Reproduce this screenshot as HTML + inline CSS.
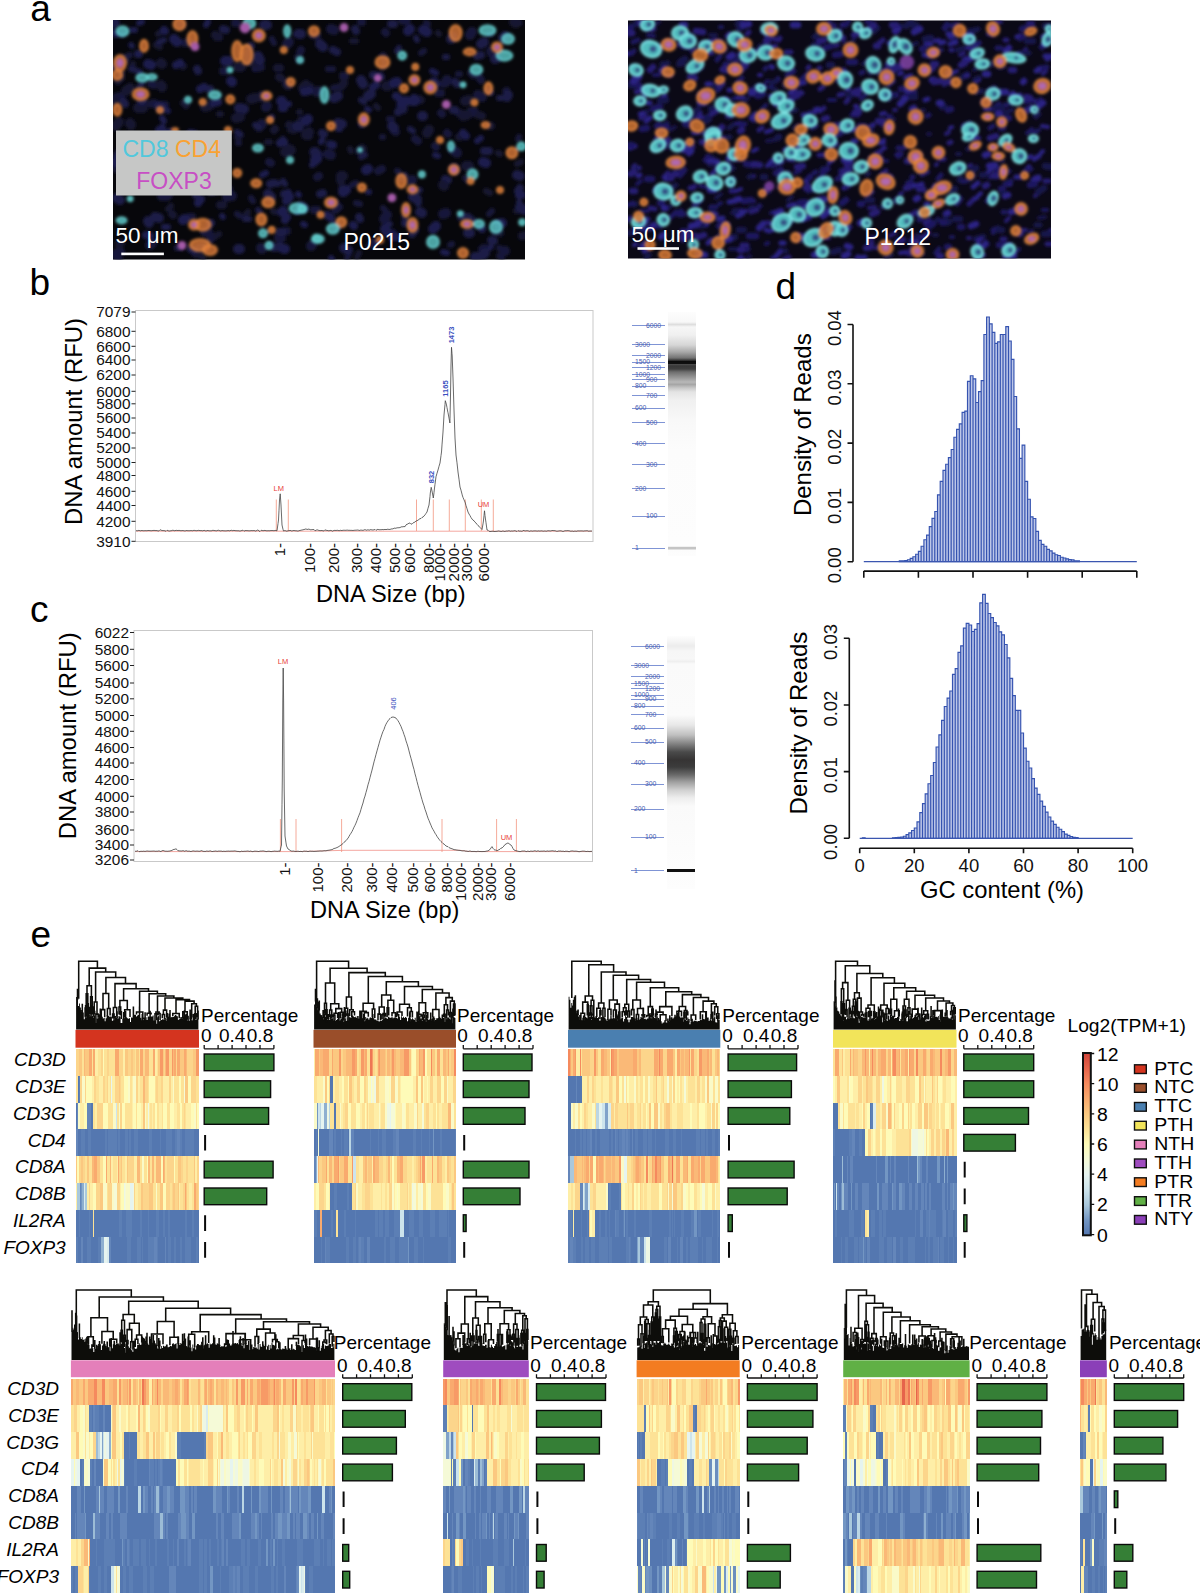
<!DOCTYPE html>
<html><head><meta charset="utf-8"><title>Figure</title>
<style>
html,body{margin:0;padding:0;background:#fff}
body{width:1200px;height:1593px;overflow:hidden;position:relative}
svg{position:absolute;left:0;top:0;display:block}
text{font-family:"Liberation Sans",sans-serif}
</style></head><body>
<svg width="1200" height="1593" viewBox="0 0 1200 1593" font-family="Liberation Sans, sans-serif">
<defs><filter id="bl1" x="-5%" y="-5%" width="110%" height="110%"><feGaussianBlur stdDeviation="1.8"/></filter><filter id="bl2" x="-5%" y="-5%" width="110%" height="110%"><feGaussianBlur stdDeviation="1.1"/></filter><filter id="bl3" x="-5%" y="-5%" width="110%" height="110%"><feGaussianBlur stdDeviation="1.4"/></filter></defs>
<text x="30.2" y="20.5" font-size="37">a</text>
<text x="29.5" y="295.2" font-size="37">b</text>
<text x="30" y="622" font-size="37">c</text>
<text x="775.5" y="298.8" font-size="37">d</text>
<text x="30.5" y="946.7" font-size="37">e</text>
<style>.c{fill:#2a6680;fill-opacity:.85;stroke:#7ce4e4;stroke-width:2.4}.o{fill:#b0602e;fill-opacity:.85;stroke:#f09444;stroke-width:2.2}.m{fill:#c070c4;stroke:#c070c4;stroke-width:1}.mc{fill:#b068c8;fill-opacity:.85}.lc{fill:#5cc8c8;fill-opacity:.8;stroke:#6ad8d8;stroke-width:1.6}.lo{fill:#d87838;fill-opacity:.8;stroke:#ec8c40;stroke-width:1.6}.lm{fill:#a45aa8;stroke:#a45aa8;stroke-width:1}.rc{fill:#58cccc;fill-opacity:.92;stroke:#84e8e8;stroke-width:1.8}.ro{fill:#d07434;fill-opacity:.85;stroke:#ec8c40;stroke-width:1.8}.rm{fill:#8a48b0;stroke:#8a48b0;stroke-width:1;opacity:.8}.cn{fill:#2c3a78;fill-opacity:.8}[class^=n]{fill:none;stroke-linecap:round}.n0{stroke:#15163a}.n1{stroke:#1a1b46}.n2{stroke:#121332}.n3{stroke:#1c1c4e}.q0{stroke:#1e1860}.q1{stroke:#261d72}.q2{stroke:#18134c}.q3{stroke:#2c2284}[class^=q]{fill:none;stroke-linecap:round}</style>
<clipPath id="ca1"><rect x="113" y="20" width="412" height="239.5"/></clipPath>
<rect x="113" y="20" width="412" height="239.5" fill="#07070b"/>
<g clip-path="url(#ca1)">
<g filter="url(#bl1)"><path class="n0" stroke-width="10" d="M443 214l3 -1M403 20l3 -0M328 154l3 1M150 245l2 -2M266 107l1 -1M138 151l2 -2M491 51l1 2M227 195l5 1M384 219l3 -4M211 174l2 3M227 197l2 -1M331 29l3 1M311 246l1 -1M453 150l4 3M446 82l1 -2M162 196l1 -0M205 232l3 -0M182 154l4 -2M504 251l1 -0M121 61l4 -2M470 35l2 -3M401 106l2 3M336 226l1 -1M261 248l1 1M118 99l2 -2M478 95l4 2M374 243l1 0M259 127l3 -3M287 44l2 -2M249 61l2 0M471 112l3 0M469 224l3 -3M317 92l1 -1M181 142l3 -4M261 97l1 -1M287 84l1 1M116 254l4 -2M314 152l4 3M166 196l2 -1M411 181l1 -1"/><path class="n3" stroke-width="6" d="M271 118l1 -1M381 75l1 2M297 212l2 -1M321 142l1 -2M371 245l4 -2M132 30l3 -0M338 129l2 -0M137 71l3 1M477 141l4 -3M331 258l1 1M113 67l5 2M312 165l3 -2M443 252l4 1M285 104l4 0M368 192l1 0M516 19l3 4M190 132l5 1M298 194l1 1M487 249l4 -2M435 155l3 1M432 71l4 2M303 224l2 1M262 175l4 -2M222 216l1 1M255 69l1 -1M162 118l2 3M488 90l3 3M164 227l4 0M165 108l3 3M139 23l3 -1M206 25l2 -3M367 109l2 1"/><path class="n0" stroke-width="8" d="M459 113l3 1M394 131l2 1M190 217l2 -0M415 139l3 2M479 77l2 3M217 37l2 0M210 240l3 -3M163 105l2 -0M235 23l2 -0M393 233l1 1M151 104l3 -1M313 35l4 1M300 52l1 -2M343 76l2 0M441 113l1 1M335 210l4 -3M361 22l1 -0M278 238l4 0M447 133l1 1M378 171l4 -2M435 146l1 1M223 71l2 0M285 231l2 -0M258 68l3 -1M383 56l1 2M438 93l3 0M329 144l1 0M314 210l3 -0M482 249l2 -1M269 162l2 1M385 32l1 1M151 84l3 1M185 43l4 -1M317 177l2 -1M307 87l3 -0M123 155l2 1"/><path class="n2" stroke-width="8" d="M341 87l3 -4M120 153l3 1M340 180l1 2M118 81l3 -3M215 35l2 1M119 244l2 -1M522 236l4 -1M490 126l1 -0M238 137l2 -2M274 130l1 -1M279 77l2 1M459 137l3 -1M184 103l2 2M172 214l1 1M220 205l3 0M277 68l3 -0M192 149l1 -1M298 57l1 2M181 64l2 2M115 168l1 1M479 115l3 1M289 125l2 1M201 181l2 3M419 99l2 1M217 161l1 1M496 233l4 -0M246 54l5 1M301 120l1 1M254 64l2 -1"/><path class="n0" stroke-width="6" d="M470 73l3 3M397 171l2 1M499 256l3 2M128 56l2 -1M505 91l2 -1M116 258l4 2M383 67l1 -2M238 143l1 0M404 217l1 1M458 74l2 0M382 137l1 0M450 245l2 -1M426 23l2 1M499 248l2 1M489 34l2 0M421 53l3 -2M460 218l3 -3M356 203l4 1M251 198l2 3M518 139l1 -2M347 258l2 -4M352 185l4 -2M237 214l3 2M465 178l2 2M441 84l3 1M122 35l1 -2M272 39l2 4M389 119l3 0M116 96l4 1M489 214l3 -3M264 249l1 -1M383 208l2 2M129 153l2 -2M333 88l4 -1M229 190l1 -1M120 74l2 -1M328 69l5 0"/><path class="n2" stroke-width="6" d="M246 214l2 -2M498 153l2 1M273 211l2 1M494 233l3 -0M216 236l3 -2M352 41l4 0M201 256l2 2M156 45l4 2M168 209l3 -3M290 130l4 1M516 211l2 -0M486 191l4 2M438 33l1 1M132 66l1 -2M219 114l2 -0M350 149l1 2M158 34l4 -2M376 106l2 2M517 164l4 -2M369 246l2 -3M267 142l3 -0M299 112l1 0M357 257l2 -4"/><path class="n1" stroke-width="10" d="M148 221l1 2M507 97l1 -2M466 218l2 0M315 152l1 1M320 44l3 3M503 38l2 -2M268 194l3 3M451 39l2 -2M211 191l4 -1M297 126l2 1M112 23l3 -0M361 80l2 4M118 156l3 -4M368 96l3 -2M307 134l1 1M238 249l2 -0M392 126l2 2M299 34l2 -0M239 108l5 1M483 255l2 -2M422 116l1 0M264 25l3 -0M334 98l4 -2M520 207l4 3M117 198l3 2M155 217l4 1M301 206l3 2M475 257l2 -0M413 197l4 2M182 153l2 4M279 247l1 0M495 59l2 -1M420 212l2 1M517 175l3 1M481 44l3 -2M338 123l4 1M258 56l2 4M468 233l2 -0M344 248l4 2"/><path class="n1" stroke-width="8" d="M405 223l3 0M297 34l1 -1M200 165l4 -1M320 194l3 -1M272 246l2 2M270 184l4 -1M445 179l3 1M477 56l4 -1M391 24l3 -0M250 47l1 -1M123 101l2 3M154 180l1 0M398 112l4 -3M333 50l4 2M412 234l3 -4M484 151l5 -0M455 82l2 2M453 110l2 -0M491 240l3 1M284 194l5 2M197 69l1 2M373 75l5 1M322 133l2 1M223 29l3 1M359 217l1 2M279 232l4 0M355 29l1 2M518 191l2 -3M392 237l2 -0M209 89l1 0"/><path class="n2" stroke-width="10" d="M465 101l4 -1M463 116l4 -1M138 108l5 0M306 135l3 -3M196 253l2 0M285 152l4 0M360 151l2 -2M238 67l3 0M113 100l2 2M443 185l1 1M427 133l2 -3M386 86l2 0M199 180l3 -2M303 88l3 -3M116 126l3 -4M188 186l3 1M180 24l1 -0M289 149l2 1M466 166l3 0M236 118l4 -1M205 107l4 -1M161 85l1 2M341 176l2 -0M130 123l1 2M161 63l1 1M126 91l4 -3M514 22l2 1M200 249l3 -1M251 99l4 -1"/><path class="n1" stroke-width="6" d="M283 181l2 3M195 196l2 -1M418 191l2 -1M361 157l4 -2M416 38l1 2M258 210l2 2M277 183l1 1M282 140l1 -1M410 129l3 2M418 204l1 -1M361 100l3 2M131 45l1 1M154 167l3 -4M397 51l2 -3M341 189l5 1M519 202l1 1M177 248l3 -0M499 98l3 -0M139 87l3 -3M255 125l4 2M159 42l5 -2M401 178l4 -3M237 132l3 2M445 57l2 -0M388 225l2 -1M245 219l4 -0M131 69l4 1"/><path class="n3" stroke-width="10" d="M402 103l4 -2M282 212l1 -1M394 83l3 -1M231 81l1 1M498 224l4 -1M183 220l2 -1M159 106l3 2M116 162l3 -2M433 229l3 -3M483 162l3 1M454 168l1 2M434 82l1 2M225 61l4 -0M315 160l2 -1M408 31l2 -2M281 101l1 0M174 39l3 3M343 192l3 -2M284 249l1 0M148 64l3 1M306 121l2 -2M366 170l2 -1M423 30l4 2M385 229l2 3M412 101l3 -0"/><path class="n3" stroke-width="8" d="M214 103l4 -1M176 65l4 -2M115 33l1 1M191 249l3 1M519 195l3 -0M334 203l1 -0M210 224l1 -1M141 101l2 0M146 235l4 1M164 30l1 1M288 193l2 4M166 134l4 -2M159 130l3 -2M138 54l1 -0M481 228l1 1M463 133l3 3M373 87l3 -2M286 201l2 -1M127 145l4 0M285 220l2 -3M362 124l1 -1M280 143l4 -1M198 203l3 -4M414 98l1 1M327 215l4 3M304 92l5 -1M332 145l1 0M396 96l3 2M392 236l4 1M282 108l2 -0M200 89l4 -2M187 165l2 1M353 225l1 1"/></g>
<g filter="url(#bl3)"><ellipse class="lc" cx="122.5" cy="31.2" rx="6" ry="5"/><ellipse class="lo" cx="179.4" cy="24.3" rx="6" ry="6"/><ellipse class="lo" cx="192.4" cy="39" rx="5" ry="8"/><ellipse class="lm" cx="195" cy="46.7" rx="4" ry="4"/><ellipse class="lo" cx="144" cy="45.9" rx="4" ry="6"/><ellipse class="lo" cx="120" cy="63" rx="6" ry="8"/><ellipse class="mc" cx="120" cy="63" rx="3" ry="4"/><ellipse class="lo" cx="117.3" cy="75" rx="5" ry="5"/><ellipse class="lc" cx="142.3" cy="77.8" rx="6" ry="4"/><ellipse class="lc" cx="151.8" cy="77" rx="5" ry="3"/><ellipse class="lo" cx="140.6" cy="94.2" rx="8" ry="6"/><ellipse class="mc" cx="140.6" cy="94.2" rx="4" ry="3"/><ellipse class="lo" cx="117.3" cy="109.7" rx="4" ry="6"/><ellipse class="lc" cx="214.8" cy="95" rx="6" ry="4"/><ellipse class="lc" cx="188" cy="99.7" rx="3" ry="3"/><ellipse class="lo" cx="230.3" cy="99.4" rx="4" ry="4"/><ellipse class="lo" cx="202.7" cy="102" rx="3" ry="3"/><ellipse class="lo" cx="237.2" cy="51" rx="5" ry="10"/><ellipse class="lo" cx="246.7" cy="54.5" rx="6" ry="10"/><ellipse class="lc" cx="249.3" cy="23.4" rx="6" ry="5"/><ellipse class="lm" cx="245" cy="27.8" rx="5" ry="5"/><ellipse class="lo" cx="258.8" cy="35.5" rx="6" ry="6"/><ellipse class="mc" cx="258.8" cy="35.5" rx="3" ry="3"/><ellipse class="lc" cx="287.2" cy="31.2" rx="3" ry="6"/><ellipse class="lo" cx="314" cy="31.2" rx="5" ry="5"/><ellipse class="lo" cx="283.8" cy="50" rx="3" ry="3"/><ellipse class="lo" cx="290.7" cy="82" rx="4" ry="4"/><ellipse class="lo" cx="266.5" cy="95.9" rx="5" ry="4"/><ellipse class="mc" cx="266.5" cy="95.9" rx="2.5" ry="2"/><ellipse class="lm" cx="344" cy="27.5" rx="4" ry="4"/><ellipse class="lo" cx="382.5" cy="62.2" rx="7" ry="6"/><ellipse class="lc" cx="402.2" cy="55.6" rx="4" ry="4"/><ellipse class="lm" cx="377.8" cy="78" rx="3.5" ry="3.5"/><ellipse class="lo" cx="414.4" cy="80" rx="5" ry="5"/><ellipse class="mc" cx="414.4" cy="80" rx="2.5" ry="2.5"/><ellipse class="lo" cx="404" cy="88.4" rx="4" ry="4"/><ellipse class="lo" cx="430.3" cy="87.5" rx="6" ry="6"/><ellipse class="mc" cx="430.3" cy="87.5" rx="3" ry="3"/><ellipse class="lo" cx="415.3" cy="66.9" rx="3" ry="3"/><ellipse class="lc" cx="324.4" cy="95" rx="4" ry="8"/><ellipse class="lo" cx="363.8" cy="119.4" rx="5" ry="6"/><ellipse class="mc" cx="363.8" cy="119.4" rx="2.5" ry="3"/><ellipse class="lo" cx="331" cy="126" rx="4" ry="4"/><ellipse class="lm" cx="446.3" cy="104.4" rx="4" ry="4"/><ellipse class="lo" cx="455.6" cy="33" rx="6" ry="8"/><ellipse class="lo" cx="469.7" cy="51.9" rx="6" ry="3.5"/><ellipse class="lc" cx="487.5" cy="30.3" rx="8" ry="5"/><ellipse class="lc" cx="508" cy="38.8" rx="6" ry="5"/><ellipse class="lc" cx="504.4" cy="55.6" rx="8" ry="5"/><ellipse class="lo" cx="497" cy="47.2" rx="5" ry="5"/><ellipse class="mc" cx="497" cy="47.2" rx="2.5" ry="2.5"/><ellipse class="lc" cx="476.3" cy="69.7" rx="6" ry="5"/><ellipse class="lo" cx="488.4" cy="88.4" rx="4" ry="6"/><ellipse class="lo" cx="474.4" cy="102.5" rx="3" ry="3"/><ellipse class="lo" cx="485.6" cy="125" rx="4" ry="3"/><ellipse class="lc" cx="463" cy="84.7" rx="2.5" ry="2.5"/><ellipse class="lc" cx="257.9" cy="148" rx="5" ry="3.5"/><ellipse class="lo" cx="237.2" cy="173" rx="4" ry="4"/><ellipse class="lo" cx="256.2" cy="183.3" rx="5" ry="4"/><ellipse class="lo" cx="268.3" cy="202.3" rx="6" ry="5"/><ellipse class="lc" cx="297.6" cy="208.3" rx="8" ry="5"/><ellipse class="lo" cx="261.4" cy="219.5" rx="5" ry="6"/><ellipse class="lo" cx="202.7" cy="224.7" rx="8" ry="6"/><ellipse class="lo" cx="194" cy="224.7" rx="5" ry="5"/><ellipse class="mc" cx="194" cy="224.7" rx="2.5" ry="2.5"/><ellipse class="lo" cx="200" cy="245" rx="10" ry="6"/><ellipse class="lo" cx="210" cy="250" rx="7" ry="5"/><ellipse class="lm" cx="182" cy="245.4" rx="4" ry="4"/><ellipse class="lc" cx="121.6" cy="220.4" rx="5" ry="3"/><ellipse class="lc" cx="263" cy="233.3" rx="4" ry="4"/><ellipse class="lc" cx="269" cy="245.4" rx="3.5" ry="3.5"/><ellipse class="lc" cx="316.5" cy="238.5" rx="4" ry="4"/><ellipse class="lo" cx="271.7" cy="229.9" rx="3" ry="3"/><ellipse class="lc" cx="130.2" cy="198.8" rx="2.5" ry="2.5"/><ellipse class="lc" cx="451" cy="146.3" rx="3" ry="5"/><ellipse class="lo" cx="511.9" cy="152.8" rx="5.5" ry="5.5"/><ellipse class="lc" cx="521.3" cy="146.3" rx="4" ry="4"/><ellipse class="lo" cx="453.8" cy="169.7" rx="5" ry="5"/><ellipse class="mc" cx="453.8" cy="169.7" rx="2.5" ry="2.5"/><ellipse class="lc" cx="472.5" cy="174.4" rx="5" ry="5"/><ellipse class="lo" cx="470.6" cy="181" rx="3" ry="3"/><ellipse class="lo" cx="401.3" cy="181" rx="5" ry="7"/><ellipse class="lc" cx="421.9" cy="174.4" rx="3" ry="3"/><ellipse class="lo" cx="412.5" cy="189.4" rx="5" ry="4"/><ellipse class="mc" cx="412.5" cy="189.4" rx="2.5" ry="2"/><ellipse class="lo" cx="361.9" cy="187.5" rx="4" ry="4"/><ellipse class="lo" cx="331" cy="202.5" rx="6" ry="5"/><ellipse class="mc" cx="331" cy="202.5" rx="3" ry="2.5"/><ellipse class="lc" cx="302.8" cy="209" rx="4" ry="4"/><ellipse class="lo" cx="406" cy="210" rx="4" ry="7"/><ellipse class="mc" cx="406" cy="210" rx="2" ry="3.5"/><ellipse class="lo" cx="412.5" cy="225" rx="5" ry="7"/><ellipse class="mc" cx="412.5" cy="225" rx="2.5" ry="3.5"/><ellipse class="lm" cx="391.9" cy="197.8" rx="4" ry="4"/><ellipse class="lo" cx="341.3" cy="222.2" rx="5" ry="5"/><ellipse class="lc" cx="332.8" cy="228.8" rx="6" ry="5"/><ellipse class="lc" cx="317.8" cy="239" rx="6" ry="4"/><ellipse class="lc" cx="433" cy="241.9" rx="6" ry="6"/><ellipse class="lo" cx="466.9" cy="224" rx="6" ry="4"/><ellipse class="mc" cx="466.9" cy="224" rx="3" ry="2"/><ellipse class="lc" cx="479" cy="224" rx="5" ry="4"/><ellipse class="lc" cx="496" cy="226.9" rx="6" ry="6"/><ellipse class="lc" cx="522.2" cy="222.2" rx="3" ry="3"/><ellipse class="lo" cx="463" cy="253" rx="5" ry="5"/><ellipse class="lo" cx="320.6" cy="214.7" rx="3" ry="3"/><ellipse class="lc" cx="460.3" cy="213.8" rx="2.5" ry="2.5"/><ellipse class="lo" cx="160" cy="110" rx="3" ry="3"/><ellipse class="lo" cx="175" cy="130" rx="3" ry="2"/><ellipse class="lo" cx="228" cy="130" rx="3" ry="3"/><ellipse class="lc" cx="300" cy="60" rx="3" ry="3"/><ellipse class="lo" cx="350" cy="70" rx="3" ry="3"/><ellipse class="lc" cx="360" cy="150" rx="2" ry="2"/><ellipse class="lo" cx="440" cy="140" rx="3" ry="3"/><ellipse class="lc" cx="290" cy="160" rx="3" ry="3"/><ellipse class="lo" cx="150" cy="160" rx="2" ry="2"/><ellipse class="lo" cx="380" cy="240" rx="3" ry="3"/><ellipse class="lo" cx="500" cy="190" rx="3" ry="3"/><ellipse class="lc" cx="230" cy="70" rx="2.5" ry="2.5"/><ellipse class="lo" cx="270" cy="120" rx="3" ry="3"/></g>
</g>
<clipPath id="ca2"><rect x="628" y="20.5" width="423" height="238"/></clipPath>
<rect x="628" y="20.5" width="423" height="238" fill="#0b0916"/>
<g clip-path="url(#ca2)">
<g filter="url(#bl3)"><path class="q1" stroke-width="4" d="M890 236l5 -3M995 22l6 -0M784 150l2 -1M1046 234l5 -4M922 175l6 -3M827 25l3 -3M704 93l4 0M749 201l5 -0M971 53l4 -0M778 161l2 -2M946 134l3 -2M988 34l5 1M822 232l3 -3M888 127l3 -0M960 55l4 -2M963 77l5 -1M1043 74l3 -3M770 66l2 -0M760 115l3 -2M900 194l2 -1M1035 196l4 -3M766 36l3 -1M836 136l5 -2M833 130l3 -2M763 223l6 -1M779 187l3 -2M847 184l2 0M910 97l5 -4M870 158l4 -0M894 110l2 -0M772 258l5 -2M870 88l2 -2M1028 23l5 -0M769 224l4 0M1042 37l5 -3M840 175l5 -0M751 177l3 -1M796 239l6 -0M889 85l5 -4M719 226l5 -1M835 46l3 -1M735 124l6 -1M825 238l4 0M876 248l2 -1M736 56l4 -2M1006 221l3 -3M950 44l6 -1M807 114l4 -2M936 165l1 -1M827 132l6 1M969 166l2 -1M697 221l2 -0M977 257l7 -2M1019 230l7 -0M968 238l2 -0M944 85l3 -3M1024 51l2 -2M869 208l6 -1M856 258l2 -2M633 167l2 -2M919 237l7 -0M925 235l4 -2M870 239l3 -2"/><path class="q2" stroke-width="5" d="M755 87l3 -1M843 132l6 -1M690 215l3 1M1032 132l4 -0M822 169l6 -1M640 114l6 -2M814 37l4 -3M735 37l4 -0M970 59l7 0M710 161l3 -3M684 36l5 -2M671 188l5 -3M646 258l3 -3M870 73l4 -5M695 72l2 -1M760 46l6 -0M802 206l2 -0M976 92l6 -1M634 205l2 -1M886 257l5 -2M941 188l5 -3M781 121l6 -1M1022 53l7 0M953 39l3 -1M968 149l3 -2M903 148l4 -3M938 192l2 0M936 221l2 -2M723 138l7 -1M1006 112l6 -2M662 64l6 -1M851 94l4 -3M720 85l2 -2M957 50l6 -2M729 128l4 -3M882 207l4 -1M1011 103l3 -3M660 73l4 -3M731 185l1 0M662 127l5 -4M969 31l6 -1M802 217l1 -1M789 111l7 -1M721 240l3 -3M974 31l4 -2M1036 225l4 -0M749 177l2 -1M780 250l6 1M962 77l5 -3M991 65l5 -3M680 149l3 -3M744 101l3 -2M898 29l3 -3"/><path class="q3" stroke-width="5" d="M859 258l6 -1M940 43l4 -1M708 243l3 -3M1035 178l4 -1M1017 37l4 -1M638 176l2 -1M926 44l5 -0M707 84l4 -0M815 112l3 -3M1045 56l5 -0M869 128l4 -3M1036 71l4 -1M1034 159l5 -3M818 200l5 -2M926 204l2 -0M1016 177l5 -0M776 256l4 -4M1047 59l5 -3M714 190l1 -1M889 43l5 1M1015 97l5 -2M950 44l6 -2M837 80l4 -1M662 190l3 0M948 34l5 0M1033 180l6 -1M852 129l5 1M626 54l6 -1M696 112l4 1M844 188l3 -1M646 121l4 -3M1007 184l3 0M729 90l2 0M973 187l5 -4M729 202l6 -1M823 200l3 -1M815 211l3 -1M842 71l2 -1M728 159l4 -4M666 42l5 -0M781 243l3 0M853 141l3 0M950 37l3 -2M660 133l2 -2M816 53l3 0M718 219l5 -1M1025 172l4 -5M925 100l3 -1M636 169l3 -1M860 127l5 -1M911 241l7 1M648 103l2 -0M630 148l5 -2M711 214l5 0M806 181l2 -2M766 230l3 1M721 237l6 0M976 45l3 -2M924 55l7 1M917 186l5 -2M662 98l3 -2M977 247l2 -2M790 93l6 0M985 156l3 -1M735 159l3 -1M803 115l6 -1M804 207l5 -4M661 70l4 -2M883 71l3 -1M900 68l2 -2M968 42l3 -3"/><path class="q0" stroke-width="5" d="M717 60l3 -4M712 108l1 -0M909 93l6 -1M787 81l4 -1M852 115l6 0M643 97l3 -3M919 220l3 -1M878 73l2 0M814 173l2 -1M747 250l1 -1M987 201l2 -2M1005 184l6 -3M682 215l2 -1M990 128l3 -2M671 217l5 -5M759 206l1 0M819 179l3 -3M1007 172l2 -1M918 215l5 -2M1003 212l2 0M993 230l5 -2M1046 27l3 0M1026 28l7 -2M867 22l3 0M753 52l6 -2M938 179l3 -4M772 166l4 -1M1005 105l2 -0M706 118l4 -3M755 95l6 -3M656 139l2 -2M655 108l6 -1M693 188l2 -2M741 125l4 -1M737 108l5 -2M710 188l2 0M738 82l4 -4M765 69l1 -1M808 191l6 -2M996 106l3 -2M711 207l5 -0M725 64l3 0M837 179l5 -1M733 65l4 -5M825 232l1 -1M812 128l4 -2M1020 39l4 -3M927 116l2 -1M872 165l4 -2M903 97l3 0M633 42l5 -2M990 177l4 -3M631 53l3 -2M912 177l1 0M1025 171l6 -2M628 205l5 -2M861 73l2 -1M936 253l3 -4M898 148l6 -0M776 121l4 -0M692 51l3 -2M997 48l4 -0M881 124l5 1M728 181l5 -2M1041 68l6 -1"/><path class="q2" stroke-width="6.5" d="M838 80l1 -1M739 230l4 0M771 162l5 -3M716 240l4 -4M913 25l3 0M969 179l4 -3M739 146l3 -1M698 200l2 0M786 223l5 -2M785 85l6 -2M976 239l7 -2M715 86l6 -4M867 200l5 -0M866 130l5 -0M735 159l7 -0M689 118l6 -1M855 112l4 -2M989 91l5 -3M689 143l3 -1M629 233l5 -1M763 177l2 -0M942 107l2 -1M838 74l2 -3M1045 166l6 1M982 175l2 -0M1027 41l6 0M943 223l6 -1M706 121l3 -2M849 96l2 -1M1038 192l6 -4M663 146l6 0M999 230l3 -0M680 62l5 -3M735 211l7 0M696 111l2 -1M972 171l4 -3M960 180l1 -1M814 45l4 0M1044 234l5 -0M833 252l6 -2M660 101l6 -1M1045 26l5 -0M929 38l2 -0M738 24l3 -3M896 32l2 -2M955 219l5 0M739 29l5 -3M777 138l2 -1M895 201l1 -1M911 97l4 0M1036 116l2 -2M925 39l2 -0M927 221l2 -1M951 190l4 -1M751 209l2 -1M711 109l3 0M630 85l5 1M996 109l6 -1M702 44l5 0M731 238l4 -1M674 174l4 -4M849 168l3 -1M829 65l3 0M727 167l3 -2M874 31l3 -3M636 24l3 -3M906 26l5 -4M633 232l2 -2M732 58l3 -2M1005 248l2 -1"/><path class="q1" stroke-width="5" d="M780 163l2 -1M882 174l4 -3M642 230l4 -1M722 69l3 -2M940 159l4 0M786 52l5 -0M1047 244l6 -0M925 223l5 -1M750 90l4 1M820 111l4 -3M709 53l3 -0M842 25l5 -1M699 225l4 -5M747 34l2 -2M1002 239l3 -0M966 76l2 -1M641 118l4 -3M846 165l5 -3M856 112l2 -2M731 191l3 0M837 34l3 -3M1005 40l2 -0M788 159l5 1M1017 232l2 -0M760 86l5 1M755 115l2 -0M846 102l2 -2M808 68l1 -1M751 212l6 -2M727 36l2 -2M628 220l2 -2M949 143l2 -1M819 68l1 0M878 44l5 -4M876 154l5 -3M1034 101l5 1M725 99l2 -0M867 88l3 -0M778 39l2 -1M951 50l1 0M641 221l7 -2M930 196l3 0M842 74l4 -1M776 81l2 -2M742 245l5 0M656 189l3 -0M819 155l7 -0M969 204l5 -5M836 74l1 -1M799 84l1 0M682 231l7 -0M657 48l2 -1M650 208l5 1M725 71l5 -1M897 155l4 -1M784 259l5 -2M867 194l5 -2M1045 181l4 0M832 126l6 -2M712 114l5 -3M722 70l2 -2M907 253l6 -1M796 93l6 -0M832 195l2 -2M664 177l4 -4M911 215l5 -3M820 89l3 -2M759 130l3 -2M630 34l2 0M781 187l3 -0M652 30l2 -1M823 230l5 -2M690 188l4 -1M839 95l4 -1M743 60l2 -1M709 42l6 -2M712 174l5 -5M774 39l5 1M868 247l4 -4M691 148l2 -1"/><path class="q0" stroke-width="6.5" d="M728 116l2 0M945 28l2 -3M823 172l4 -3M799 203l6 -1M647 28l1 -1M660 203l2 -1M758 96l5 -2M723 50l1 -1M860 204l2 -0M642 129l5 -1M647 179l5 -0M629 145l3 -0M707 135l5 -5M831 146l5 -2M685 124l5 1M1022 29l6 -2M948 110l3 -1M746 164l7 1M628 30l3 -3M809 178l1 -1M1018 55l1 -1M706 160l3 -2M840 231l4 -4M960 227l2 -0M842 203l4 -3M928 227l5 -3M860 126l5 1M964 126l3 -1M744 201l7 -1M776 173l5 -3M719 226l5 -3M680 175l4 -5M957 203l3 -4M636 84l3 1M802 80l5 -5M999 245l6 -0M835 55l6 -1M788 75l5 -4M922 49l3 -1M901 89l5 0M828 26l6 -0M836 134l4 -3M695 205l2 -2M953 26l4 -1M749 236l7 0M1042 47l3 -3M849 62l6 0M997 170l4 -1M909 187l4 -2M1001 128l2 0M806 117l2 -2M1005 118l4 0M676 163l6 -1M907 91l6 -2M863 33l3 -1M653 109l5 -2M879 159l2 -0M663 127l4 -0M894 95l2 0M947 247l2 -0M679 214l2 -2M889 117l1 0M942 222l2 0M1030 185l5 -1M1026 101l5 -1M657 126l2 -1M1001 189l2 0M825 48l6 -2M688 38l4 1"/><path class="q0" stroke-width="4" d="M982 246l6 -2M898 157l3 -2M951 237l2 0M1038 101l3 -2M707 156l2 -0M641 211l7 0M763 192l6 0M678 45l5 -5M719 204l2 -1M682 47l7 1M766 244l2 -1M907 183l4 -2M658 227l3 -1M772 82l4 -1M1030 232l2 -1M762 32l3 -2M885 161l2 -0M720 27l2 -0M692 236l3 -2M963 182l4 -1M845 26l4 -5M759 88l6 -2M838 124l7 1M707 134l7 -2M970 138l6 -4M861 99l5 -5M781 98l2 0M1004 50l3 -1M795 173l5 -2M1034 132l5 -2M762 109l4 -4M829 100l6 -0M641 128l2 0M972 43l7 0M782 127l2 -1M846 187l4 -2M714 144l5 0M935 50l7 -0M771 213l2 -1M710 220l2 -2M1027 133l5 -4M770 87l2 -1M978 253l1 -1M654 75l5 -0M1015 253l4 -4M799 85l2 -2M654 191l4 -0M993 233l1 -1M733 99l4 -2M1043 210l4 0M840 171l1 -1M739 66l6 -3M702 133l3 0M626 174l5 0M775 219l4 -1M681 238l2 -1M637 184l4 -3M700 186l6 1M754 121l2 -1M717 91l3 -2M766 82l2 -1M780 177l2 -2M654 149l2 0M737 82l1 -0M648 35l6 1"/><path class="q3" stroke-width="6.5" d="M946 214l2 -1M814 255l4 -1M1011 212l6 -2M759 228l4 -4M666 178l5 -0M661 237l2 -2M912 109l2 -1M822 230l6 -0M803 219l6 -2M860 223l2 -1M883 96l5 -2M966 36l5 0M738 215l4 -2M640 225l6 -4M710 190l4 0M907 90l3 -1M684 150l4 -2M664 208l2 0M965 60l4 -1M1023 82l1 -1M847 246l3 1M1006 51l3 -3M939 103l2 -0M729 57l3 -2M689 153l2 -2M1001 92l5 0M793 25l5 -0M1005 196l3 -1M776 213l5 -2M642 247l3 -3M635 78l2 -1M1011 256l3 -0M736 200l3 -1M691 226l5 -1M998 114l2 0M698 254l7 1M948 73l3 0M682 25l3 0M916 199l2 -1M743 25l6 -1M710 162l7 0M932 80l2 0M989 166l6 -1M844 160l6 0M700 225l6 -1M971 226l5 -2M633 81l6 -4M724 226l3 -1M895 31l3 -2M650 228l4 -3M752 118l3 -3M726 240l4 -1M1039 106l4 -3M1012 95l1 -1M985 74l3 -0M912 250l4 -1M823 216l5 -4M700 103l4 0M751 93l2 -1M739 260l2 -2M900 104l5 -5M914 32l6 -3M976 80l2 -1M985 155l3 -1M844 256l4 -2"/><path class="q2" stroke-width="4" d="M631 171l6 -2M732 213l5 -1M999 68l5 -1M678 65l6 -1M896 65l6 -0M701 227l3 -3M786 173l3 -1M960 79l2 -0M716 198l5 -4M740 109l4 -1M928 134l2 0M632 67l3 -0M934 53l4 1M645 44l3 -3M765 189l3 -1M710 35l6 -0M921 111l3 -1M919 173l5 -2M798 240l4 1M730 249l6 0M710 211l4 -2M788 200l4 -3M975 79l3 -1M942 185l2 -1M767 141l7 -1M772 83l5 -3M877 73l5 -1M957 154l3 0M892 119l2 -0M654 25l5 -3M782 229l3 -1M669 207l2 -1M709 165l4 -0M863 64l4 -3M926 193l5 -1M918 254l5 0M794 128l4 -3M670 130l5 -3M731 170l3 -2M1039 218l6 -1M912 45l5 -2M849 44l5 -4M794 206l3 0M643 113l5 -2M747 258l3 -2M944 219l3 -2M743 231l2 -2M966 126l4 -4M1002 193l2 -1M867 175l2 -2M974 70l2 -1M912 238l6 -3M822 209l6 -3M844 43l1 -0M792 83l6 0M627 35l7 -2M999 160l4 1M732 36l7 1M698 67l4 1M889 100l5 -4M772 89l4 0M739 106l2 -1M934 235l3 0"/><path class="q3" stroke-width="4" d="M1028 158l3 -2M829 163l4 -3M770 96l2 -0M978 241l3 -2M935 41l4 -1M824 201l4 -2M815 109l5 1M933 188l2 -3M1004 257l3 -1M1037 70l2 -2M767 166l5 -5M847 90l2 -1M792 142l2 -1M738 98l5 -1M698 118l4 -1M975 199l2 -1M899 74l3 -1M821 76l6 -0M764 193l1 -1M988 172l4 -3M855 106l2 0M1008 246l2 -2M907 77l4 -2M772 68l1 -1M967 48l6 -0M717 41l4 -0M634 245l2 -1M883 148l2 0M881 114l4 -1M976 198l5 -5M788 206l6 -2M900 253l6 -1M879 143l5 -3M636 92l5 -1M676 175l1 -1M653 50l6 -1M950 128l2 -1M720 140l3 -2M1042 126l6 1M799 83l6 -0M792 89l3 0M684 119l4 -1M693 133l5 -0M640 114l3 -1M984 247l2 -2M736 191l5 -2M706 145l5 0M741 213l5 -2M766 132l6 -2M983 245l3 -3M770 231l3 -1M666 74l5 1M699 95l5 -4M771 47l5 -1M644 252l5 -4M935 204l2 -0M985 109l6 -0M955 72l2 -1M905 78l2 -2M1043 44l5 -3M797 148l3 -2M759 75l2 -0M753 151l4 -2M1041 153l2 -2M880 143l4 -0M913 186l6 -1M975 139l4 -1"/><path class="q1" stroke-width="6.5" d="M819 41l5 -1M888 65l4 0M855 113l4 -1M798 154l4 -0M892 71l6 -4M961 65l4 -2M912 157l7 -2M928 71l5 -3M720 86l2 -2M841 38l2 0M866 248l5 -1M946 82l4 -0M682 237l1 -1M1025 111l6 -3M768 37l2 0M797 96l3 -3M698 237l6 -2M934 82l7 -1M845 229l4 -2M754 164l6 1M994 176l3 -0M797 167l6 -1M662 143l6 -3M824 119l3 -1M984 102l5 0M632 191l3 -0M990 138l6 -2M789 100l3 -1M740 131l2 -1M910 253l6 -3M907 161l3 0M718 132l4 -5M878 121l5 0M641 90l4 0M670 177l5 -3M1020 234l1 -1M690 77l5 1M942 186l2 0M898 241l5 -1M886 180l4 -3M740 250l2 -0M766 41l2 0M933 64l3 0M650 70l3 -3M939 256l2 0M806 188l2 -2M683 239l5 -3M630 33l2 0M919 189l4 -0M857 94l1 -0M854 35l3 -1M1011 70l3 0M702 142l5 -0M631 174l3 -2M640 23l3 -2M854 92l6 -2M1026 97l4 1M844 171l5 -1M696 31l7 1M892 25l4 -0M741 70l5 -5M799 236l7 1M869 29l5 -4M876 46l2 0M985 186l2 -1M819 200l2 0M906 188l3 -1M872 214l5 -2M776 104l2 -3"/></g>
<g filter="url(#bl3)"><ellipse class="rc" cx="651" cy="49" rx="10.3" ry="8" transform="rotate(17 651 49)"/><circle class="cn" cx="653.1" cy="49" r="3.6"/><ellipse class="rc" cx="647.4" cy="24.4" rx="6.9" ry="5.8" transform="rotate(-23 647.4 24.4)"/><circle class="cn" cx="648.8" cy="24.4" r="2.6"/><ellipse class="rc" cx="680" cy="33" rx="8" ry="6.9" transform="rotate(-2 680 33)"/><circle class="cn" cx="681.6" cy="33" r="3.1"/><ellipse class="rc" cx="688" cy="41" rx="8" ry="6.9" transform="rotate(0 688 41)"/><circle class="cn" cx="689.6" cy="41" r="3.1"/><ellipse class="rc" cx="705.7" cy="46.5" rx="6.9" ry="5.8" transform="rotate(-16 705.7 46.5)"/><circle class="cn" cx="707.1" cy="46.5" r="2.6"/><ellipse class="rc" cx="735.8" cy="39.4" rx="8" ry="6.9" transform="rotate(25 735.8 39.4)"/><circle class="cn" cx="737.4" cy="39.4" r="3.1"/><ellipse class="rc" cx="748" cy="55.3" rx="8" ry="6.9" transform="rotate(-16 748 55.3)"/><circle class="cn" cx="749.6" cy="55.3" r="3.1"/><ellipse class="rc" cx="765.8" cy="52.7" rx="8" ry="6.9" transform="rotate(-17 765.8 52.7)"/><circle class="cn" cx="767.4" cy="52.7" r="3.1"/><ellipse class="rc" cx="786" cy="63.3" rx="8" ry="6.9" transform="rotate(8 786 63.3)"/><circle class="cn" cx="787.6" cy="63.3" r="3.1"/><ellipse class="rc" cx="769.3" cy="28.8" rx="8" ry="5.8" transform="rotate(-5 769.3 28.8)"/><circle class="cn" cx="770.9" cy="28.8" r="2.6"/><ellipse class="rc" cx="815.3" cy="53.6" rx="9.2" ry="6.9" transform="rotate(10 815.3 53.6)"/><circle class="cn" cx="817.1" cy="53.6" r="3.1"/><ellipse class="rc" cx="834.7" cy="35.9" rx="6.9" ry="5.8" transform="rotate(-29 834.7 35.9)"/><circle class="cn" cx="836.1" cy="35.9" r="2.6"/><ellipse class="rc" cx="695" cy="66" rx="9.2" ry="5.8" transform="rotate(-29 695 66)"/><circle class="cn" cx="696.8" cy="66" r="2.6"/><ellipse class="rc" cx="651" cy="90.7" rx="9.2" ry="5.8" transform="rotate(11 651 90.7)"/><circle class="cn" cx="652.8" cy="90.7" r="2.6"/><ellipse class="rc" cx="663.3" cy="89.8" rx="4.6" ry="3.4" transform="rotate(-12 663.3 89.8)"/><circle class="cn" cx="664.2" cy="89.8" r="1.6"/><ellipse class="rc" cx="760.5" cy="88" rx="4.6" ry="3.4" transform="rotate(19 760.5 88)"/><circle class="cn" cx="761.4" cy="88" r="1.6"/><ellipse class="rc" cx="778" cy="98" rx="8" ry="5.8" transform="rotate(-23 778 98)"/><circle class="cn" cx="779.6" cy="98" r="2.6"/><ellipse class="rc" cx="786" cy="106" rx="8" ry="5.8" transform="rotate(-23 786 106)"/><circle class="cn" cx="787.6" cy="106" r="2.6"/><ellipse class="rc" cx="723.4" cy="104.8" rx="8" ry="6.9" transform="rotate(20 723.4 104.8)"/><circle class="cn" cx="725" cy="104.8" r="3.1"/><ellipse class="rc" cx="732.2" cy="110" rx="6.9" ry="5.8" transform="rotate(-14 732.2 110)"/><circle class="cn" cx="733.6" cy="110" r="2.6"/><ellipse class="rc" cx="684.5" cy="113.6" rx="8" ry="6.9" transform="rotate(-32 684.5 113.6)"/><circle class="cn" cx="686.1" cy="113.6" r="3.1"/><ellipse class="rc" cx="781.7" cy="120.7" rx="10.3" ry="6.9" transform="rotate(-24 781.7 120.7)"/><circle class="cn" cx="783.8" cy="120.7" r="3.1"/><ellipse class="rc" cx="810" cy="120.7" rx="6.9" ry="5.8" transform="rotate(13 810 120.7)"/><circle class="cn" cx="811.4" cy="120.7" r="2.6"/><ellipse class="rc" cx="712.8" cy="134.8" rx="8" ry="6.9" transform="rotate(-21 712.8 134.8)"/><circle class="cn" cx="714.4" cy="134.8" r="3.1"/><ellipse class="rc" cx="659.8" cy="115.4" rx="5.8" ry="4.6" transform="rotate(-1 659.8 115.4)"/><circle class="cn" cx="660.9" cy="115.4" r="2.1"/><ellipse class="rc" cx="636" cy="70" rx="6.9" ry="5.8" transform="rotate(18 636 70)"/><circle class="cn" cx="637.4" cy="70" r="2.6"/><ellipse class="rc" cx="640" cy="101" rx="5.8" ry="4.6" transform="rotate(2 640 101)"/><circle class="cn" cx="641.1" cy="101" r="2.1"/><ellipse class="ro" cx="668.6" cy="44.7" rx="6.9" ry="5.8" transform="rotate(12 668.6 44.7)"/><ellipse class="mc" cx="668.6" cy="44.7" rx="3.4" ry="2.9"/><ellipse class="ro" cx="719" cy="46.5" rx="6.9" ry="5.8" transform="rotate(28 719 46.5)"/><ellipse class="mc" cx="719" cy="46.5" rx="3.4" ry="2.9"/><ellipse class="ro" cx="744.6" cy="44.7" rx="6.9" ry="5.8" transform="rotate(-19 744.6 44.7)"/><ellipse class="mc" cx="744.6" cy="44.7" rx="3.4" ry="2.9"/><ellipse class="ro" cx="771" cy="30.6" rx="5.8" ry="4.6" transform="rotate(21 771 30.6)"/><ellipse class="mc" cx="771" cy="30.6" rx="2.9" ry="2.3"/><ellipse class="ro" cx="824" cy="28.8" rx="6.9" ry="5.8" transform="rotate(-1 824 28.8)"/><ellipse class="mc" cx="824" cy="28.8" rx="3.4" ry="2.9"/><ellipse class="ro" cx="813.5" cy="76.5" rx="6.9" ry="5.8" transform="rotate(-25 813.5 76.5)"/><ellipse class="mc" cx="813.5" cy="76.5" rx="3.4" ry="2.9"/><ellipse class="ro" cx="827.6" cy="78.3" rx="6.9" ry="5.8" transform="rotate(-30 827.6 78.3)"/><ellipse class="mc" cx="827.6" cy="78.3" rx="3.4" ry="2.9"/><ellipse class="ro" cx="836.5" cy="73" rx="5.8" ry="4.6" transform="rotate(-17 836.5 73)"/><ellipse class="mc" cx="836.5" cy="73" rx="2.9" ry="2.3"/><ellipse class="ro" cx="705.7" cy="96" rx="9.2" ry="6.9" transform="rotate(-30 705.7 96)"/><ellipse class="mc" cx="705.7" cy="96" rx="4.6" ry="3.4"/><ellipse class="ro" cx="740.2" cy="88" rx="6.9" ry="5.8" transform="rotate(14 740.2 88)"/><ellipse class="mc" cx="740.2" cy="88" rx="3.4" ry="2.9"/><ellipse class="ro" cx="741" cy="110" rx="8" ry="6.9" transform="rotate(0 741 110)"/><ellipse class="mc" cx="741" cy="110" rx="4" ry="3.4"/><ellipse class="ro" cx="762.3" cy="116.3" rx="6.9" ry="5.8" transform="rotate(-36 762.3 116.3)"/><ellipse class="mc" cx="762.3" cy="116.3" rx="3.4" ry="2.9"/><ellipse class="ro" cx="831" cy="129.5" rx="6.9" ry="5.8" transform="rotate(21 831 129.5)"/><ellipse class="mc" cx="831" cy="129.5" rx="3.4" ry="2.9"/><ellipse class="ro" cx="700.4" cy="55.3" rx="6.9" ry="5.8" transform="rotate(1 700.4 55.3)"/><ellipse class="ro" cx="776.4" cy="53.6" rx="5.8" ry="4.6" transform="rotate(-8 776.4 53.6)"/><ellipse class="ro" cx="689.8" cy="85.4" rx="5.8" ry="4.6" transform="rotate(-30 689.8 85.4)"/><ellipse class="ro" cx="801" cy="129.5" rx="5.8" ry="4.6" transform="rotate(-7 801 129.5)"/><ellipse class="ro" cx="697" cy="126" rx="6.9" ry="5.8" transform="rotate(24 697 126)"/><ellipse class="ro" cx="661.6" cy="133" rx="5.8" ry="4.6" transform="rotate(0 661.6 133)"/><ellipse class="ro" cx="631.5" cy="126" rx="5.8" ry="4.6" transform="rotate(-7 631.5 126)"/><ellipse class="ro" cx="735" cy="69.5" rx="6.9" ry="5.8" transform="rotate(2 735 69.5)"/><ellipse class="mc" cx="735" cy="69.5" rx="3.4" ry="2.9"/><ellipse class="ro" cx="791.4" cy="82.7" rx="6.9" ry="5.8" transform="rotate(-1 791.4 82.7)"/><ellipse class="mc" cx="791.4" cy="82.7" rx="3.4" ry="2.9"/><ellipse class="ro" cx="668" cy="72" rx="5.8" ry="4.6" transform="rotate(3 668 72)"/><ellipse class="ro" cx="720" cy="80" rx="4.6" ry="3.4" transform="rotate(-26 720 80)"/><ellipse class="rc" cx="865.5" cy="33.2" rx="5.8" ry="4.6" transform="rotate(-29 865.5 33.2)"/><circle class="cn" cx="866.6" cy="33.2" r="2.1"/><ellipse class="rc" cx="857.6" cy="27" rx="4.6" ry="4.6" transform="rotate(-39 857.6 27)"/><circle class="cn" cx="858.5" cy="27" r="2.1"/><ellipse class="rc" cx="894.5" cy="44.6" rx="4.6" ry="8" transform="rotate(18 894.5 44.6)"/><circle class="cn" cx="895.4" cy="44.6" r="3.6"/><ellipse class="rc" cx="905" cy="46.4" rx="5.8" ry="8" transform="rotate(-39 905 46.4)"/><circle class="cn" cx="906.1" cy="46.4" r="3.6"/><ellipse class="rc" cx="873.4" cy="64.8" rx="6.9" ry="8" transform="rotate(-22 873.4 64.8)"/><circle class="cn" cx="874.8" cy="64.8" r="3.6"/><ellipse class="rc" cx="891" cy="61.3" rx="3.4" ry="3.4" transform="rotate(0 891 61.3)"/><circle class="cn" cx="891.7" cy="61.3" r="1.6"/><ellipse class="rc" cx="845.3" cy="79.8" rx="6.9" ry="8" transform="rotate(-5 845.3 79.8)"/><circle class="cn" cx="846.7" cy="79.8" r="3.6"/><ellipse class="rc" cx="870" cy="86.8" rx="8" ry="6.9" transform="rotate(23 870 86.8)"/><circle class="cn" cx="871.6" cy="86.8" r="3.1"/><ellipse class="rc" cx="884.8" cy="94.7" rx="5.8" ry="5.8" transform="rotate(-25 884.8 94.7)"/><circle class="cn" cx="885.9" cy="94.7" r="2.6"/><ellipse class="rc" cx="867.3" cy="105.3" rx="5.8" ry="4.6" transform="rotate(-32 867.3 105.3)"/><circle class="cn" cx="868.4" cy="105.3" r="2.1"/><ellipse class="rc" cx="847" cy="125.5" rx="6.9" ry="5.8" transform="rotate(-28 847 125.5)"/><circle class="cn" cx="848.4" cy="125.5" r="2.6"/><ellipse class="rc" cx="969.2" cy="39.3" rx="5.8" ry="4.6" transform="rotate(-5 969.2 39.3)"/><circle class="cn" cx="970.4" cy="39.3" r="2.1"/><ellipse class="rc" cx="977.2" cy="53.4" rx="6.9" ry="4.6" transform="rotate(-19 977.2 53.4)"/><circle class="cn" cx="978.6" cy="53.4" r="2.1"/><ellipse class="rc" cx="982.4" cy="64" rx="6.9" ry="4.6" transform="rotate(-8 982.4 64)"/><circle class="cn" cx="983.8" cy="64" r="2.1"/><ellipse class="rc" cx="1014" cy="57.8" rx="11.5" ry="4.6" transform="rotate(8 1014 57.8)"/><circle class="cn" cx="1016.3" cy="57.8" r="2.1"/><ellipse class="rc" cx="993" cy="93.9" rx="6.9" ry="5.8" transform="rotate(-17 993 93.9)"/><circle class="cn" cx="994.4" cy="93.9" r="2.6"/><ellipse class="rc" cx="1015.8" cy="100" rx="6.9" ry="4.6" transform="rotate(6 1015.8 100)"/><circle class="cn" cx="1017.2" cy="100" r="2.1"/><ellipse class="rc" cx="1034.3" cy="109.7" rx="3.4" ry="3.4" transform="rotate(-38 1034.3 109.7)"/><circle class="cn" cx="1035" cy="109.7" r="1.6"/><ellipse class="rc" cx="970.1" cy="129.9" rx="8" ry="6.9" transform="rotate(-1 970.1 129.9)"/><circle class="cn" cx="971.7" cy="129.9" r="3.1"/><ellipse class="rc" cx="1047.5" cy="39.3" rx="4.6" ry="6.9" transform="rotate(23 1047.5 39.3)"/><circle class="cn" cx="1048.4" cy="39.3" r="3.1"/><ellipse class="rc" cx="1049" cy="28.8" rx="3.4" ry="3.4" transform="rotate(25 1049 28.8)"/><circle class="cn" cx="1049.7" cy="28.8" r="1.6"/><ellipse class="ro" cx="850.5" cy="50" rx="6.9" ry="6.9" transform="rotate(0 850.5 50)"/><ellipse class="mc" cx="850.5" cy="50" rx="3.4" ry="3.4"/><ellipse class="ro" cx="886.6" cy="77.1" rx="6.9" ry="6.9" transform="rotate(28 886.6 77.1)"/><ellipse class="mc" cx="886.6" cy="77.1" rx="3.4" ry="3.4"/><ellipse class="ro" cx="912" cy="83.3" rx="6.9" ry="5.8" transform="rotate(-23 912 83.3)"/><ellipse class="mc" cx="912" cy="83.3" rx="3.4" ry="2.9"/><ellipse class="ro" cx="924.4" cy="70.1" rx="5.8" ry="5.8" transform="rotate(-19 924.4 70.1)"/><ellipse class="mc" cx="924.4" cy="70.1" rx="2.9" ry="2.9"/><ellipse class="ro" cx="933.2" cy="52.5" rx="5.8" ry="4.6" transform="rotate(-8 933.2 52.5)"/><ellipse class="mc" cx="933.2" cy="52.5" rx="2.9" ry="2.3"/><ellipse class="ro" cx="945.5" cy="71.9" rx="5.8" ry="5.8" transform="rotate(-4 945.5 71.9)"/><ellipse class="ro" cx="956" cy="82.4" rx="4.6" ry="4.6" transform="rotate(17 956 82.4)"/><ellipse class="ro" cx="972.8" cy="88.6" rx="4.6" ry="4.6" transform="rotate(-8 972.8 88.6)"/><ellipse class="ro" cx="915.6" cy="116.7" rx="6.9" ry="6.9" transform="rotate(-36 915.6 116.7)"/><ellipse class="mc" cx="915.6" cy="116.7" rx="3.4" ry="3.4"/><ellipse class="ro" cx="889.2" cy="127.3" rx="4.6" ry="6.9" transform="rotate(8 889.2 127.3)"/><ellipse class="mc" cx="889.2" cy="127.3" rx="2.3" ry="3.4"/><ellipse class="ro" cx="862.9" cy="132.5" rx="6.9" ry="6.9" transform="rotate(-24 862.9 132.5)"/><ellipse class="ro" cx="959.6" cy="30.6" rx="5.8" ry="5.8" transform="rotate(21 959.6 30.6)"/><ellipse class="ro" cx="993" cy="28.8" rx="5.8" ry="6.9" transform="rotate(-25 993 28.8)"/><ellipse class="mc" cx="993" cy="28.8" rx="2.9" ry="3.4"/><ellipse class="ro" cx="1030.8" cy="31.4" rx="5.8" ry="3.4" transform="rotate(-19 1030.8 31.4)"/><ellipse class="ro" cx="1000" cy="61.3" rx="5.8" ry="5.8" transform="rotate(-30 1000 61.3)"/><ellipse class="mc" cx="1000" cy="61.3" rx="2.9" ry="2.9"/><ellipse class="ro" cx="1042.2" cy="86" rx="8" ry="6.9" transform="rotate(-18 1042.2 86)"/><ellipse class="mc" cx="1042.2" cy="86" rx="4" ry="3.4"/><ellipse class="ro" cx="986" cy="102.6" rx="4.6" ry="4.6" transform="rotate(2 986 102.6)"/><ellipse class="ro" cx="1021.1" cy="115" rx="4.6" ry="6.9" transform="rotate(-21 1021.1 115)"/><ellipse class="ro" cx="1001.8" cy="122" rx="4.6" ry="4.6" transform="rotate(-36 1001.8 122)"/><ellipse class="mc" cx="1001.8" cy="122" rx="2.3" ry="2.3"/><ellipse class="ro" cx="987.7" cy="116.7" rx="5.8" ry="3.4" transform="rotate(1 987.7 116.7)"/><ellipse class="mc" cx="987.7" cy="116.7" rx="2.9" ry="1.7"/><ellipse class="rm" cx="906.8" cy="62.2" rx="6.9" ry="6.9" transform="rotate(11 906.8 62.2)"/><ellipse class="rc" cx="658" cy="145.6" rx="8" ry="5.8" transform="rotate(-32 658 145.6)"/><circle class="cn" cx="659.6" cy="145.6" r="2.6"/><ellipse class="rc" cx="677.5" cy="145.6" rx="6.9" ry="5.8" transform="rotate(-10 677.5 145.6)"/><circle class="cn" cx="678.9" cy="145.6" r="2.6"/><ellipse class="rc" cx="712.8" cy="138.5" rx="8" ry="5.8" transform="rotate(-35 712.8 138.5)"/><circle class="cn" cx="714.4" cy="138.5" r="2.6"/><ellipse class="rc" cx="734" cy="154.4" rx="5.8" ry="5.8" transform="rotate(-38 734 154.4)"/><circle class="cn" cx="735.1" cy="154.4" r="2.6"/><ellipse class="rc" cx="723.4" cy="168.6" rx="6.9" ry="5.8" transform="rotate(-13 723.4 168.6)"/><circle class="cn" cx="724.8" cy="168.6" r="2.6"/><ellipse class="rc" cx="700.4" cy="176.5" rx="6.9" ry="5.8" transform="rotate(-19 700.4 176.5)"/><circle class="cn" cx="701.8" cy="176.5" r="2.6"/><ellipse class="rc" cx="714.6" cy="182.7" rx="8" ry="6.9" transform="rotate(21 714.6 182.7)"/><circle class="cn" cx="716.2" cy="182.7" r="3.1"/><ellipse class="rc" cx="730.5" cy="181.8" rx="4.6" ry="4.6" transform="rotate(-39 730.5 181.8)"/><circle class="cn" cx="731.4" cy="181.8" r="2.1"/><ellipse class="rc" cx="663.3" cy="191.5" rx="9.2" ry="8" transform="rotate(5 663.3 191.5)"/><circle class="cn" cx="665.1" cy="191.5" r="3.6"/><ellipse class="rc" cx="675.7" cy="200.4" rx="4.6" ry="4.6" transform="rotate(11 675.7 200.4)"/><circle class="cn" cx="676.6" cy="200.4" r="2.1"/><ellipse class="rc" cx="697" cy="197.7" rx="5.8" ry="4.6" transform="rotate(-10 697 197.7)"/><circle class="cn" cx="698.1" cy="197.7" r="2.1"/><ellipse class="rc" cx="695" cy="212.7" rx="6.9" ry="4.6" transform="rotate(-4 695 212.7)"/><circle class="cn" cx="696.4" cy="212.7" r="2.1"/><ellipse class="rc" cx="663.3" cy="219.8" rx="5.8" ry="5.8" transform="rotate(-22 663.3 219.8)"/><circle class="cn" cx="664.4" cy="219.8" r="2.6"/><ellipse class="rc" cx="638.6" cy="221.6" rx="6.9" ry="5.8" transform="rotate(-22 638.6 221.6)"/><circle class="cn" cx="640" cy="221.6" r="2.6"/><ellipse class="rc" cx="781.7" cy="222.5" rx="10.3" ry="8" transform="rotate(-36 781.7 222.5)"/><circle class="cn" cx="783.8" cy="222.5" r="3.6"/><ellipse class="rc" cx="797.6" cy="214.5" rx="8" ry="6.9" transform="rotate(23 797.6 214.5)"/><circle class="cn" cx="799.2" cy="214.5" r="3.1"/><ellipse class="rc" cx="815.3" cy="207.4" rx="9.2" ry="8" transform="rotate(-37 815.3 207.4)"/><circle class="cn" cx="817.1" cy="207.4" r="3.6"/><ellipse class="rc" cx="822.3" cy="184.5" rx="10.3" ry="6.9" transform="rotate(-30 822.3 184.5)"/><circle class="cn" cx="824.4" cy="184.5" r="3.1"/><ellipse class="rc" cx="785.2" cy="179.2" rx="6.9" ry="6.9" transform="rotate(10 785.2 179.2)"/><circle class="cn" cx="786.6" cy="179.2" r="3.1"/><ellipse class="rc" cx="801" cy="154.4" rx="9.2" ry="5.8" transform="rotate(-7 801 154.4)"/><circle class="cn" cx="802.8" cy="154.4" r="2.6"/><ellipse class="rc" cx="790.5" cy="152.7" rx="5.8" ry="5.8" transform="rotate(-4 790.5 152.7)"/><circle class="cn" cx="791.6" cy="152.7" r="2.6"/><ellipse class="rc" cx="778.2" cy="158" rx="4.6" ry="4.6" transform="rotate(-19 778.2 158)"/><circle class="cn" cx="779.1" cy="158" r="2.1"/><ellipse class="rc" cx="803" cy="140.3" rx="6.9" ry="4.6" transform="rotate(-28 803 140.3)"/><circle class="cn" cx="804.4" cy="140.3" r="2.1"/><ellipse class="rc" cx="829.4" cy="140.3" rx="6.9" ry="5.8" transform="rotate(15 829.4 140.3)"/><circle class="cn" cx="830.8" cy="140.3" r="2.6"/><ellipse class="rc" cx="813.5" cy="237.5" rx="10.3" ry="8" transform="rotate(-31 813.5 237.5)"/><circle class="cn" cx="815.6" cy="237.5" r="3.6"/><ellipse class="rc" cx="834.7" cy="228.6" rx="6.9" ry="6.9" transform="rotate(-19 834.7 228.6)"/><circle class="cn" cx="836.1" cy="228.6" r="3.1"/><ellipse class="rc" cx="834.7" cy="211" rx="4.6" ry="4.6" transform="rotate(12 834.7 211)"/><circle class="cn" cx="835.6" cy="211" r="2.1"/><ellipse class="rc" cx="822.3" cy="251.6" rx="5.8" ry="5.8" transform="rotate(-19 822.3 251.6)"/><circle class="cn" cx="823.4" cy="251.6" r="2.6"/><ellipse class="rc" cx="720" cy="255" rx="4.6" ry="4.6" transform="rotate(26 720 255)"/><circle class="cn" cx="720.9" cy="255" r="2.1"/><ellipse class="rc" cx="693.4" cy="244.5" rx="4.6" ry="4.6" transform="rotate(-27 693.4 244.5)"/><circle class="cn" cx="694.3" cy="244.5" r="2.1"/><ellipse class="ro" cx="675.7" cy="162.4" rx="9.2" ry="5.8" transform="rotate(-3 675.7 162.4)"/><ellipse class="mc" cx="675.7" cy="162.4" rx="4.6" ry="2.9"/><ellipse class="ro" cx="711" cy="145.6" rx="5.8" ry="5.8" transform="rotate(-2 711 145.6)"/><ellipse class="ro" cx="721.6" cy="145.6" rx="6.9" ry="6.9" transform="rotate(-4 721.6 145.6)"/><ellipse class="ro" cx="742.8" cy="145.6" rx="6.9" ry="9.2" transform="rotate(14 742.8 145.6)"/><ellipse class="mc" cx="742.8" cy="145.6" rx="3.4" ry="4.6"/><ellipse class="ro" cx="741" cy="154.4" rx="5.8" ry="5.8" transform="rotate(-36 741 154.4)"/><ellipse class="ro" cx="792.3" cy="140.3" rx="5.8" ry="5.8" transform="rotate(-1 792.3 140.3)"/><ellipse class="ro" cx="815.3" cy="143.8" rx="5.8" ry="5.8" transform="rotate(15 815.3 143.8)"/><ellipse class="mc" cx="815.3" cy="143.8" rx="2.9" ry="2.9"/><ellipse class="ro" cx="831.2" cy="154.4" rx="5.8" ry="5.8" transform="rotate(-36 831.2 154.4)"/><ellipse class="ro" cx="787" cy="187" rx="8" ry="6.9" transform="rotate(-1 787 187)"/><ellipse class="mc" cx="787" cy="187" rx="4" ry="3.4"/><ellipse class="rm" cx="769.3" cy="186.2" rx="4.6" ry="4.6" transform="rotate(-9 769.3 186.2)"/><ellipse class="ro" cx="797.6" cy="182.7" rx="4.6" ry="4.6" transform="rotate(-11 797.6 182.7)"/><ellipse class="ro" cx="681" cy="196" rx="4.6" ry="4.6" transform="rotate(-2 681 196)"/><ellipse class="mc" cx="681" cy="196" rx="2.3" ry="2.3"/><ellipse class="ro" cx="707.5" cy="217.2" rx="6.9" ry="4.6" transform="rotate(3 707.5 217.2)"/><ellipse class="mc" cx="707.5" cy="217.2" rx="3.4" ry="2.3"/><ellipse class="ro" cx="725.2" cy="230.4" rx="4.6" ry="8" transform="rotate(9 725.2 230.4)"/><ellipse class="mc" cx="725.2" cy="230.4" rx="2.3" ry="4"/><ellipse class="ro" cx="718.1" cy="242.8" rx="5.8" ry="5.8" transform="rotate(22 718.1 242.8)"/><ellipse class="ro" cx="695" cy="253.4" rx="6.9" ry="4.6" transform="rotate(5 695 253.4)"/><ellipse class="ro" cx="825.9" cy="230.4" rx="5.8" ry="8" transform="rotate(29 825.9 230.4)"/><ellipse class="ro" cx="833" cy="195" rx="4.6" ry="8" transform="rotate(6 833 195)"/><ellipse class="mc" cx="833" cy="195" rx="2.3" ry="4"/><ellipse class="ro" cx="795.8" cy="237.5" rx="4.6" ry="4.6" transform="rotate(-21 795.8 237.5)"/><ellipse class="ro" cx="762.3" cy="193.3" rx="3.4" ry="3.4" transform="rotate(-29 762.3 193.3)"/><ellipse class="ro" cx="638.6" cy="216.3" rx="4.6" ry="4.6" transform="rotate(-35 638.6 216.3)"/><ellipse class="ro" cx="643.9" cy="202.1" rx="3.4" ry="3.4" transform="rotate(-21 643.9 202.1)"/><ellipse class="ro" cx="689.8" cy="142" rx="3.4" ry="3.4" transform="rotate(-31 689.8 142)"/><ellipse class="ro" cx="650" cy="245" rx="4.6" ry="4.6" transform="rotate(7 650 245)"/><ellipse class="ro" cx="665" cy="255" rx="5.8" ry="4.6" transform="rotate(8 665 255)"/><ellipse class="rc" cx="848.8" cy="150.8" rx="9.2" ry="8" transform="rotate(2 848.8 150.8)"/><circle class="cn" cx="850.6" cy="150.8" r="3.6"/><ellipse class="rc" cx="861.1" cy="166.7" rx="6.9" ry="5.8" transform="rotate(-13 861.1 166.7)"/><circle class="cn" cx="862.5" cy="166.7" r="2.6"/><ellipse class="rc" cx="850.5" cy="179" rx="8" ry="5.8" transform="rotate(-7 850.5 179)"/><circle class="cn" cx="852.1" cy="179" r="2.6"/><ellipse class="rc" cx="957.8" cy="168.4" rx="8" ry="5.8" transform="rotate(-21 957.8 168.4)"/><circle class="cn" cx="959.4" cy="168.4" r="2.6"/><ellipse class="rc" cx="1019.4" cy="156.1" rx="6.9" ry="6.9" transform="rotate(24 1019.4 156.1)"/><circle class="cn" cx="1020.8" cy="156.1" r="3.1"/><ellipse class="rc" cx="1005.3" cy="140.3" rx="6.9" ry="4.6" transform="rotate(-38 1005.3 140.3)"/><circle class="cn" cx="1006.7" cy="140.3" r="2.1"/><ellipse class="rc" cx="968.4" cy="136.8" rx="5.8" ry="3.4" transform="rotate(-17 968.4 136.8)"/><circle class="cn" cx="969.5" cy="136.8" r="1.6"/><ellipse class="rc" cx="1033.4" cy="138.5" rx="4.6" ry="3.4" transform="rotate(0 1033.4 138.5)"/><circle class="cn" cx="1034.3" cy="138.5" r="1.6"/><ellipse class="rc" cx="952.5" cy="199.2" rx="6.9" ry="4.6" transform="rotate(-27 952.5 199.2)"/><circle class="cn" cx="953.9" cy="199.2" r="2.1"/><ellipse class="rc" cx="993" cy="198.3" rx="4.6" ry="6.9" transform="rotate(19 993 198.3)"/><circle class="cn" cx="993.9" cy="198.3" r="3.1"/><ellipse class="rc" cx="899.8" cy="200" rx="3.4" ry="3.4" transform="rotate(-6 899.8 200)"/><circle class="cn" cx="900.5" cy="200" r="1.6"/><ellipse class="rc" cx="887.5" cy="203.6" rx="4.6" ry="4.6" transform="rotate(-14 887.5 203.6)"/><circle class="cn" cx="888.4" cy="203.6" r="2.1"/><ellipse class="rc" cx="905" cy="221.2" rx="8" ry="5.8" transform="rotate(-35 905 221.2)"/><circle class="cn" cx="906.6" cy="221.2" r="2.6"/><ellipse class="rc" cx="926.2" cy="211.5" rx="8" ry="4.6" transform="rotate(-20 926.2 211.5)"/><circle class="cn" cx="927.8" cy="211.5" r="2.1"/><ellipse class="rc" cx="841.8" cy="230" rx="5.8" ry="5.8" transform="rotate(1 841.8 230)"/><circle class="cn" cx="842.9" cy="230" r="2.6"/><ellipse class="rc" cx="977.2" cy="252" rx="5.8" ry="6.9" transform="rotate(-20 977.2 252)"/><circle class="cn" cx="978.4" cy="252" r="3.1"/><ellipse class="rc" cx="1008.8" cy="250.2" rx="6.9" ry="5.8" transform="rotate(-36 1008.8 250.2)"/><circle class="cn" cx="1010.2" cy="250.2" r="2.6"/><ellipse class="rc" cx="866.4" cy="223" rx="4.6" ry="4.6" transform="rotate(0 866.4 223)"/><circle class="cn" cx="867.3" cy="223" r="2.1"/><ellipse class="ro" cx="870.8" cy="140.3" rx="8" ry="5.8" transform="rotate(-18 870.8 140.3)"/><ellipse class="mc" cx="870.8" cy="140.3" rx="4" ry="2.9"/><ellipse class="ro" cx="915.6" cy="157" rx="6.9" ry="6.9" transform="rotate(19 915.6 157)"/><ellipse class="mc" cx="915.6" cy="157" rx="3.4" ry="3.4"/><ellipse class="ro" cx="920.9" cy="165.8" rx="6.9" ry="6.9" transform="rotate(8 920.9 165.8)"/><ellipse class="mc" cx="920.9" cy="165.8" rx="3.4" ry="3.4"/><ellipse class="ro" cx="875.2" cy="161.4" rx="6.9" ry="6.9" transform="rotate(10 875.2 161.4)"/><ellipse class="mc" cx="875.2" cy="161.4" rx="3.4" ry="3.4"/><ellipse class="ro" cx="885.7" cy="181.6" rx="9.2" ry="6.9" transform="rotate(22 885.7 181.6)"/><ellipse class="mc" cx="885.7" cy="181.6" rx="4.6" ry="3.4"/><ellipse class="ro" cx="866.4" cy="187.8" rx="5.8" ry="8" transform="rotate(16 866.4 187.8)"/><ellipse class="ro" cx="938.5" cy="152.6" rx="5.8" ry="5.8" transform="rotate(-16 938.5 152.6)"/><ellipse class="mc" cx="938.5" cy="152.6" rx="2.9" ry="2.9"/><ellipse class="ro" cx="910.3" cy="142" rx="5.8" ry="5.8" transform="rotate(0 910.3 142)"/><ellipse class="ro" cx="942" cy="187.8" rx="9.2" ry="5.8" transform="rotate(-21 942 187.8)"/><ellipse class="mc" cx="942" cy="187.8" rx="4.6" ry="2.9"/><ellipse class="ro" cx="931.4" cy="194.8" rx="5.8" ry="4.6" transform="rotate(-25 931.4 194.8)"/><ellipse class="mc" cx="931.4" cy="194.8" rx="2.9" ry="2.3"/><ellipse class="ro" cx="938.5" cy="203.6" rx="5.8" ry="3.4" transform="rotate(-25 938.5 203.6)"/><ellipse class="mc" cx="938.5" cy="203.6" rx="2.9" ry="1.7"/><ellipse class="ro" cx="924.4" cy="212.4" rx="4.6" ry="4.6" transform="rotate(-32 924.4 212.4)"/><ellipse class="ro" cx="845.3" cy="217.6" rx="5.8" ry="6.9" transform="rotate(-23 845.3 217.6)"/><ellipse class="mc" cx="845.3" cy="217.6" rx="2.9" ry="3.4"/><ellipse class="ro" cx="885.7" cy="247.5" rx="6.9" ry="6.9" transform="rotate(-24 885.7 247.5)"/><ellipse class="mc" cx="885.7" cy="247.5" rx="3.4" ry="3.4"/><ellipse class="ro" cx="917.4" cy="251" rx="5.8" ry="5.8" transform="rotate(7 917.4 251)"/><ellipse class="mc" cx="917.4" cy="251" rx="2.9" ry="2.9"/><ellipse class="ro" cx="952.5" cy="254.6" rx="5.8" ry="5.8" transform="rotate(-22 952.5 254.6)"/><ellipse class="mc" cx="952.5" cy="254.6" rx="2.9" ry="2.9"/><ellipse class="ro" cx="1021.1" cy="208.9" rx="5.8" ry="5.8" transform="rotate(-36 1021.1 208.9)"/><ellipse class="mc" cx="1021.1" cy="208.9" rx="2.9" ry="2.9"/><ellipse class="ro" cx="1015.8" cy="230.8" rx="4.6" ry="4.6" transform="rotate(-10 1015.8 230.8)"/><ellipse class="ro" cx="1031.7" cy="238.7" rx="6.9" ry="4.6" transform="rotate(-25 1031.7 238.7)"/><ellipse class="mc" cx="1031.7" cy="238.7" rx="3.4" ry="2.3"/><ellipse class="ro" cx="1003.5" cy="172" rx="3.4" ry="6.9" transform="rotate(8 1003.5 172)"/><ellipse class="mc" cx="1003.5" cy="172" rx="1.7" ry="3.4"/><ellipse class="ro" cx="1024.6" cy="175.4" rx="3.4" ry="3.4" transform="rotate(-24 1024.6 175.4)"/><ellipse class="ro" cx="998.3" cy="156.1" rx="5.8" ry="3.4" transform="rotate(-1 998.3 156.1)"/><ellipse class="mc" cx="998.3" cy="156.1" rx="2.9" ry="1.7"/><ellipse class="ro" cx="975.4" cy="145.6" rx="5.8" ry="3.4" transform="rotate(-27 975.4 145.6)"/><ellipse class="mc" cx="975.4" cy="145.6" rx="2.9" ry="1.7"/><ellipse class="ro" cx="993" cy="147.3" rx="4.6" ry="3.4" transform="rotate(-6 993 147.3)"/><ellipse class="mc" cx="993" cy="147.3" rx="2.3" ry="1.7"/><ellipse class="ro" cx="1008.8" cy="147.3" rx="5.8" ry="3.4" transform="rotate(20 1008.8 147.3)"/><ellipse class="mc" cx="1008.8" cy="147.3" rx="2.9" ry="1.7"/><ellipse class="ro" cx="970.1" cy="175.4" rx="3.4" ry="3.4" transform="rotate(-18 970.1 175.4)"/></g>
</g>
<rect x="116" y="130.5" width="115.8" height="65" fill="#c6c7c6"/>
<text x="122.5" y="157" font-size="23"><tspan fill="#52c8dc">CD8</tspan> <tspan fill="#f9a233">CD4</tspan></text>
<text x="136.3" y="188.6" font-size="23" fill="#c74fc4">FOXP3</text>
<text x="115.5" y="242.5" font-size="22.5" fill="#fff">50 μm</text>
<rect x="121.3" y="252.6" width="42.6" height="2.6" fill="#fff"/>
<text x="343.5" y="250" font-size="23" fill="#fff">P0215</text>
<text x="631.5" y="241.5" font-size="22.5" fill="#fff">50 μm</text>
<rect x="637.5" y="247.2" width="41.5" height="2.6" fill="#fff"/>
<text x="864.5" y="245" font-size="23" fill="#fff">P1212</text>
<rect x="135.5" y="310.5" width="457.5" height="231.0" fill="none" stroke="#c9c9c9" stroke-width="1"/>
<text x="130.5" y="317.4" font-size="15.4" text-anchor="end" fill="#111">7079</text>
<text x="130.5" y="336.7" font-size="15.4" text-anchor="end" fill="#111">6800</text>
<text x="130.5" y="351.7" font-size="15.4" text-anchor="end" fill="#111">6600</text>
<text x="130.5" y="365.4" font-size="15.4" text-anchor="end" fill="#111">6400</text>
<text x="130.5" y="380.4" font-size="15.4" text-anchor="end" fill="#111">6200</text>
<text x="130.5" y="396.7" font-size="15.4" text-anchor="end" fill="#111">6000</text>
<text x="130.5" y="409.2" font-size="15.4" text-anchor="end" fill="#111">5800</text>
<text x="130.5" y="423.4" font-size="15.4" text-anchor="end" fill="#111">5600</text>
<text x="130.5" y="438.4" font-size="15.4" text-anchor="end" fill="#111">5400</text>
<text x="130.5" y="453.4" font-size="15.4" text-anchor="end" fill="#111">5200</text>
<text x="130.5" y="467.9" font-size="15.4" text-anchor="end" fill="#111">5000</text>
<text x="130.5" y="480.9" font-size="15.4" text-anchor="end" fill="#111">4800</text>
<text x="130.5" y="496.7" font-size="15.4" text-anchor="end" fill="#111">4600</text>
<text x="130.5" y="510.9" font-size="15.4" text-anchor="end" fill="#111">4400</text>
<text x="130.5" y="526.7" font-size="15.4" text-anchor="end" fill="#111">4200</text>
<text x="130.5" y="546.7" font-size="15.4" text-anchor="end" fill="#111">3910</text>
<path d="M131.5 312h4 M131.5 331.3h4 M131.5 346.3h4 M131.5 360h4 M131.5 375h4 M131.5 391.3h4 M131.5 403.8h4 M131.5 418h4 M131.5 433h4 M131.5 448h4 M131.5 462.5h4 M131.5 475.5h4 M131.5 491.3h4 M131.5 505.5h4 M131.5 521.3h4 M131.5 541.3h4" stroke="#222" stroke-width="1"/>
<path d="M136 531.2H592" stroke="#f4a7a0" stroke-width="1"/>
<path d="M276.3 499.5V531 M288.3 499.5V531 M416.5 499.5V531 M433.3 499.5V531 M449.3 499.5V531 M465.3 499.5V531 M481.3 499.5V531 M493.3 499.5V531" stroke="#f39580" stroke-width="0.8"/>
<path d="M136 530.6 L137 530.8 L138 530.7 L139 530.2 L140 530.9 L141 530.7 L142 530.4 L143 530.8 L144 530.7 L145 530.7 L146 530.6 L147 530.8 L148 530.4 L149 530.6 L150 530.5 L151 530.8 L152 530.6 L153 530.5 L154 530.4 L155 530.5 L156 530.6 L157 530.5 L158 531 L159 530.9 L160 529.8 L161 530.1 L162 530.6 L163 530.5 L164 530.7 L165 530.7 L166 531.3 L167 530.3 L168 530.5 L169 531.2 L170 530.8 L171 530.8 L172 530.5 L173 530.1 L174 530.7 L175 530.7 L176 530.3 L177 530.4 L178 530.6 L179 530.3 L180 530.6 L181 530.7 L182 530.6 L183 530.5 L184 530.8 L185 530.9 L186 530.7 L187 530.4 L188 530.9 L189 530.5 L190 530.9 L191 530.3 L192 530.9 L193 530.6 L194 530.3 L195 530.5 L196 530.7 L197 530.7 L198 530.4 L199 530.3 L200 530.7 L201 530.5 L202 530.7 L203 530.9 L204 530.2 L205 530.7 L206 531 L207 530.6 L208 530.4 L209 530.9 L210 530.7 L211 530.9 L212 530.6 L213 530.2 L214 530.6 L215 530.5 L216 530.9 L217 530.7 L218 530.2 L219 530.3 L220 530.9 L221 530.9 L222 530.5 L223 530.7 L224 530.8 L225 530.8 L226 530.9 L227 530.7 L228 530.6 L229 530.6 L230 531 L231 530 L232 530.6 L233 530.7 L234 530.2 L235 530.8 L236 530.5 L237 530.9 L238 530.6 L239 530.9 L240 531 L241 530.8 L242 530.4 L243 530.2 L244 531.2 L245 530.6 L246 530.5 L247 530.7 L248 530.6 L249 530.9 L250 530.7 L251 530.7 L252 530.5 L253 530.8 L254 530.4 L255 530.9 L256 531.1 L257 530.2 L258 530 L259 530.9 L260 531.5 L261 530.4 L262 530.3 L263 530.9 L264 530.4 L265 530.5 L266 530.6 L267 530.9 L268 530.6 L269 530.8 L270 530.7 L271 530.5 L272 530.6 L273 530.5 L274 530.8 L275 530.4 L276 530.5 L277 530.8 L278 523.6 L278.5 520 L279 510.2 L279.5 500 L280 495.5 L280.2 493.8 L281 505 L282 525 L283 529.3 L283.5 531 L284 530.7 L285 530.7 L286 530.8 L287 531.4 L288 530.5 L289 530.9 L290 530.2 L291 530.8 L292 531 L293 530.6 L294 530.5 L295 530.7 L296 530.8 L297 530.8 L298 531.2 L299 530.6 L300 530.5 L301 530.2 L302 530 L303 529.8 L304 529.5 L305 529.3 L306 528.8 L307 529.6 L308 529.2 L309 529.1 L310 529.6 L311 529.9 L312 529.5 L313 529.7 L314 529.5 L315 530.8 L316 530.3 L317 529.8 L318 530.1 L319 530.5 L320 530.6 L321 530.6 L322 530.4 L323 530.9 L324 530.9 L325 529.7 L326 530.6 L327 530.1 L328 530.9 L329 530.6 L330 530.7 L331 530.2 L332 531.1 L333 531.1 L334 530.2 L335 530.6 L336 530.3 L337 530.5 L338 530.1 L339 531 L340 530.2 L341 530.4 L342 530.6 L343 530.2 L344 530.3 L345 530.2 L346 530.4 L347 530 L348 530.3 L349 530.3 L350 530.3 L351 530.4 L352 530.3 L353 530.6 L354 530.2 L355 530.3 L356 530.1 L357 530.2 L358 529.9 L359 530.5 L360 530.3 L361 530 L362 530.3 L363 530.3 L364 530.1 L365 529.5 L366 530.2 L367 530.2 L368 529.6 L369 530.3 L370 529.8 L371 529.6 L372 530 L373 529.9 L374 529.9 L375 529.4 L376 530.4 L377 529.6 L378 529.3 L379 529.9 L380 529.6 L381 529.8 L382 529.5 L383 529.6 L384 529.7 L385 529.3 L386 529.7 L387 529.3 L388 529.2 L389 529.5 L390 529.4 L391 529.1 L392 528.8 L393 529 L394 528.1 L395 528.2 L396 528.3 L397 527.7 L398 527.9 L399 527.6 L400 527.7 L401 526.9 L402 526.8 L403 526.8 L404 526.5 L405 526.7 L406 524.9 L407 524.2 L408 524 L409 523 L410 523.1 L411 524.2 L412 523.9 L413 522.9 L414 522.5 L415 522 L416 521 L417 520.7 L418 520.2 L419 519.4 L420 518.6 L421 518.5 L422 517.4 L423 517.1 L424 516 L425 514.9 L426 513.4 L427 512 L428 508.3 L429 505 L430 496.3 L430.3 493 L431 488.4 L431.2 487.3 L432 491 L432.4 493 L433 496.4 L433.3 498 L434 492.6 L434.5 488 L435 484.3 L436 476.7 L437 473.3 L438 470 L439 466.3 L440 463 L441 455.6 L441.5 452 L442 444.9 L443 432 L444 415 L445 404.4 L445.3 400.7 L446 403 L446.5 405 L447 407.6 L447.8 412 L448 412.7 L449 418 L449.9 423 L450 418.2 L450.5 395 L451 365 L451.5 347.3 L452 353.7 L452.2 356 L453 378 L454 410 L455 438 L456 455 L457 462.8 L458 472 L459 479.2 L460 487 L461 490.2 L462 494.1 L462.5 496 L463 497.4 L464 499.8 L465 502 L465.3 503 L466 505.6 L467 508.7 L468 512 L469 514 L470 515.6 L471 517.5 L472 519 L473 520.2 L474 520.7 L475 522.2 L476 523 L477 524.3 L478 525.6 L479 526.2 L480 527.5 L481 528.5 L482 529.5 L483 523.9 L483.3 522 L484 515.6 L484.5 510.8 L485 515.6 L485.6 520 L486 522.7 L487 530 L488 530.2 L489 531.3 L490 531.4 L491 531.6 L492 531.1 L493 531.4 L494 531.3 L495 531.7 L496 531.2 L497 531.5 L498 530.9 L499 531.1 L500 531.2 L501 531.5 L502 531.3 L503 530.9 L504 531.4 L505 531.4 L506 531.1 L507 531 L508 531.1 L509 530.6 L510 531.2 L511 531.2 L512 530.8 L513 531.3 L514 530.6 L515 530.9 L516 530.9 L517 531.6 L518 530.5 L519 531.2 L520 531 L521 531.1 L522 531.3 L523 530.7 L524 530.3 L525 531.2 L526 530.6 L527 530.9 L528 530.6 L529 531.3 L530 531.2 L531 530.7 L532 531.2 L533 531 L534 530.9 L535 530.9 L536 530.9 L537 531.1 L538 531 L539 530.8 L540 531.2 L541 530.7 L542 531 L543 531 L544 531.3 L545 530.7 L546 531.4 L547 530.9 L548 530.8 L549 530.7 L550 531 L551 530.9 L552 530.5 L553 530.5 L554 530.7 L555 530.6 L556 531.1 L557 531.2 L558 531.1 L559 530.9 L560 530.8 L561 530.8 L562 531.1 L563 531.5 L564 531.1 L565 530.7 L566 530.8 L567 530.7 L568 530.6 L569 530.8 L570 530.9 L571 531.4 L572 530.9 L573 531.3 L574 531.4 L575 530.9 L576 531.4 L577 531.1 L578 530.8 L579 531 L580 530.9 L581 530.9 L582 530.9 L583 531 L584 531.1 L585 530.7 L586 531 L587 530.5 L588 531.1 L589 531.2 L590 531 L591 531.1 L592 531" fill="none" stroke="#444" stroke-width="0.8"/>
<text x="278.8" y="490.5" font-size="7.5" text-anchor="middle" fill="#e8403a">LM</text>
<text x="483.5" y="506.5" font-size="7.5" text-anchor="middle" fill="#e8403a">UM</text>
<text x="454.3" y="335" font-size="7.5" text-anchor="middle" fill="#3a4fc0" transform="rotate(-90 454.3 335)" font-weight="bold">1473</text>
<text x="448" y="388.5" font-size="7.5" text-anchor="middle" fill="#3a4fc0" transform="rotate(-90 448 388.5)" font-weight="bold">1165</text>
<text x="434" y="477" font-size="7.5" text-anchor="middle" fill="#3a4fc0" transform="rotate(-90 434 477)" font-weight="bold">832</text>
<text x="285.3" y="543" font-size="15" text-anchor="end" fill="#111" transform="rotate(-90 285.3 543)">1-</text>
<text x="314.7" y="543" font-size="15" text-anchor="end" fill="#111" transform="rotate(-90 314.7 543)">100-</text>
<text x="338.5" y="543" font-size="15" text-anchor="end" fill="#111" transform="rotate(-90 338.5 543)">200-</text>
<text x="361.7" y="543" font-size="15" text-anchor="end" fill="#111" transform="rotate(-90 361.7 543)">300-</text>
<text x="380.8" y="543" font-size="15" text-anchor="end" fill="#111" transform="rotate(-90 380.8 543)">400-</text>
<text x="399.6" y="543" font-size="15" text-anchor="end" fill="#111" transform="rotate(-90 399.6 543)">500-</text>
<text x="414.8" y="543" font-size="15" text-anchor="end" fill="#111" transform="rotate(-90 414.8 543)">600-</text>
<text x="433.9" y="543" font-size="15" text-anchor="end" fill="#111" transform="rotate(-90 433.9 543)">800-</text>
<text x="444.7" y="543" font-size="15" text-anchor="end" fill="#111" transform="rotate(-90 444.7 543)">1000-</text>
<text x="458.8" y="543" font-size="15" text-anchor="end" fill="#111" transform="rotate(-90 458.8 543)">2000-</text>
<text x="472.3" y="543" font-size="15" text-anchor="end" fill="#111" transform="rotate(-90 472.3 543)">3000-</text>
<text x="488.5" y="543" font-size="15" text-anchor="end" fill="#111" transform="rotate(-90 488.5 543)">6000-</text>
<text x="390.8" y="601.5" font-size="23.6" text-anchor="middle">DNA Size (bp)</text>
<text x="82" y="421.5" font-size="23.9" text-anchor="middle" transform="rotate(-90 82 421.5)">DNA amount (RFU)</text>
<rect x="134" y="630.5" width="458.5" height="231.0" fill="none" stroke="#c9c9c9" stroke-width="1"/>
<text x="129" y="637.9" font-size="15.4" text-anchor="end" fill="#111">6022</text>
<text x="129" y="654.7" font-size="15.4" text-anchor="end" fill="#111">5800</text>
<text x="129" y="670.9" font-size="15.4" text-anchor="end" fill="#111">5600</text>
<text x="129" y="688.4" font-size="15.4" text-anchor="end" fill="#111">5400</text>
<text x="129" y="704.2" font-size="15.4" text-anchor="end" fill="#111">5200</text>
<text x="129" y="720.9" font-size="15.4" text-anchor="end" fill="#111">5000</text>
<text x="129" y="736.7" font-size="15.4" text-anchor="end" fill="#111">4800</text>
<text x="129" y="752.9" font-size="15.4" text-anchor="end" fill="#111">4600</text>
<text x="129" y="768.4" font-size="15.4" text-anchor="end" fill="#111">4400</text>
<text x="129" y="784.9" font-size="15.4" text-anchor="end" fill="#111">4200</text>
<text x="129" y="801.7" font-size="15.4" text-anchor="end" fill="#111">4000</text>
<text x="129" y="817.4" font-size="15.4" text-anchor="end" fill="#111">3800</text>
<text x="129" y="835.4" font-size="15.4" text-anchor="end" fill="#111">3600</text>
<text x="129" y="850.4" font-size="15.4" text-anchor="end" fill="#111">3400</text>
<text x="129" y="865.4" font-size="15.4" text-anchor="end" fill="#111">3206</text>
<path d="M130 632.5h4 M130 649.3h4 M130 665.5h4 M130 683h4 M130 698.8h4 M130 715.5h4 M130 731.3h4 M130 747.5h4 M130 763h4 M130 779.5h4 M130 796.3h4 M130 812h4 M130 830h4 M130 845h4 M130 860h4" stroke="#222" stroke-width="1"/>
<path d="M135 851.6H296 L345 850.3 H460 L470 851.6 H592" fill="none" stroke="#f4a7a0" stroke-width="1"/>
<path d="M280.4 819V852 M296 819V852 M341.6 819V852 M442 819V852 M496.6 819V852 M516.4 819V852" stroke="#f39580" stroke-width="0.8"/>
<path d="M135 851.3 L136 851.2 L137 851.2 L138 850.7 L139 851.7 L140 851.5 L141 851.2 L142 851.4 L143 851.3 L144 851.1 L145 851.5 L146 851.1 L147 851.1 L148 851 L149 851.3 L150 851.1 L151 851.3 L152 851 L153 851.2 L154 850.9 L155 851.3 L156 851.2 L157 851.2 L158 851.2 L159 850.8 L160 851.3 L161 851.6 L162 850.7 L163 850.6 L164 850.7 L165 851.3 L166 851.1 L167 851.3 L168 851.2 L169 851.1 L170 851 L171 850.6 L172 850.5 L173 849.6 L174 849.5 L175 849.2 L176 848.8 L177 849.6 L178 850.8 L179 850.7 L180 851.1 L181 850.8 L182 851.2 L183 850.4 L184 851.2 L185 851.2 L186 850.6 L187 851 L188 851.3 L189 851 L190 851.3 L191 851.6 L192 851.1 L193 851 L194 850.9 L195 851.3 L196 851.1 L197 851.1 L198 851.1 L199 851.3 L200 851.2 L201 850.8 L202 850.6 L203 851.5 L204 851.2 L205 851.6 L206 851.2 L207 851 L208 851.3 L209 851.2 L210 850.9 L211 851 L212 851.7 L213 851.3 L214 851.3 L215 851.1 L216 851 L217 851.4 L218 851.2 L219 851 L220 851.2 L221 851 L222 851.3 L223 851.5 L224 851 L225 851.6 L226 851.1 L227 851.3 L228 851 L229 851.2 L230 851.2 L231 851.1 L232 851.1 L233 851.1 L234 851 L235 850.9 L236 851.2 L237 851.3 L238 851.5 L239 851.4 L240 851.9 L241 851.3 L242 851.1 L243 851.7 L244 851 L245 851.5 L246 851 L247 851.3 L248 850.8 L249 851.5 L250 851.2 L251 851 L252 851.7 L253 851.5 L254 851.3 L255 851.1 L256 851.3 L257 851.2 L258 851.5 L259 851.5 L260 851.1 L261 851.1 L262 851.1 L263 850.9 L264 851.1 L265 851.3 L266 851.5 L267 851.6 L268 851.1 L269 851.4 L270 851.2 L271 851.8 L272 851.3 L273 851.4 L274 851.1 L275 851.1 L276 851.3 L277 851.2 L278 851.4 L279 850.9 L280 851.3 L281 846.9 L281.5 845 L282 804.3 L282.3 780 L282.8 700 L283 684.1 L283.2 668 L283.6 700 L284 760 L284.2 790 L285 836 L286 842.9 L286.5 846 L287 847 L288 849 L289 849.5 L290 850.3 L291 851 L292 851.2 L293 851.1 L294 851.1 L295 851.5 L296 851.4 L297 851.4 L298 851.1 L299 851.5 L300 851.5 L301 851.3 L302 851.7 L303 851.6 L304 850.9 L305 851.4 L306 851.1 L307 851.4 L308 851.6 L309 851.4 L310 851.1 L311 851.3 L312 851.3 L313 851.3 L314 851.5 L315 851.3 L316 851.4 L317 851.2 L318 851.2 L319 851.1 L320 851 L321 851 L322 851.1 L323 850.9 L324 850.8 L325 850.7 L326 850.9 L327 850.4 L328 850.4 L329 850.1 L330 850.1 L331 849.7 L332 849.7 L333 849.1 L334 848.4 L335 848.4 L336 847.9 L337 847.6 L338 847 L339 846.5 L340 845.7 L341 845.1 L342 844.4 L343 843.5 L344 842.3 L345 841.5 L346 840.7 L347 839.2 L348 838.4 L349 836.4 L350 834.7 L351 833.2 L352 831.5 L353 829.5 L354 827.2 L355 825.3 L356 823.1 L357 820.5 L358 817.7 L359 815.2 L360 812.8 L361 809.3 L362 806 L363 803 L364 799 L365 796.1 L366 792.4 L367 788.9 L368 784.8 L369 781.5 L370 777.6 L371 773.8 L372 770.1 L373 766 L374 761.9 L375 758.3 L376 754.5 L377 750.9 L378 747.3 L379 743.8 L380 740.2 L381 737.2 L382 734.1 L383 731.4 L384 729.4 L385 726.4 L386 724.2 L387 722.4 L388 720.9 L389 719.4 L390 718.6 L391 717.6 L392 717.2 L393 717 L394 717.2 L395 717.6 L396 718.1 L397 719.4 L398 720.7 L399 722.4 L400 724.4 L401 726.4 L402 729.1 L403 731.4 L404 734.5 L405 737.2 L406 740.9 L407 743.8 L408 747 L409 750.9 L410 754.8 L411 758.3 L412 762 L413 766 L414 769.4 L415 773.8 L416 777.4 L417 781.5 L418 785.3 L419 788.9 L420 792.4 L421 796.1 L422 799.6 L423 803 L424 805.8 L425 809.3 L426 812 L427 815.2 L428 818.2 L429 820.5 L430 823 L431 825.3 L432 827.8 L433 829.5 L434 831.2 L435 833.2 L436 834.6 L437 836.4 L438 837.9 L439 839.2 L440 840.5 L441 841.5 L442 842.4 L443 843.5 L444 844 L445 845.1 L446 845.9 L447 846.5 L448 846.6 L449 847.6 L450 848.1 L451 848.4 L452 848.8 L453 849.1 L454 849.7 L455 849.7 L456 849.9 L457 850.1 L458 850.2 L459 850.4 L460 850.4 L461 850.7 L462 850.8 L463 850.9 L464 850.7 L465 851 L466 851.3 L467 851.1 L468 851.6 L469 851.2 L470 851 L471 851.3 L472 851.6 L473 851.3 L474 851.6 L475 851.3 L476 851.8 L477 851.4 L478 851.3 L479 851.4 L480 851.6 L481 851.4 L482 851.7 L483 851.4 L484 851.6 L485 851.4 L486 851.3 L487 850.9 L488 851 L489 850.1 L490 849.5 L491 847.9 L492 846.6 L493 848.3 L494 849.5 L495 850.2 L496 849.9 L497 850.8 L498 850.2 L499 849.7 L500 849.2 L501 848.1 L502 848 L503 846.9 L504 846 L505 844.5 L506 844.1 L507 843.3 L508 843 L509 843.6 L510 844.5 L511 845 L512 846.5 L513 848.5 L514 850 L515 850.4 L516 850.7 L517 850.9 L518 851.3 L519 851.4 L520 851.7 L521 851.4 L522 851 L523 851.1 L524 851 L525 851 L526 851.6 L527 851.5 L528 850.9 L529 851.7 L530 851.3 L531 851 L532 851.3 L533 851.2 L534 851 L535 850.7 L536 851.2 L537 851.3 L538 850.6 L539 851.3 L540 851.3 L541 851.1 L542 851.2 L543 851.1 L544 851 L545 851.1 L546 851.5 L547 850.8 L548 851.2 L549 851.2 L550 851 L551 851 L552 850.8 L553 850.9 L554 851.1 L555 851.2 L556 850.9 L557 851.9 L558 851 L559 851.1 L560 851.1 L561 851 L562 851.5 L563 851 L564 851.5 L565 851.5 L566 851 L567 851.5 L568 851.1 L569 852 L570 851.2 L571 851.1 L572 850.9 L573 851 L574 851.2 L575 851.2 L576 851.1 L577 851.3 L578 851.4 L579 851.8 L580 851.5 L581 851.4 L582 851.2 L583 851.1 L584 851.2 L585 851.2 L586 851.6 L587 851.4 L588 851.3 L589 851.6 L590 851.5 L591 851.4 L592 851.4" fill="none" stroke="#444" stroke-width="0.8"/>
<text x="283" y="664" font-size="7.5" text-anchor="middle" fill="#e8403a">LM</text>
<text x="506.5" y="839.5" font-size="7.5" text-anchor="middle" fill="#e8403a">UM</text>
<text x="396" y="703.5" font-size="7.5" text-anchor="middle" fill="#3a4fc0" transform="rotate(-90 396 703.5)">406</text>
<text x="290.3" y="862.5" font-size="15" text-anchor="end" fill="#111" transform="rotate(-90 290.3 862.5)">1-</text>
<text x="323.3" y="862.5" font-size="15" text-anchor="end" fill="#111" transform="rotate(-90 323.3 862.5)">100-</text>
<text x="351.7" y="862.5" font-size="15" text-anchor="end" fill="#111" transform="rotate(-90 351.7 862.5)">200-</text>
<text x="376.7" y="862.5" font-size="15" text-anchor="end" fill="#111" transform="rotate(-90 376.7 862.5)">300-</text>
<text x="397.1" y="862.5" font-size="15" text-anchor="end" fill="#111" transform="rotate(-90 397.1 862.5)">400-</text>
<text x="418.3" y="862.5" font-size="15" text-anchor="end" fill="#111" transform="rotate(-90 418.3 862.5)">500-</text>
<text x="434.8" y="862.5" font-size="15" text-anchor="end" fill="#111" transform="rotate(-90 434.8 862.5)">600-</text>
<text x="452.3" y="862.5" font-size="15" text-anchor="end" fill="#111" transform="rotate(-90 452.3 862.5)">800-</text>
<text x="466.3" y="862.5" font-size="15" text-anchor="end" fill="#111" transform="rotate(-90 466.3 862.5)">1000-</text>
<text x="482.9" y="862.5" font-size="15" text-anchor="end" fill="#111" transform="rotate(-90 482.9 862.5)">2000-</text>
<text x="496.3" y="862.5" font-size="15" text-anchor="end" fill="#111" transform="rotate(-90 496.3 862.5)">3000-</text>
<text x="514.7" y="862.5" font-size="15" text-anchor="end" fill="#111" transform="rotate(-90 514.7 862.5)">6000-</text>
<text x="384.7" y="917.5" font-size="23.6" text-anchor="middle">DNA Size (bp)</text>
<text x="76.5" y="735.8" font-size="23.9" text-anchor="middle" transform="rotate(-90 76.5 735.8)">DNA amount (RFU)</text>
<path d="M632 325.5H665 M632 344.5H665 M632 355.5H665 M632 362.5H665 M632 367.5H665 M632 374.5H665 M632 379.5H665 M632 386.5H665 M632 395.5H665 M632 408.5H665 M632 422.5H665 M632 443.5H665 M632 464.5H665 M632 488.5H665 M632 516.5H665 M632 548.5H665" stroke="#7088d0" stroke-width="0.9"/>
<text x="646" y="327.9" font-size="6.8" fill="#4a5cb0">6000</text>
<text x="635" y="347.1" font-size="6.8" fill="#4a5cb0">3000</text>
<text x="646" y="357.7" font-size="6.8" fill="#4a5cb0">2000</text>
<text x="635" y="364.4" font-size="6.8" fill="#4a5cb0">1500</text>
<text x="646" y="369.7" font-size="6.8" fill="#4a5cb0">1200</text>
<text x="635" y="377.2" font-size="6.8" fill="#4a5cb0">1000</text>
<text x="646" y="381.7" font-size="6.8" fill="#4a5cb0">900</text>
<text x="635" y="388.4" font-size="6.8" fill="#4a5cb0">800</text>
<text x="646" y="397.7" font-size="6.8" fill="#4a5cb0">700</text>
<text x="635" y="410.4" font-size="6.8" fill="#4a5cb0">600</text>
<text x="646" y="425.2" font-size="6.8" fill="#4a5cb0">500</text>
<text x="635" y="445.7" font-size="6.8" fill="#4a5cb0">400</text>
<text x="646" y="467.1" font-size="6.8" fill="#4a5cb0">300</text>
<text x="635" y="491.1" font-size="6.8" fill="#4a5cb0">200</text>
<text x="646" y="518.4" font-size="6.8" fill="#4a5cb0">100</text>
<text x="635" y="550.4" font-size="6.8" fill="#4a5cb0">1</text>
<linearGradient id="gb" x1="0" y1="0" x2="0" y2="1"><stop offset="0.0000" stop-color="#fdfdfd"/><stop offset="0.0410" stop-color="#f8f8f8"/><stop offset="0.0512" stop-color="#dedede"/><stop offset="0.0615" stop-color="#f6f6f6"/><stop offset="0.0943" stop-color="#f0f0f0"/><stop offset="0.1352" stop-color="#d6d6d6"/><stop offset="0.1639" stop-color="#a8a8a8"/><stop offset="0.1885" stop-color="#727272"/><stop offset="0.1988" stop-color="#303030"/><stop offset="0.2029" stop-color="#0c0c0c"/><stop offset="0.2111" stop-color="#101010"/><stop offset="0.2152" stop-color="#4a4a4a"/><stop offset="0.2213" stop-color="#383838"/><stop offset="0.2336" stop-color="#404040"/><stop offset="0.2459" stop-color="#6e6e6e"/><stop offset="0.2705" stop-color="#9a9a9a"/><stop offset="0.2869" stop-color="#b8b8b8"/><stop offset="0.2971" stop-color="#a6a6a6"/><stop offset="0.3115" stop-color="#c8c8c8"/><stop offset="0.3279" stop-color="#e4e4e4"/><stop offset="0.3607" stop-color="#f0f0f0"/><stop offset="0.4426" stop-color="#f8f8f8"/><stop offset="0.5656" stop-color="#fcfcfc"/><stop offset="0.9602" stop-color="#fdfdfd"/><stop offset="0.9643" stop-color="#c4c4c4"/><stop offset="0.9713" stop-color="#c4c4c4"/><stop offset="0.9754" stop-color="#fcfcfc"/><stop offset="1.0000" stop-color="#fdfdfd"/></linearGradient>
<rect x="668" y="312" width="28" height="244" fill="url(#gb)"/>
<path d="M631 646.5H664 M631 665.5H664 M631 676.5H664 M631 683.5H664 M631 688.5H664 M631 695.5H664 M631 699.5H664 M631 706.5H664 M631 714.5H664 M631 728.5H664 M631 742.5H664 M631 763.5H664 M631 784.5H664 M631 809.5H664 M631 837.5H664 M631 870.5H664" stroke="#7088d0" stroke-width="0.9"/>
<text x="645" y="648.7" font-size="6.8" fill="#4a5cb0">6000</text>
<text x="634" y="668.2" font-size="6.8" fill="#4a5cb0">3000</text>
<text x="645" y="678.8" font-size="6.8" fill="#4a5cb0">2000</text>
<text x="634" y="685.6" font-size="6.8" fill="#4a5cb0">1500</text>
<text x="645" y="691" font-size="6.8" fill="#4a5cb0">1200</text>
<text x="634" y="697.4" font-size="6.8" fill="#4a5cb0">1000</text>
<text x="645" y="701.4" font-size="6.8" fill="#4a5cb0">900</text>
<text x="634" y="708.4" font-size="6.8" fill="#4a5cb0">800</text>
<text x="645" y="716.8" font-size="6.8" fill="#4a5cb0">700</text>
<text x="634" y="730.4" font-size="6.8" fill="#4a5cb0">600</text>
<text x="645" y="744.4" font-size="6.8" fill="#4a5cb0">500</text>
<text x="634" y="765.4" font-size="6.8" fill="#4a5cb0">400</text>
<text x="645" y="786.4" font-size="6.8" fill="#4a5cb0">300</text>
<text x="634" y="811.4" font-size="6.8" fill="#4a5cb0">200</text>
<text x="645" y="839.4" font-size="6.8" fill="#4a5cb0">100</text>
<text x="634" y="873.2" font-size="6.8" fill="#4a5cb0">1</text>
<linearGradient id="gc" x1="0" y1="0" x2="0" y2="1"><stop offset="0.0000" stop-color="#fdfdfd"/><stop offset="0.0237" stop-color="#f4f4f4"/><stop offset="0.0395" stop-color="#ececec"/><stop offset="0.0593" stop-color="#f6f6f6"/><stop offset="0.0909" stop-color="#f7f7f7"/><stop offset="0.1008" stop-color="#efefef"/><stop offset="0.1107" stop-color="#fafafa"/><stop offset="0.3123" stop-color="#fbfbfb"/><stop offset="0.3518" stop-color="#e8e8e8"/><stop offset="0.3913" stop-color="#c0c0c0"/><stop offset="0.4308" stop-color="#7a7a7a"/><stop offset="0.4585" stop-color="#4a4a4a"/><stop offset="0.4901" stop-color="#363434"/><stop offset="0.5178" stop-color="#3c3c3c"/><stop offset="0.5494" stop-color="#6a6a6a"/><stop offset="0.5771" stop-color="#a0a0a0"/><stop offset="0.6087" stop-color="#d0d0d0"/><stop offset="0.6403" stop-color="#eeeeee"/><stop offset="0.6719" stop-color="#fafafa"/><stop offset="0.9190" stop-color="#fdfdfd"/><stop offset="0.9221" stop-color="#101010"/><stop offset="0.9320" stop-color="#101010"/><stop offset="0.9348" stop-color="#fcfcfc"/><stop offset="1.0000" stop-color="#fdfdfd"/></linearGradient>
<rect x="667" y="636" width="28" height="253" fill="url(#gc)"/>
<path d="M899.3 561.7v-0.8h2.73v0.8zM902 561.7v-1h2.73v1zM904.8 561.7v-1.2h2.73v1.2zM907.5 561.7v-2h2.73v2zM910.2 561.7v-3.4h2.73v3.4zM912.9 561.7v-5h2.73v5zM915.7 561.7v-7.5h2.73v7.5zM918.4 561.7v-10.3h2.73v10.3zM921.1 561.7v-15.5h2.73v15.5zM923.9 561.7v-22h2.73v22zM926.6 561.7v-26.6h2.73v26.6zM929.3 561.7v-35.1h2.73v35.1zM932 561.7v-43.4h2.73v43.4zM934.8 561.7v-50.2h2.73v50.2zM937.5 561.7v-66.9h2.73v66.9zM940.2 561.7v-80.4h2.73v80.4zM943 561.7v-91.3h2.73v91.3zM945.7 561.7v-97.5h2.73v97.5zM948.4 561.7v-104.1h2.73v104.1zM951.2 561.7v-112.2h2.73v112.2zM953.9 561.7v-124.5h2.73v124.5zM956.6 561.7v-132.3h2.73v132.3zM959.3 561.7v-137.8h2.73v137.8zM962.1 561.7v-149.3h2.73v149.3zM964.8 561.7v-150.6h2.73v150.6zM967.5 561.7v-180.4h2.73v180.4zM970.3 561.7v-186h2.73v186zM973 561.7v-182.9h2.73v182.9zM975.7 561.7v-159.2h2.73v159.2zM978.5 561.7v-170.1h2.73v170.1zM981.2 561.7v-181.1h2.73v181.1zM983.9 561.7v-227.2h2.73v227.2zM986.6 561.7v-244.7h2.73v244.7zM989.4 561.7v-237.8h2.73v237.8zM992.1 561.7v-229.4h2.73v229.4zM994.8 561.7v-218.3h2.73v218.3zM997.6 561.7v-219.9h2.73v219.9zM1000.3 561.7v-227.2h2.73v227.2zM1003 561.7v-227.2h2.73v227.2zM1005.8 561.7v-235.1h2.73v235.1zM1008.5 561.7v-220.7h2.73v220.7zM1011.2 561.7v-202.3h2.73v202.3zM1013.9 561.7v-165.2h2.73v165.2zM1016.7 561.7v-132.9h2.73v132.9zM1019.4 561.7v-103.3h2.73v103.3zM1022.1 561.7v-116.6h2.73v116.6zM1024.9 561.7v-80.4h2.73v80.4zM1027.6 561.7v-62.5h2.73v62.5zM1030.3 561.7v-44.9h2.73v44.9zM1033.1 561.7v-43.2h2.73v43.2zM1035.8 561.7v-30.3h2.73v30.3zM1038.5 561.7v-21.4h2.73v21.4zM1041.2 561.7v-17.3h2.73v17.3zM1044 561.7v-15.5h2.73v15.5zM1046.7 561.7v-12.4h2.73v12.4zM1049.4 561.7v-10.8h2.73v10.8zM1052.2 561.7v-8.6h2.73v8.6zM1054.9 561.7v-7h2.73v7zM1057.6 561.7v-6.2h2.73v6.2zM1060.4 561.7v-4.5h2.73v4.5zM1063.1 561.7v-3.7h2.73v3.7zM1065.8 561.7v-2.9h2.73v2.9zM1068.5 561.7v-2.1h2.73v2.1zM1071.3 561.7v-1.8h2.73v1.8zM1074 561.7v-1h2.73v1zM1076.7 561.7v-0.8h2.73v0.8z" fill="#bcc6e8" stroke="#3553b0" stroke-width="1.15"/>
<path d="M863.8 561.7H1136.8" stroke="#3b56b0" stroke-width="1.2"/>
<path d="M853 324.5V561.7 M847.5 561.7H853 M847.5 502.4H853 M847.5 443.1H853 M847.5 383.8H853 M847.5 324.5H853" stroke="#111" stroke-width="1.6" fill="none"/>
<text x="840.9" y="565.3" font-size="18.5" text-anchor="middle" fill="#111" transform="rotate(-90 840.9 565.3)">0.00</text>
<text x="840.9" y="506" font-size="18.5" text-anchor="middle" fill="#111" transform="rotate(-90 840.9 506)">0.01</text>
<text x="840.9" y="446.7" font-size="18.5" text-anchor="middle" fill="#111" transform="rotate(-90 840.9 446.7)">0.02</text>
<text x="840.9" y="387.4" font-size="18.5" text-anchor="middle" fill="#111" transform="rotate(-90 840.9 387.4)">0.03</text>
<text x="840.9" y="328.1" font-size="18.5" text-anchor="middle" fill="#111" transform="rotate(-90 840.9 328.1)">0.04</text>
<path d="M863.8 571.1H1136.8 M863.8 571.1V577.7 M918.4 571.1V577.7 M973 571.1V577.7 M1027.6 571.1V577.7 M1082.2 571.1V577.7 M1136.8 571.1V577.7" stroke="#111" stroke-width="1.6" fill="none"/>
<text x="810.8" y="424.7" font-size="24" text-anchor="middle" transform="rotate(-90 810.8 424.7)">Density of Reads</text>
<path d="M862.4 838.3v-0.6h2.73v0.6zM892.5 838.3v-0.6h2.73v0.6zM895.2 838.3v-0.8h2.73v0.8zM897.9 838.3v-1h2.73v1zM900.7 838.3v-1.3h2.73v1.3zM903.4 838.3v-2.1h2.73v2.1zM906.1 838.3v-3.7h2.73v3.7zM908.8 838.3v-5.4h2.73v5.4zM911.6 838.3v-7.8h2.73v7.8zM914.3 838.3v-10.3h2.73v10.3zM917 838.3v-16.4h2.73v16.4zM919.8 838.3v-25.7h2.73v25.7zM922.5 838.3v-34.7h2.73v34.7zM925.2 838.3v-44.5h2.73v44.5zM928 838.3v-54.6h2.73v54.6zM930.7 838.3v-62.8h2.73v62.8zM933.4 838.3v-75.8h2.73v75.8zM936.1 838.3v-91.3h2.73v91.3zM938.9 838.3v-103.5h2.73v103.5zM941.6 838.3v-117.9h2.73v117.9zM944.3 838.3v-131.8h2.73v131.8zM947.1 838.3v-140.2h2.73v140.2zM949.8 838.3v-147.3h2.73v147.3zM952.5 838.3v-163.9h2.73v163.9zM955.2 838.3v-169.6h2.73v169.6zM958 838.3v-186h2.73v186zM960.7 838.3v-192.5h2.73v192.5zM963.4 838.3v-210.1h2.73v210.1zM966.2 838.3v-215h2.73v215zM968.9 838.3v-213.3h2.73v213.3zM971.6 838.3v-206.8h2.73v206.8zM974.4 838.3v-208.9h2.73v208.9zM977.1 838.3v-214.6h2.73v214.6zM979.8 838.3v-235.4h2.73v235.4zM982.6 838.3v-244h2.73v244zM985.3 838.3v-234.9h2.73v234.9zM988 838.3v-224.8h2.73v224.8zM990.7 838.3v-220.7h2.73v220.7zM993.5 838.3v-215.8h2.73v215.8zM996.2 838.3v-212.5h2.73v212.5zM998.9 838.3v-206.5h2.73v206.5zM1001.7 838.3v-203.5h2.73v203.5zM1004.4 838.3v-193.8h2.73v193.8zM1007.1 838.3v-180.4h2.73v180.4zM1009.9 838.3v-160h2.73v160zM1012.6 838.3v-142.7h2.73v142.7zM1015.3 838.3v-128h2.73v128zM1018 838.3v-128h2.73v128zM1020.8 838.3v-105.3h2.73v105.3zM1023.5 838.3v-90.2h2.73v90.2zM1026.2 838.3v-77.1h2.73v77.1zM1029 838.3v-70.3h2.73v70.3zM1031.7 838.3v-59.7h2.73v59.7zM1034.4 838.3v-50.2h2.73v50.2zM1037.2 838.3v-44h2.73v44zM1039.9 838.3v-37.2h2.73v37.2zM1042.6 838.3v-31.9h2.73v31.9zM1045.3 838.3v-26.2h2.73v26.2zM1048.1 838.3v-21.3h2.73v21.3zM1050.8 838.3v-17.2h2.73v17.2zM1053.5 838.3v-14h2.73v14zM1056.3 838.3v-11.1h2.73v11.1zM1059 838.3v-9.1h2.73v9.1zM1061.7 838.3v-6.7h2.73v6.7zM1064.5 838.3v-4.2h2.73v4.2zM1067.2 838.3v-2.9h2.73v2.9zM1069.9 838.3v-1.8h2.73v1.8zM1072.6 838.3v-1.1h2.73v1.1zM1075.4 838.3v-0.8h2.73v0.8z" fill="#bcc6e8" stroke="#3553b0" stroke-width="1.15"/>
<path d="M859.7 838.3H1132.7" stroke="#3b56b0" stroke-width="1.2"/>
<path d="M849.3 638.3V838.3 M843.8 838.3H849.3 M843.8 771.6H849.3 M843.8 705H849.3 M843.8 638.3H849.3" stroke="#111" stroke-width="1.6" fill="none"/>
<text x="837.2" y="841.9" font-size="18.5" text-anchor="middle" fill="#111" transform="rotate(-90 837.2 841.9)">0.00</text>
<text x="837.2" y="775.2" font-size="18.5" text-anchor="middle" fill="#111" transform="rotate(-90 837.2 775.2)">0.01</text>
<text x="837.2" y="708.6" font-size="18.5" text-anchor="middle" fill="#111" transform="rotate(-90 837.2 708.6)">0.02</text>
<text x="837.2" y="641.9" font-size="18.5" text-anchor="middle" fill="#111" transform="rotate(-90 837.2 641.9)">0.03</text>
<path d="M859.7 848.3H1132.7 M859.7 848.3V853.3 M914.3 848.3V853.3 M968.9 848.3V853.3 M1023.5 848.3V853.3 M1078.1 848.3V853.3 M1132.7 848.3V853.3" stroke="#111" stroke-width="1.6" fill="none"/>
<text x="859.7" y="871.7" font-size="18.5" text-anchor="middle" fill="#111">0</text>
<text x="914.3" y="871.7" font-size="18.5" text-anchor="middle" fill="#111">20</text>
<text x="968.9" y="871.7" font-size="18.5" text-anchor="middle" fill="#111">40</text>
<text x="1023.5" y="871.7" font-size="18.5" text-anchor="middle" fill="#111">60</text>
<text x="1078.1" y="871.7" font-size="18.5" text-anchor="middle" fill="#111">80</text>
<text x="1132.7" y="871.7" font-size="18.5" text-anchor="middle" fill="#111">100</text>
<text x="1002" y="898.3" font-size="23.8" text-anchor="middle">GC content (%)</text>
<text x="807.3" y="723" font-size="24" text-anchor="middle" transform="rotate(-90 807.3 723)">Density of Reads</text>
<g shape-rendering="crispEdges"><path d="M75.5 1048.9h3v26.8h-3zM100.5 1048.9h2v26.8h-2zM106.5 1048.9h2v26.8h-2zM118.5 1048.9h4.1v26.8h-4.1zM127.6 1048.9h3v26.8h-3zM133.1 1048.9h2v26.8h-2zM143.4 1048.9h2v26.8h-2zM163.5 1048.9h1v26.8h-1zM168.5 1048.9h3.5v26.8h-3.5zM175.9 1048.9h1.3v26.8h-1.3zM187.3 1048.9h6v26.8h-6zM80 1075.7h1.6v26.8h-1.6zM85.1 1075.7h1v26.8h-1zM94.1 1075.7h1.6v26.8h-1.6zM103 1075.7h1.6v26.8h-1.6zM106.6 1075.7h1v26.8h-1zM115 1075.7h3.5v26.8h-3.5zM119.8 1075.7h1v26.8h-1zM136.2 1075.7h1.6v26.8h-1.6zM144.6 1075.7h3.5v26.8h-3.5zM155.9 1075.7h1.6v26.8h-1.6zM161 1075.7h1.6v26.8h-1.6zM169.1 1075.7h1.6v26.8h-1.6zM190.7 1075.7h5.5v26.8h-5.5zM96.8 1102.5h6.6v26.8h-6.6zM120.2 1102.5h2v26.8h-2zM183.7 1102.5h1v26.8h-1zM78.7 1156.1h2.5v26.8h-2.5zM82.5 1156.1h2.5v26.8h-2.5zM119.1 1156.1h1.6v26.8h-1.6zM127.6 1156.1h6.5v26.8h-6.5zM166.5 1156.1h7v26.8h-7zM180.6 1156.1h2.5v26.8h-2.5zM185.6 1156.1h2.5v26.8h-2.5zM197.2 1156.1h1.8v26.8h-1.8zM89 1182.9h1.3v26.8h-1.3zM96.3 1182.9h3.5v26.8h-3.5zM108.4 1182.9h3.6v26.8h-3.6zM116.5 1182.9h3.5v26.8h-3.5zM134 1182.9h1v26.8h-1zM143 1182.9h6v26.8h-6zM166.3 1182.9h4.1v26.8h-4.1zM171.7 1182.9h1.6v26.8h-1.6zM174.6 1182.9h3v26.8h-3zM182.7 1182.9h2v26.8h-2zM198 1182.9h1v26.8h-1z" fill="#fcd58b"/><path d="M78.5 1048.9h3v26.8h-3zM84.5 1048.9h4.6v26.8h-4.6zM125.1 1048.9h2.5v26.8h-2.5zM130.6 1048.9h2.5v26.8h-2.5zM136.1 1048.9h2.5v26.8h-2.5zM158.3 1048.9h1.7v26.8h-1.7zM162.5 1048.9h1v26.8h-1zM180.2 1048.9h3.5v26.8h-3.5zM193.3 1048.9h2.5v26.8h-2.5zM118.5 1075.7h1.3v26.8h-1.3zM185.2 1075.7h3v26.8h-3zM142.8 1102.5h2.2v26.8h-2.2zM75.5 1156.1h1.6v26.8h-1.6zM81.2 1156.1h1.3v26.8h-1.3zM87 1156.1h2v26.8h-2zM97.4 1156.1h3v26.8h-3zM120.7 1156.1h1.3v26.8h-1.3zM126.6 1156.1h1v26.8h-1zM178.1 1156.1h2.5v26.8h-2.5zM193.6 1156.1h1.6v26.8h-1.6zM99.8 1182.9h3.5v26.8h-3.5zM141 1182.9h2v26.8h-2zM149 1182.9h3.5v26.8h-3.5zM159.8 1182.9h3.5v26.8h-3.5zM173.3 1182.9h1.3v26.8h-1.3zM177.6 1182.9h1v26.8h-1zM185.7 1182.9h1.3v26.8h-1.3zM196 1182.9h2v26.8h-2z" fill="#fbc880"/><path d="M81.5 1048.9h2v26.8h-2zM92.1 1048.9h1.3v26.8h-1.3zM97.5 1048.9h3v26.8h-3zM103.5 1048.9h3v26.8h-3zM108.5 1048.9h6.5v26.8h-6.5zM135.1 1048.9h1v26.8h-1zM138.6 1048.9h1.3v26.8h-1.3zM149 1048.9h3.5v26.8h-3.5zM157 1048.9h1.3v26.8h-1.3zM75.5 1075.7h2.5v26.8h-2.5zM95.7 1075.7h3.2v26.8h-3.2zM104.6 1075.7h2v26.8h-2zM109.6 1075.7h1.4v26.8h-1.4zM120.8 1075.7h3.5v26.8h-3.5zM129.7 1075.7h2v26.8h-2zM139.8 1075.7h3.5v26.8h-3.5zM148.1 1075.7h1v26.8h-1zM154.6 1075.7h1.3v26.8h-1.3zM157.5 1075.7h3.5v26.8h-3.5zM174.3 1075.7h4.3v26.8h-4.3zM181.1 1075.7h2.5v26.8h-2.5zM196.2 1075.7h2.8v26.8h-2.8zM92.8 1102.5h2v26.8h-2zM108.4 1102.5h4.6v26.8h-4.6zM117 1102.5h1.6v26.8h-1.6zM125.2 1102.5h6.5v26.8h-6.5zM136 1102.5h1.3v26.8h-1.3zM150 1102.5h1.6v26.8h-1.6zM153.2 1102.5h1.6v26.8h-1.6zM157.3 1102.5h1.6v26.8h-1.6zM161.9 1102.5h1v26.8h-1zM166.9 1102.5h3v26.8h-3zM176.9 1102.5h3.5v26.8h-3.5zM182.4 1102.5h1.3v26.8h-1.3zM184.7 1102.5h1.3v26.8h-1.3zM195.5 1102.5h1v26.8h-1zM85 1156.1h2v26.8h-2zM89 1156.1h2.5v26.8h-2.5zM100.4 1156.1h2.6v26.8h-2.6zM106.5 1156.1h3v26.8h-3zM113 1156.1h3.5v26.8h-3.5zM122 1156.1h3v26.8h-3zM140.1 1156.1h2v26.8h-2zM144.1 1156.1h2.5v26.8h-2.5zM150.4 1156.1h1.3v26.8h-1.3zM153.7 1156.1h2.5v26.8h-2.5zM165.2 1156.1h1.3v26.8h-1.3zM175.1 1156.1h3v26.8h-3zM183.1 1156.1h2.5v26.8h-2.5zM188.1 1156.1h5.5v26.8h-5.5zM106.8 1182.9h1.6v26.8h-1.6zM138 1182.9h3v26.8h-3zM152.5 1182.9h3v26.8h-3zM156.8 1182.9h3v26.8h-3zM170.4 1182.9h1.3v26.8h-1.3zM180.2 1182.9h2.5v26.8h-2.5zM187 1182.9h2v26.8h-2zM191.5 1182.9h2v26.8h-2zM93 1209.7h1v26.8h-1z" fill="#fde296"/><path d="M83.5 1048.9h1v26.8h-1zM145.4 1048.9h3.6v26.8h-3.6zM164.5 1048.9h1v26.8h-1zM173 1048.9h1.3v26.8h-1.3zM185.7 1048.9h1.6v26.8h-1.6zM143.3 1075.7h1.3v26.8h-1.3zM91.5 1156.1h2.9v26.8h-2.9zM109.5 1156.1h1v26.8h-1zM137.1 1156.1h3v26.8h-3zM147.9 1156.1h2.5v26.8h-2.5zM151.7 1156.1h2v26.8h-2zM156.2 1156.1h5.1v26.8h-5.1zM163.6 1156.1h1.6v26.8h-1.6z" fill="#fab977"/><path d="M89.1 1048.9h3v26.8h-3zM93.4 1048.9h1.6v26.8h-1.6zM115 1048.9h3.5v26.8h-3.5zM139.9 1048.9h3.5v26.8h-3.5zM152.5 1048.9h2.5v26.8h-2.5zM174.3 1048.9h1.6v26.8h-1.6zM177.2 1048.9h3v26.8h-3zM183.7 1048.9h2v26.8h-2zM94.4 1156.1h3v26.8h-3zM105.5 1156.1h1v26.8h-1zM117.5 1156.1h1.6v26.8h-1.6zM162.6 1156.1h1v26.8h-1zM184.7 1182.9h1v26.8h-1zM193.5 1182.9h2.5v26.8h-2.5z" fill="#f9aa6e"/><path d="M95 1048.9h2.5v26.8h-2.5zM122.6 1048.9h2.5v26.8h-2.5zM155 1048.9h2v26.8h-2zM92.1 1075.7h2v26.8h-2zM98.9 1075.7h4.1v26.8h-4.1zM107.6 1075.7h2v26.8h-2zM112 1075.7h3v26.8h-3zM131.7 1075.7h1v26.8h-1zM137.8 1075.7h2v26.8h-2zM162.6 1075.7h6.5v26.8h-6.5zM170.7 1075.7h2v26.8h-2zM80 1102.5h3.5v26.8h-3.5zM94.8 1102.5h2v26.8h-2zM131.7 1102.5h1.3v26.8h-1.3zM140.8 1102.5h2v26.8h-2zM146 1102.5h1.6v26.8h-1.6zM149 1102.5h1v26.8h-1zM151.6 1102.5h1.6v26.8h-1.6zM158.9 1102.5h3v26.8h-3zM173.9 1102.5h3v26.8h-3zM186 1102.5h5v26.8h-5zM110.5 1156.1h2.5v26.8h-2.5zM116.5 1156.1h1v26.8h-1zM125 1156.1h1.6v26.8h-1.6zM134.1 1156.1h3v26.8h-3zM195.2 1156.1h2v26.8h-2zM75.5 1182.9h1.5v26.8h-1.5zM87 1182.9h2v26.8h-2zM90.3 1182.9h3v26.8h-3zM120 1182.9h1v26.8h-1zM135 1182.9h3v26.8h-3zM178.6 1182.9h1.6v26.8h-1.6zM189 1182.9h2.5v26.8h-2.5z" fill="#feeea7"/><path d="M102.5 1048.9h1v26.8h-1zM86.1 1075.7h6v26.8h-6zM124.3 1075.7h3.8v26.8h-3.8zM149.1 1075.7h5.5v26.8h-5.5zM178.6 1075.7h2.5v26.8h-2.5zM188.2 1075.7h2.5v26.8h-2.5zM83.5 1102.5h3.8v26.8h-3.8zM103.4 1102.5h5v26.8h-5zM122.2 1102.5h3v26.8h-3zM133 1102.5h3v26.8h-3zM137.3 1102.5h3.5v26.8h-3.5zM154.8 1102.5h2.5v26.8h-2.5zM162.9 1102.5h4v26.8h-4zM169.9 1102.5h4v26.8h-4zM180.4 1102.5h2v26.8h-2zM191 1102.5h2.5v26.8h-2.5zM196.5 1102.5h2.5v26.8h-2.5zM77.1 1156.1h1.6v26.8h-1.6zM103 1156.1h2.5v26.8h-2.5zM146.6 1156.1h1.3v26.8h-1.3zM161.3 1156.1h1.3v26.8h-1.3zM173.5 1156.1h1.6v26.8h-1.6zM93.3 1182.9h3v26.8h-3zM121 1182.9h2.5v26.8h-2.5zM163.3 1182.9h3v26.8h-3z" fill="#fefbb8"/><path d="M160 1048.9h2.5v26.8h-2.5zM165.5 1048.9h3v26.8h-3zM172 1048.9h1v26.8h-1zM195.8 1048.9h3.2v26.8h-3.2z" fill="#f79a66"/><path d="M78 1075.7h1.3v26.8h-1.3zM75.5 1102.5h1v26.8h-1zM90.8 1102.5h2v26.8h-2zM78 1129.3h2.5v26.8h-2.5zM85 1129.3h3v26.8h-3zM91 1129.3h13.5v26.8h-13.5zM106.5 1129.3h1v26.8h-1zM117.1 1129.3h1.3v26.8h-1.3zM120 1129.3h5.3v26.8h-5.3zM127.8 1129.3h1.3v26.8h-1.3zM131.1 1129.3h3v26.8h-3zM137.6 1129.3h11.6v26.8h-11.6zM152.2 1129.3h7.8v26.8h-7.8zM161.3 1129.3h5v26.8h-5zM171.8 1129.3h3.5v26.8h-3.5zM181.7 1129.3h3.5v26.8h-3.5zM193.9 1129.3h5.1v26.8h-5.1zM75.5 1209.7h3v26.8h-3zM80.1 1209.7h9v26.8h-9zM90.4 1209.7h2.6v26.8h-2.6zM94 1209.7h25.4v26.8h-25.4zM122.4 1209.7h3.5v26.8h-3.5zM131.6 1209.7h8.3v26.8h-8.3zM142.4 1209.7h6v26.8h-6zM149.4 1209.7h6.5v26.8h-6.5zM159.2 1209.7h4v26.8h-4zM164.5 1209.7h3v26.8h-3zM169.5 1209.7h15.2v26.8h-15.2zM187 1209.7h4.5v26.8h-4.5zM193.5 1209.7h5.5v26.8h-5.5zM78 1236.5h2.5v26.8h-2.5zM83 1236.5h4.3v26.8h-4.3zM90.9 1236.5h6.6v26.8h-6.6zM111 1236.5h16.1v26.8h-16.1zM131.1 1236.5h6.1v26.8h-6.1zM140.7 1236.5h1.3v26.8h-1.3zM143 1236.5h5v26.8h-5zM158 1236.5h6.8v26.8h-6.8zM166.1 1236.5h1.6v26.8h-1.6zM171.2 1236.5h3v26.8h-3zM175.8 1236.5h4v26.8h-4zM181.8 1236.5h3v26.8h-3zM190.8 1236.5h5.5v26.8h-5.5zM197.6 1236.5h1.4v26.8h-1.4z" fill="#5477b0"/><path d="M79.3 1075.7h0.7v26.8h-0.7zM80.5 1129.3h4.5v26.8h-4.5zM88 1129.3h3v26.8h-3zM104.5 1129.3h2v26.8h-2zM107.5 1129.3h9.6v26.8h-9.6zM118.4 1129.3h1.6v26.8h-1.6zM125.3 1129.3h2.5v26.8h-2.5zM129.1 1129.3h2v26.8h-2zM134.1 1129.3h3.5v26.8h-3.5zM149.2 1129.3h3v26.8h-3zM160 1129.3h1.3v26.8h-1.3zM166.3 1129.3h5.5v26.8h-5.5zM175.3 1129.3h1.3v26.8h-1.3zM180.1 1129.3h1.6v26.8h-1.6zM185.2 1129.3h8.7v26.8h-8.7zM78.5 1209.7h1.6v26.8h-1.6zM89.1 1209.7h1.3v26.8h-1.3zM119.4 1209.7h3v26.8h-3zM125.9 1209.7h5.7v26.8h-5.7zM139.9 1209.7h2.5v26.8h-2.5zM148.4 1209.7h1v26.8h-1zM155.9 1209.7h3.3v26.8h-3.3zM163.2 1209.7h1.3v26.8h-1.3zM167.5 1209.7h2v26.8h-2zM184.7 1209.7h2.3v26.8h-2.3zM191.5 1209.7h2v26.8h-2zM75.5 1236.5h2.5v26.8h-2.5zM87.3 1236.5h3.6v26.8h-3.6zM97.5 1236.5h3.5v26.8h-3.5zM127.1 1236.5h4v26.8h-4zM137.2 1236.5h3.5v26.8h-3.5zM142 1236.5h1v26.8h-1zM148 1236.5h5.5v26.8h-5.5zM157 1236.5h1v26.8h-1zM167.7 1236.5h3.5v26.8h-3.5zM174.2 1236.5h1.6v26.8h-1.6zM179.8 1236.5h2v26.8h-2zM184.8 1236.5h6v26.8h-6zM196.3 1236.5h1.3v26.8h-1.3z" fill="#5c7fb5"/><path d="M81.6 1075.7h3.5v26.8h-3.5zM128.1 1075.7h1.6v26.8h-1.6zM132.7 1075.7h3.5v26.8h-3.5zM172.7 1075.7h1.6v26.8h-1.6zM77.5 1102.5h2.5v26.8h-2.5zM113 1102.5h3v26.8h-3zM118.6 1102.5h1.6v26.8h-1.6zM145 1102.5h1v26.8h-1zM193.5 1102.5h2v26.8h-2zM142.1 1156.1h2v26.8h-2zM103.3 1182.9h3.5v26.8h-3.5zM112 1182.9h2v26.8h-2zM125.8 1182.9h3.8v26.8h-3.8zM155.5 1182.9h1.3v26.8h-1.3z" fill="#fafac8"/><path d="M111 1075.7h1v26.8h-1zM129.6 1182.9h3v26.8h-3zM103.5 1236.5h3v26.8h-3z" fill="#e6f4f0"/><path d="M183.6 1075.7h1.6v26.8h-1.6zM114 1182.9h2.5v26.8h-2.5zM124.5 1182.9h1.3v26.8h-1.3z" fill="#f5fad7"/><path d="M76.5 1102.5h1v26.8h-1zM87.3 1102.5h3.5v26.8h-3.5zM75.5 1129.3h2.5v26.8h-2.5zM176.6 1129.3h3.5v26.8h-3.5zM79.5 1182.9h1v26.8h-1zM80.5 1236.5h2.5v26.8h-2.5zM109 1236.5h2v26.8h-2zM153.5 1236.5h3.5v26.8h-3.5zM164.8 1236.5h1.3v26.8h-1.3z" fill="#6486ba"/><path d="M116 1102.5h1v26.8h-1z" fill="#cde4ec"/><path d="M147.6 1102.5h1.4v26.8h-1.4zM123.5 1182.9h1v26.8h-1zM132.6 1182.9h1.4v26.8h-1.4z" fill="#eef7e4"/><path d="M77 1182.9h2.5v26.8h-2.5zM85.3 1182.9h1.7v26.8h-1.7z" fill="#a9c8dc"/><path d="M80.5 1182.9h1.3v26.8h-1.3z" fill="#7396c3"/><path d="M81.8 1182.9h2.5v26.8h-2.5zM101 1236.5h2.5v26.8h-2.5z" fill="#8eafd0"/><path d="M84.3 1182.9h1v26.8h-1zM106.5 1236.5h2.5v26.8h-2.5z" fill="#daecee"/></g>
<rect x="75.5" y="1029.8" width="123.5" height="17.9" fill="#d4341f"/>
<path d="M76.1 1029.5L76.1 997.1H77.1L77.1 998.9H78L78 1006.1H79L79 1003.6H79.9L79.9 1007.6H80.9L80.9 1010.1H81.9L81.9 1012H82.8L82.8 1012.4H83.8L83.8 1019.3H84.8L84.8 1015.8H85.5L85.5 1017.3H86.5L86.5 1015.3H87.1L87.1 1015.2H87.5L87.5 1015H88.4L88.4 1016.9H89.1L89.1 1014.8H90.2L90.2 1015.5H90.8L90.8 1016.7H91.3L91.3 1016.5H92L92 1015.4H93.6L93.6 1017.8H94L94 1015.6H95.3L95.3 1023H96.4L96.4 1018.5H97.6L97.6 1017.8H98.7L98.7 1018.3H99.9L99.9 1015.9H100.8L100.8 1017.2H101.8L101.8 1016.7H102.8L102.8 1018.6H103.7L103.7 1017.9H104.7L104.7 1021.2H105.6L105.6 1018.3H106.6L106.6 1015.3H108.2L108.2 1015.9H109.2L109.2 1016.8H110.1L110.1 1016.4H111L111 1016.7H111.9L111.9 1020.7H113.3L113.3 1020.2H114.8L114.8 1016.7H115.8L115.8 1018H116.7L116.7 1017H117.6L117.6 1018.5H118.5L118.5 1016H119.6L119.6 1016.7H120.6L120.6 1023.1H122.3L122.3 1018.7H123.2L123.2 1018.9H124.2L124.2 1017.8H125.1L125.1 1018H126.1L126.1 1017.3H127.1L127.1 1018.3H128.1L128.1 1018.8H129L129 1018.2H130L130 1022H131L131 1017.4H131.9L131.9 1017.6H132.9L132.9 1016.3H133.9L133.9 1014.8H135L135 1014.8H136L136 1016.5H137L137 1015.5H138L138 1015.1H139L139 1016.6H140.1L140.1 1019.2H141L141 1019.8H141.9L141.9 1021.3H142.8L142.8 1019.8H143.7L143.7 1020.2H144.6L144.6 1020.1H145.5L145.5 1017.2H146.6L146.6 1020H147.6L147.6 1016.6H148.6L148.6 1016.6H149.6L149.6 1016.8H150.6L150.6 1016.5H151.6L151.6 1016.4H152.6L152.6 1015.4H153.6L153.6 1020.5H154.6L154.6 1020.5H155.5L155.5 1020.2H156.4L156.4 1023.8H157.1L157.1 1017.2H158.1L158.1 1015.5H159.1L159.1 1021.3H160.1L160.1 1020.3H161.1L161.1 1019.9H162.3L162.3 1019H163.5L163.5 1020.1H164.5L164.5 1019.9H165.6L165.6 1020.6H166.6L166.6 1018.9H167.7L167.7 1016.4H168.7L168.7 1017H169.6L169.6 1017.9H170.5L170.5 1017.1H171.4L171.4 1017.3H172.4L172.4 1016.4H173.3L173.3 1016.9H174.2L174.2 1016H175.1L175.1 1017.1H176.1L176.1 1016.1H177L177 1016.3H177.9L177.9 1019.8H179.2L179.2 1018.8H180.6L180.6 1018.9H181.7L181.7 1018.2H182.8L182.8 1018.3H183.9L183.9 1019.8H184.9L184.9 1020.5H185.8L185.8 1020.5H186.8L186.8 1021H187.7L187.7 1020.4H188.6L188.6 1020.9H189.5L189.5 1017.7H190.6L190.6 1018.3H191.7L191.7 1020.2H192.8L192.8 1018.7H193.9L193.9 1018.7H195.2L195.2 1019.8H196.5L196.5 1018.5H197.7L197.7 1018.5H198.4L198.4 1029.5Z" fill="#0d0d0a"/><path d="M85.1 1014.5V1008.1H86V1016.9M85.6 1008.1V1005.8H86.8V1014.5M87.9 1014.5V1007.5H88.7V1016.6M87.3 1014.5V1003.7H88.3V1007.5M86.2 1005.8V993.8H87.8V1003.7M89.7 1014.5V1009.9H90.5V1014.5M90.1 1009.9V1007.5H91.1V1014.5M91.7 1014.5V1006.9H92.8V1014.8M90.6 1007.5V996.8H92.2V1006.9M87 993.8V985.7H91.4V996.8M93.8 1016.7V1011.6H94.7V1014.5M95.9 1020.9V1014.1H98.1V1017.7M94.2 1011.6V1002H97V1014.1M101.3 1015.8V1009.6H104.7V1017.2M107.4 1014.8V1008.5H110.1V1015.4M103 1009.6V993.5H108.7V1008.5M112.6 1018.5V1014H114.1V1019.7M113.4 1014V1007.4H116.7V1016.6M120.1 1015.2V1011.7H121.4V1019M119 1014.5V1006.9H120.7V1011.7M124.7 1017.2V1009.8H130V1017.1M119.9 1006.9V1000.4H127.3V1009.8M136.5 1014.6V1012H142.8V1019M147.1 1015.7V1013.3H151.1V1014.5M155 1019.1V1013.8H156.7V1020.3M158.1 1015.1V1013.5H160.1V1020M155.9 1013.8V1012H159.1V1013.5M162.3 1018.3V1014.4H164.5V1019.4M163.4 1014.4V1010.1H166.6V1017.4M172.8 1016V1013.4H179.2V1018.2M182.8 1017.9V1011.8H187.2V1019.5M194.6 1017V1013.8H195.9V1019.3M197.1 1017.6V1013.9H198.1V1017.1M195.2 1013.8V1006.3H197.6V1013.9M191.7 1017.5V1003.8H196.4V1006.3M185 1011.8V1001.1H194.1V1003.8M176 1013.4V999.6H189.5V1001.1M165 1010.1V997.9H182.8V999.6M157.5 1012V996H173.9V997.9M149.1 1013.3V993.7H165.7V996M139.6 1012V991.3H157.4V993.7M123.6 1000.4V988.8H148.5V991.3M115 1007.4V983.6H136.1V988.8M105.9 993.5V977.4H125.5V983.6M95.6 1002V972H115.7V977.4M89.2 985.7V968.1H105.7V972M78.7 998.8V961.3H97.4V968.1M77.5 999.9V988.7M82.3 1013V1003.8M85.1 1016.8V1013.2M87.3 1016.2V1007.5M88.7 1017.9V1010.3M91.1 1017.7V1005.5M95.9 1024V1019.7M99.3 1019.3V1014.2M100.3 1016.9V1008.4M101.3 1018.2V1011M107.4 1016.3V1009.9M114.1 1021.2V1016M115.3 1017.7V1015.9M117.1 1018V1011.2M123.7 1019.9V1012M125.6 1019V1010.9M133.4 1017.3V1006.5M139.5 1017.6V1006.6M140.5 1020.2V1017.8M142.3 1022.3V1014.1M144.2 1021.2V1017.4M145.1 1021.1V1012.3M150.1 1017.8V1010.8M155 1021.5V1015.8M165.1 1020.9V1018.1M167.2 1019.9V1013M169.1 1018V1013.5M170 1018.9V1009.9M175.6 1018.1V1015M181.1 1019.9V1016.9M183.3 1019.3V1016.8M184.4 1020.8V1010.2M185.4 1021.5V1014.7M186.3 1021.5V1014.1M188.1 1021.4V1015.8M190.1 1018.7V1009.6M191.2 1019.3V1013.5M193.4 1019.7V1014M194.6 1019.7V1016.3M198.1 1019.5V1010.6" fill="none" stroke="#0d0d0a" stroke-width="1.55"/>
<text x="201.1" y="1021.6" font-size="19">Percentage</text>
<text x="206.3" y="1042.4" font-size="19" text-anchor="middle">0</text>
<text x="232.1" y="1042.4" font-size="19" text-anchor="middle">0.4</text>
<text x="260" y="1042.4" font-size="19" text-anchor="middle">0.8</text>
<path d="M204.2 1048.8H273.9M204.2 1048.8v-3.8M218.1 1048.8v-3.8M232.1 1048.8v-3.8M246 1048.8v-3.8M260 1048.8v-3.8M273.9 1048.8v-3.8" stroke="#111" stroke-width="1.3" fill="none"/>
<g fill="#357f36" stroke="#0a0a0a" stroke-width="1.4"><rect x="204.2" y="1054" width="69.7" height="16.7"/><rect x="204.2" y="1080.8" width="66.4" height="16.7"/><rect x="204.2" y="1107.6" width="64.4" height="16.7"/><rect x="204.2" y="1161.2" width="68.9" height="16.7"/><rect x="204.2" y="1188" width="62.5" height="16.7"/></g>
<path d="M205.1 1134.9v15.7M205.1 1215.3v15.7M205.1 1242.1v15.7" stroke="#0a0a0a" stroke-width="2"/>
<g shape-rendering="crispEdges"><path d="M313.5 1048.9h1.6v26.8h-1.6zM411.2 1048.9h1v26.8h-1zM317 1075.7h6.2v26.8h-6.2zM333 1075.7h2v26.8h-2zM338.5 1075.7h3v26.8h-3zM353.7 1075.7h3.3v26.8h-3.3zM379 1075.7h6v26.8h-6zM399.9 1075.7h1.3v26.8h-1.3zM412.8 1075.7h3.5v26.8h-3.5zM423.8 1075.7h3v26.8h-3zM428.1 1075.7h2v26.8h-2zM433.1 1075.7h3.5v26.8h-3.5zM448.4 1075.7h4.1v26.8h-4.1zM341.3 1102.5h1.3v26.8h-1.3zM360.2 1102.5h1.6v26.8h-1.6zM366.1 1102.5h1v26.8h-1zM368.1 1102.5h1v26.8h-1zM373.6 1102.5h5v26.8h-5zM379.6 1102.5h1v26.8h-1zM395.6 1102.5h6.2v26.8h-6.2zM409.2 1102.5h4.5v26.8h-4.5zM418.2 1102.5h4v26.8h-4zM428.5 1102.5h4.5v26.8h-4.5zM439.1 1102.5h2.5v26.8h-2.5zM359 1156.1h3.5v26.8h-3.5zM371.7 1156.1h1.6v26.8h-1.6zM411.9 1156.1h2.5v26.8h-2.5zM424.9 1156.1h2.5v26.8h-2.5zM445.2 1156.1h1.6v26.8h-1.6zM313.5 1182.9h2v26.8h-2zM329.1 1182.9h0.9v26.8h-0.9zM357.8 1182.9h4.5v26.8h-4.5zM373.4 1182.9h7.3v26.8h-7.3zM382.3 1182.9h3v26.8h-3zM387.3 1182.9h1.6v26.8h-1.6zM394.4 1182.9h1v26.8h-1zM408 1182.9h1v26.8h-1zM410.6 1182.9h1.4v26.8h-1.4zM415.8 1182.9h2v26.8h-2zM449.4 1182.9h2v26.8h-2z" fill="#feeea7"/><path d="M315.1 1048.9h3.5v26.8h-3.5zM322.7 1048.9h6.5v26.8h-6.5zM331.7 1048.9h1.3v26.8h-1.3zM354.9 1048.9h2v26.8h-2zM365.1 1048.9h2v26.8h-2zM378 1048.9h1v26.8h-1zM418.7 1048.9h1.3v26.8h-1.3zM437.1 1048.9h2.5v26.8h-2.5zM448.1 1048.9h1.3v26.8h-1.3zM325.7 1156.1h1.3v26.8h-1.3zM334 1156.1h3.5v26.8h-3.5zM343.6 1156.1h4.6v26.8h-4.6zM373.3 1156.1h1.6v26.8h-1.6zM399.7 1156.1h3v26.8h-3zM420.1 1156.1h1.3v26.8h-1.3zM432.2 1156.1h1v26.8h-1zM320 1209.7h1.5v26.8h-1.5z" fill="#f9aa6e"/><path d="M318.6 1048.9h1.6v26.8h-1.6zM333 1048.9h5.5v26.8h-5.5zM343 1048.9h2.5v26.8h-2.5zM385.4 1048.9h1v26.8h-1zM389.9 1048.9h1v26.8h-1zM395.7 1048.9h4.5v26.8h-4.5zM409.2 1048.9h2v26.8h-2zM432.1 1048.9h3v26.8h-3zM445.6 1048.9h2.5v26.8h-2.5zM450.7 1048.9h3.5v26.8h-3.5zM324.5 1075.7h2.6v26.8h-2.6zM349.1 1075.7h3v26.8h-3zM416.3 1075.7h1.6v26.8h-1.6zM420.9 1075.7h1.6v26.8h-1.6zM321.7 1156.1h4v26.8h-4zM340.1 1156.1h3.5v26.8h-3.5zM362.5 1156.1h2.5v26.8h-2.5zM368.2 1156.1h3.5v26.8h-3.5zM417.6 1156.1h2.5v26.8h-2.5zM438.7 1156.1h3v26.8h-3zM446.8 1156.1h2.5v26.8h-2.5zM454.4 1156.1h1.6v26.8h-1.6zM452.4 1182.9h1.6v26.8h-1.6z" fill="#fbc880"/><path d="M320.2 1048.9h2.5v26.8h-2.5zM345.5 1048.9h6.9v26.8h-6.9zM363.8 1048.9h1.3v26.8h-1.3zM380.3 1048.9h5.1v26.8h-5.1zM387.4 1048.9h2.5v26.8h-2.5zM390.9 1048.9h1v26.8h-1zM394.4 1048.9h1.3v26.8h-1.3zM400.2 1048.9h3.5v26.8h-3.5zM420 1048.9h2.5v26.8h-2.5zM443.1 1048.9h2.5v26.8h-2.5zM448 1102.5h3v26.8h-3zM317.7 1156.1h1v26.8h-1zM329 1156.1h2.5v26.8h-2.5zM365 1156.1h1.6v26.8h-1.6zM374.9 1156.1h4.5v26.8h-4.5zM387.9 1156.1h1.6v26.8h-1.6zM396.7 1156.1h3v26.8h-3zM436.7 1156.1h2v26.8h-2z" fill="#fab977"/><path d="M329.2 1048.9h2.5v26.8h-2.5zM341 1048.9h2v26.8h-2zM358.5 1048.9h2.3v26.8h-2.3zM373 1048.9h2v26.8h-2zM377 1048.9h1v26.8h-1zM386.4 1048.9h1v26.8h-1zM415.7 1048.9h3v26.8h-3zM449.4 1048.9h1.3v26.8h-1.3zM329.1 1075.7h0.9v26.8h-0.9zM357 1075.7h3v26.8h-3zM363.5 1075.7h2v26.8h-2zM376 1075.7h3v26.8h-3zM390.8 1075.7h4.1v26.8h-4.1zM430.1 1075.7h3v26.8h-3zM436.6 1075.7h4.5v26.8h-4.5zM443.6 1075.7h3.5v26.8h-3.5zM452.5 1075.7h3.5v26.8h-3.5zM344.6 1102.5h3.5v26.8h-3.5zM367.1 1102.5h1v26.8h-1zM417.2 1102.5h1v26.8h-1zM425.5 1102.5h3v26.8h-3zM318.7 1156.1h3v26.8h-3zM331.5 1156.1h2.5v26.8h-2.5zM339.1 1156.1h1v26.8h-1zM366.6 1156.1h1.6v26.8h-1.6zM379.4 1156.1h3.5v26.8h-3.5zM385.9 1156.1h2v26.8h-2zM390.8 1156.1h1.3v26.8h-1.3zM402.7 1156.1h4.6v26.8h-4.6zM416 1156.1h1.6v26.8h-1.6zM421.4 1156.1h1v26.8h-1zM449.3 1156.1h1.6v26.8h-1.6zM319 1182.9h5.1v26.8h-5.1zM354.5 1182.9h1.3v26.8h-1.3zM364.9 1182.9h5v26.8h-5zM388.9 1182.9h3v26.8h-3zM407 1182.9h1v26.8h-1z" fill="#fcd58b"/><path d="M338.5 1048.9h2.5v26.8h-2.5zM352.4 1048.9h2.5v26.8h-2.5zM360.8 1048.9h3v26.8h-3zM371.7 1048.9h1.3v26.8h-1.3zM379 1048.9h1.3v26.8h-1.3zM391.9 1048.9h2.5v26.8h-2.5zM403.7 1048.9h5.5v26.8h-5.5zM422.5 1048.9h2v26.8h-2zM337.5 1156.1h1.6v26.8h-1.6zM351.7 1156.1h0.9v26.8h-0.9zM422.4 1156.1h2.5v26.8h-2.5z" fill="#f79a66"/><path d="M356.9 1048.9h1.6v26.8h-1.6zM367.1 1048.9h3v26.8h-3zM375 1048.9h2v26.8h-2zM427 1048.9h3.5v26.8h-3.5zM435.1 1048.9h2v26.8h-2zM439.6 1048.9h3.5v26.8h-3.5zM313.5 1075.7h3.5v26.8h-3.5zM335 1075.7h3.5v26.8h-3.5zM344 1075.7h3.5v26.8h-3.5zM352.1 1075.7h1.6v26.8h-1.6zM365.5 1075.7h2v26.8h-2zM397.9 1075.7h2v26.8h-2zM329.5 1102.5h4.5v26.8h-4.5zM335.5 1102.5h4.8v26.8h-4.8zM342.6 1102.5h2v26.8h-2zM351.1 1102.5h4.8v26.8h-4.8zM361.8 1102.5h3v26.8h-3zM369.1 1102.5h4.5v26.8h-4.5zM380.6 1102.5h4.4v26.8h-4.4zM406.3 1102.5h2.9v26.8h-2.9zM423.5 1102.5h2v26.8h-2zM433 1102.5h2.6v26.8h-2.6zM436.6 1102.5h2.5v26.8h-2.5zM441.6 1102.5h6.4v26.8h-6.4zM454 1102.5h2v26.8h-2zM327 1156.1h2v26.8h-2zM348.2 1156.1h3.5v26.8h-3.5zM355.5 1156.1h3.5v26.8h-3.5zM382.9 1156.1h3v26.8h-3zM389.5 1156.1h1.3v26.8h-1.3zM393.7 1156.1h3v26.8h-3zM407.3 1156.1h4.6v26.8h-4.6zM414.4 1156.1h1.6v26.8h-1.6zM427.4 1156.1h4.8v26.8h-4.8zM433.2 1156.1h3.5v26.8h-3.5zM441.7 1156.1h3.5v26.8h-3.5zM450.9 1156.1h3.5v26.8h-3.5zM324.1 1182.9h2v26.8h-2zM352 1182.9h2.5v26.8h-2.5zM362.3 1182.9h2.6v26.8h-2.6zM369.9 1182.9h3.5v26.8h-3.5zM380.7 1182.9h1.6v26.8h-1.6zM385.3 1182.9h2v26.8h-2zM400 1182.9h7v26.8h-7zM409 1182.9h1.6v26.8h-1.6zM423 1182.9h3.2v26.8h-3.2zM431.2 1182.9h11.7v26.8h-11.7zM451.4 1182.9h1v26.8h-1zM454 1182.9h2v26.8h-2zM336 1209.7h1.5v26.8h-1.5z" fill="#fde296"/><path d="M370.1 1048.9h1.6v26.8h-1.6z" fill="#ee7754"/><path d="M412.2 1048.9h3.5v26.8h-3.5zM424.5 1048.9h2.5v26.8h-2.5zM327.1 1075.7h2v26.8h-2zM341.5 1075.7h2.5v26.8h-2.5zM347.5 1075.7h1.6v26.8h-1.6zM360 1075.7h3.5v26.8h-3.5zM368.5 1075.7h2.5v26.8h-2.5zM388.5 1075.7h1.3v26.8h-1.3zM401.2 1075.7h11.6v26.8h-11.6zM417.9 1075.7h3v26.8h-3zM422.5 1075.7h1.3v26.8h-1.3zM426.8 1075.7h1.3v26.8h-1.3zM441.1 1075.7h2.5v26.8h-2.5zM348.1 1102.5h3v26.8h-3zM355.9 1102.5h4.3v26.8h-4.3zM364.8 1102.5h1.3v26.8h-1.3zM394.6 1102.5h1v26.8h-1zM405.3 1102.5h1v26.8h-1zM435.6 1102.5h1v26.8h-1zM392.1 1156.1h1.6v26.8h-1.6zM315.5 1182.9h3.5v26.8h-3.5zM326.1 1182.9h3v26.8h-3zM395.4 1182.9h1.3v26.8h-1.3zM398 1182.9h2v26.8h-2zM426.2 1182.9h2v26.8h-2zM442.9 1182.9h3v26.8h-3z" fill="#fefbb8"/><path d="M430.5 1048.9h1.6v26.8h-1.6zM454.2 1048.9h1.8v26.8h-1.8z" fill="#f58a5e"/><path d="M323.2 1075.7h1.3v26.8h-1.3zM367.5 1075.7h1v26.8h-1zM372 1075.7h1.6v26.8h-1.6zM385 1075.7h3.5v26.8h-3.5zM389.8 1075.7h1v26.8h-1zM394.9 1075.7h3v26.8h-3zM447.1 1075.7h1.3v26.8h-1.3zM313.5 1102.5h3v26.8h-3zM340.3 1102.5h1v26.8h-1zM378.6 1102.5h1v26.8h-1zM385 1102.5h1.6v26.8h-1.6zM401.8 1102.5h3.5v26.8h-3.5zM413.7 1102.5h3.5v26.8h-3.5zM451 1102.5h3v26.8h-3zM355.8 1182.9h2v26.8h-2zM391.9 1182.9h2.5v26.8h-2.5zM396.7 1182.9h1.3v26.8h-1.3zM417.8 1182.9h3v26.8h-3zM428.2 1182.9h3v26.8h-3zM445.9 1182.9h3.5v26.8h-3.5z" fill="#fafac8"/><path d="M330 1075.7h3v26.8h-3zM334 1102.5h1.5v26.8h-1.5zM313.5 1129.3h2v26.8h-2zM316.8 1129.3h1.2v26.8h-1.2zM319 1129.3h10v26.8h-10zM332.5 1129.3h1v26.8h-1zM335.5 1129.3h5v26.8h-5zM341.8 1129.3h2.3v26.8h-2.3zM347.6 1129.3h1v26.8h-1zM353.6 1129.3h16.1v26.8h-16.1zM371 1129.3h6.5v26.8h-6.5zM379.1 1129.3h3v26.8h-3zM385.6 1129.3h7.6v26.8h-7.6zM399.2 1129.3h13.6v26.8h-13.6zM415.8 1129.3h5v26.8h-5zM421.8 1129.3h7.5v26.8h-7.5zM430.3 1129.3h2.5v26.8h-2.5zM434.4 1129.3h5.6v26.8h-5.6zM442 1129.3h12.5v26.8h-12.5zM330 1182.9h4v26.8h-4zM336.5 1182.9h10.2v26.8h-10.2zM349 1182.9h3v26.8h-3zM316.5 1209.7h3.5v26.8h-3.5zM321.5 1209.7h9.8v26.8h-9.8zM332.6 1209.7h3.4v26.8h-3.4zM337.5 1209.7h6.1v26.8h-6.1zM346.1 1209.7h8.4v26.8h-8.4zM355.8 1209.7h18.8v26.8h-18.8zM378.1 1209.7h1v26.8h-1zM383.1 1209.7h2v26.8h-2zM389.2 1209.7h4.8v26.8h-4.8zM404 1209.7h4.8v26.8h-4.8zM414.3 1209.7h4.5v26.8h-4.5zM423.4 1209.7h6.8v26.8h-6.8zM434.7 1209.7h4.5v26.8h-4.5zM446.6 1209.7h1.6v26.8h-1.6zM449.2 1209.7h6.8v26.8h-6.8zM313.5 1236.5h7v26.8h-7zM322.1 1236.5h2.5v26.8h-2.5zM329.7 1236.5h16.6v26.8h-16.6zM349.2 1236.5h4v26.8h-4zM356.2 1236.5h2v26.8h-2zM364.2 1236.5h3v26.8h-3zM370.2 1236.5h13.8v26.8h-13.8zM386 1236.5h4v26.8h-4zM395 1236.5h3.5v26.8h-3.5zM409.1 1236.5h5.2v26.8h-5.2zM417.8 1236.5h5.6v26.8h-5.6zM424.4 1236.5h23.4v26.8h-23.4zM450.8 1236.5h5.2v26.8h-5.2z" fill="#5477b0"/><path d="M371 1075.7h1v26.8h-1zM373.6 1075.7h2.4v26.8h-2.4zM327.2 1102.5h1.3v26.8h-1.3zM386.6 1102.5h3v26.8h-3zM412 1182.9h1.3v26.8h-1.3z" fill="#eef7e4"/><path d="M316.5 1102.5h1.6v26.8h-1.6zM432.8 1129.3h1.6v26.8h-1.6zM408.1 1236.5h1v26.8h-1z" fill="#7396c3"/><path d="M318.1 1102.5h1.6v26.8h-1.6zM352.6 1156.1h2.9v26.8h-2.9zM400 1209.7h4v26.8h-4z" fill="#cde4ec"/><path d="M319.7 1102.5h1v26.8h-1zM328.5 1102.5h1v26.8h-1zM348.6 1129.3h2v26.8h-2z" fill="#bbd6e4"/><path d="M320.7 1102.5h3.5v26.8h-3.5zM389.6 1102.5h1.6v26.8h-1.6zM317 1156.1h0.7v26.8h-0.7z" fill="#e6f4f0"/><path d="M324.2 1102.5h3v26.8h-3zM316 1156.1h1v26.8h-1z" fill="#8eafd0"/><path d="M391.2 1102.5h3.4v26.8h-3.4zM422.2 1102.5h1.3v26.8h-1.3zM318 1129.3h1v26.8h-1zM413.3 1182.9h2.5v26.8h-2.5zM420.8 1182.9h2.2v26.8h-2.2z" fill="#f5fad7"/><path d="M315.5 1129.3h1.3v26.8h-1.3zM333.5 1129.3h2v26.8h-2zM340.5 1129.3h1.3v26.8h-1.3zM344.1 1129.3h3.5v26.8h-3.5zM369.7 1129.3h1.3v26.8h-1.3zM377.5 1129.3h1.6v26.8h-1.6zM382.1 1129.3h3.5v26.8h-3.5zM393.2 1129.3h3v26.8h-3zM412.8 1129.3h3v26.8h-3zM420.8 1129.3h1v26.8h-1zM429.3 1129.3h1v26.8h-1zM440 1129.3h2v26.8h-2zM454.5 1129.3h1.5v26.8h-1.5zM334 1182.9h2.5v26.8h-2.5zM346.7 1182.9h2.3v26.8h-2.3zM313.5 1209.7h3v26.8h-3zM331.3 1209.7h1.3v26.8h-1.3zM343.6 1209.7h2.5v26.8h-2.5zM354.5 1209.7h1.3v26.8h-1.3zM374.6 1209.7h3.5v26.8h-3.5zM379.1 1209.7h4v26.8h-4zM385.1 1209.7h4.1v26.8h-4.1zM394 1209.7h6v26.8h-6zM408.8 1209.7h5.5v26.8h-5.5zM418.8 1209.7h4.6v26.8h-4.6zM430.2 1209.7h4.5v26.8h-4.5zM439.2 1209.7h7.4v26.8h-7.4zM448.2 1209.7h1v26.8h-1zM320.5 1236.5h1.6v26.8h-1.6zM326.2 1236.5h3.5v26.8h-3.5zM346.3 1236.5h2.9v26.8h-2.9zM353.2 1236.5h3v26.8h-3zM358.2 1236.5h1v26.8h-1zM361.2 1236.5h3v26.8h-3zM384 1236.5h2v26.8h-2zM390 1236.5h5v26.8h-5zM398.5 1236.5h9.6v26.8h-9.6zM414.3 1236.5h3.5v26.8h-3.5zM423.4 1236.5h1v26.8h-1zM447.8 1236.5h3v26.8h-3z" fill="#5c7fb5"/><path d="M329 1129.3h3.5v26.8h-3.5zM350.6 1129.3h3v26.8h-3zM396.2 1129.3h3v26.8h-3zM313.5 1156.1h2.5v26.8h-2.5zM324.6 1236.5h1.6v26.8h-1.6zM359.2 1236.5h2v26.8h-2zM367.2 1236.5h3v26.8h-3z" fill="#6486ba"/></g>
<rect x="313.5" y="1029.8" width="142.5" height="17.9" fill="#9a4e2a"/>
<path d="M314.1 1029.5L314.1 1004.6H315L315 1000.5H316L316 1004.6H316.9L316.9 1007.1H317.8L317.8 1010.2H318.8L318.8 1009.4H319.7L319.7 1013.5H320.7L320.7 1014.9H321.6L321.6 1015.3H322.5L322.5 1016.9H323.7L323.7 1019.6H325L325 1016.9H325.6L325.6 1016.1H326.4L326.4 1021.7H326.9L326.9 1019.9H328.1L328.1 1018.3H329.1L329.1 1019.7H330.1L330.1 1017.7H331L331 1018.7H332.6L332.6 1017H333.8L333.8 1020.8H334.9L334.9 1021H335.9L335.9 1019.9H337.1L337.1 1019.1H338.2L338.2 1019H339.4L339.4 1020.3H340.4L340.4 1018.9H341.4L341.4 1016.8H342.4L342.4 1017.3H343.4L343.4 1021.5H344.1L344.1 1016H344.7L344.7 1018.3H345.9L345.9 1021.1H346.7L346.7 1017.2H347.7L347.7 1020.6H348.5L348.5 1016.5H349.7L349.7 1017.6H350.9L350.9 1017.4H351.8L351.8 1018.1H352.7L352.7 1016.1H353.6L353.6 1016.9H354.5L354.5 1017.2H355.5L355.5 1016.5H356.4L356.4 1018H357.4L357.4 1018.7H358.4L358.4 1018.6H359.4L359.4 1019.1H360.4L360.4 1018H361.3L361.3 1018.4H362.3L362.3 1018H363.3L363.3 1021.8H364.3L364.3 1020.8H365.2L365.2 1017H366.2L366.2 1018.5H367.3L367.3 1017.7H368.3L368.3 1019.5H369.4L369.4 1017.7H370.4L370.4 1017.2H371.4L371.4 1018H372.3L372.3 1018.5H373.3L373.3 1018.3H374.3L374.3 1019.4H375.3L375.3 1019.4H376.3L376.3 1020.5H377.5L377.5 1020.5H378.6L378.6 1021.4H379.8L379.8 1020.6H381.1L381.1 1020.7H382.1L382.1 1020H383.1L383.1 1018.7H384.7L384.7 1017.4H386.1L386.1 1018.3H387.1L387.1 1018.7H388L388 1016.8H389.4L389.4 1017.7H390.5L390.5 1017.7H391.5L391.5 1016.8H392.6L392.6 1018.2H393.6L393.6 1017.5H394.7L394.7 1018.1H396.1L396.1 1017.8H397.1L397.1 1018.6H398.2L398.2 1018.6H399.1L399.1 1017H400.1L400.1 1020H401.1L401.1 1016.2H402L402 1017.8H403L403 1016.7H403.9L403.9 1017.9H404.9L404.9 1016.9H405.9L405.9 1017.8H407L407 1021.3H408.1L408.1 1017.8H409.2L409.2 1021.4H410.1L410.1 1018.5H411L411 1019.3H412L412 1018.2H412.9L412.9 1019.2H413.8L413.8 1019.9H414.7L414.7 1017.8H415.7L415.7 1021.7H416.6L416.6 1020.6H417.5L417.5 1020.8H418.4L418.4 1019.4H419.3L419.3 1019.3H420.2L420.2 1018.5H421.9L421.9 1020.6H422.9L422.9 1018.5H424.2L424.2 1019.2H425.5L425.5 1022H426.4L426.4 1019.1H427.4L427.4 1018.4H428.3L428.3 1019.9H429.3L429.3 1019.2H430.2L430.2 1020.4H431.2L431.2 1018.8H432.2L432.2 1017.6H433.2L433.2 1021.2H434.2L434.2 1018H435.2L435.2 1019.9H436.2L436.2 1018.2H437.1L437.1 1018.3H438.1L438.1 1017.5H439L439 1018H440L440 1018H440.9L440.9 1018.8H441.9L441.9 1018.5H442.8L442.8 1018.1H444.3L444.3 1022H445.6L445.6 1018.3H446.6L446.6 1019.4H447.6L447.6 1017.5H449.1L449.1 1018.5H450.1L450.1 1019.2H451.2L451.2 1023.2H452.3L452.3 1016.8H453.5L453.5 1017.2H454.7L454.7 1017.9H455.4L455.4 1029.5Z" fill="#0d0d0a"/><path d="M323.7 1015.5V1012.1H325.3V1015.5M326.7 1020.8V1015.3H327.5V1019.5M326 1015.5V1009.7H327.1V1015.3M324.5 1012.1V1003.2H326.5V1009.7M329.6 1017V1010H331.8V1018.7M333.2 1016.9V1014.9H334.9V1020.7M334 1014.9V1013.3H337.6V1018.3M342.4 1016.5V1014.1H343.7V1020.7M340.4 1018.6V1012.2H343.1V1014.1M335.8 1013.3V1008.6H341.7V1012.2M330.7 1010V1003.7H338.8V1008.6M325.5 1003.2V983H334.7V1003.7M345.3 1017.6V1014.5H346.3V1015.7M344.4 1015.5V1011.2H345.8V1014.5M347.2 1016.6V1014H348.1V1016M345.1 1011.2V1008.3H347.7V1014M351.8 1017V1011.7H354.5V1015.6M349.7 1016V1009.7H353.2V1011.7M346.4 1008.3V997H351.4V1009.7M364.3 1020.2V1012.6H368.3V1016.7M359.9 1017.6V1011.2H366.3V1012.6M372.3 1016.9V1008.9H374.8V1017.9M363.1 1011.2V1003.3H373.6V1008.9M378 1020V1014.1H380.5V1019.9M382.1 1019.5V1014.7H383.9V1017.6M383 1014.7V1013.4H385.4V1016.7M379.2 1014.1V1006.9H384.2V1013.4M387.1 1017.3V1007.8H388.7V1015.5M392 1016.3V1012.7H395.4V1017.8M387.9 1007.8V1000.3H393.7V1012.7M381.7 1006.9V994.9H390.8V1000.3M396.6 1017V1014.1H397.6V1015.8M397.1 1014.1V1012H402V1016M410.1 1017.3V1011.5H412.4V1017.5M407.5 1016.6V1007.7H411.3V1011.5M399.6 1012V1004.3H409.4V1007.7M417 1017.7V1014.2H421V1016.8M422.4 1020.3V1014.9H424.2V1018.2M423.3 1014.9V1012.8H427.8V1018.2M419 1014.2V1002.7H425.6V1012.8M432.7 1017.5V1009.4H439V1017.4M443.6 1017.3V1014.2H445V1019.5M446.6 1018V1009.9H448.4V1015.5M444.3 1014.2V1004.7H447.5V1009.9M449.6 1017.5V1012.4H451.2V1019M452.9 1015.5V1009.2H454.1V1016M453.5 1009.2V1003.9H455V1015.5M450.4 1012.4V1001.1H454.3V1003.9M445.9 1004.7V997.6H452.3V1001.1M435.9 1009.4V993H449.1V997.6M422.3 1002.7V989.4H442.5V993M404.5 1004.3V986.5H432.4V989.4M386.3 994.9V981.8H418.4V986.5M368.3 1003.3V976.4H402.4V981.8M348.9 997V972.6H385.3V976.4M330.1 983V968.3H367.1V972.6M316.6 1000.8V961.3H348.6V968.3M315.5 1001.5V988.7M316.4 1005.6V992.6M317.4 1008.1V998.3M318.3 1011.2V1001.7M319.3 1010.4V1000.6M323.1 1017.9V1010.1M324.4 1020.6V1013.9M326.7 1022.7V1019.9M328.6 1019.3V1014.1M330.6 1018.7V1014.2M334.3 1021.8V1019.7M338.8 1020V1012.1M342.9 1018.3V1013.8M344.4 1017V1007.1M348.1 1021.6V1014.7M352.2 1019.1V1015.5M357.9 1019.7V1015.9M359.9 1020.1V1016.4M360.8 1019V1012.1M361.8 1019.4V1011.2M363.8 1022.8V1013.9M372.8 1019.5V1014.1M383.9 1019.7V1015.3M398.7 1019.6V1014M409.7 1022.4V1012.2M417 1021.6V1011.4M417.9 1021.8V1012.3M418.8 1020.4V1010.8M419.7 1020.3V1016.3M423.5 1019.5V1016.6M425.9 1023V1010.8M426.9 1020.1V1014.9M430.7 1021.4V1012.4M433.7 1022.2V1016.5M439.5 1019V1016.7M442.3 1019.5V1014.6M445 1023V1017.8M447.1 1020.4V1017.4M451.7 1024.2V1012.5M452.9 1017.8V1014.3" fill="none" stroke="#0d0d0a" stroke-width="1.55"/>
<text x="457" y="1021.6" font-size="19">Percentage</text>
<text x="462.5" y="1042.4" font-size="19" text-anchor="middle">0</text>
<text x="491.2" y="1042.4" font-size="19" text-anchor="middle">0.4</text>
<text x="519.1" y="1042.4" font-size="19" text-anchor="middle">0.8</text>
<path d="M463.3 1048.8H533M463.3 1048.8v-3.8M477.2 1048.8v-3.8M491.2 1048.8v-3.8M505.1 1048.8v-3.8M519.1 1048.8v-3.8M533 1048.8v-3.8" stroke="#111" stroke-width="1.3" fill="none"/>
<g fill="#357f36" stroke="#0a0a0a" stroke-width="1.4"><rect x="463.3" y="1054" width="68.7" height="16.7"/><rect x="463.3" y="1080.8" width="65.7" height="16.7"/><rect x="463.3" y="1107.6" width="61.7" height="16.7"/><rect x="463.3" y="1161.2" width="65.7" height="16.7"/><rect x="463.3" y="1188" width="56.7" height="16.7"/><rect x="463.3" y="1214.8" width="2.8" height="16.7"/></g>
<path d="M464.2 1134.9v15.7M464.2 1242.1v15.7" stroke="#0a0a0a" stroke-width="2"/>
<g shape-rendering="crispEdges"><path d="M568 1048.9h2v26.8h-2zM579.6 1048.9h1v26.8h-1zM610.8 1048.9h1.6v26.8h-1.6zM659.1 1048.9h1v26.8h-1zM646.1 1156.1h2v26.8h-2zM654.9 1156.1h2v26.8h-2z" fill="#f58a5e"/><path d="M570 1048.9h1.3v26.8h-1.3zM572.9 1048.9h1.6v26.8h-1.6zM600.9 1048.9h2.9v26.8h-2.9zM614.4 1048.9h3v26.8h-3zM633 1048.9h4v26.8h-4zM654 1048.9h3.5v26.8h-3.5zM660.1 1048.9h3v26.8h-3zM666.6 1048.9h6v26.8h-6zM676.7 1048.9h3v26.8h-3zM691.1 1048.9h3v26.8h-3zM706.9 1048.9h1.6v26.8h-1.6zM586.4 1156.1h2.5v26.8h-2.5zM589.9 1156.1h3.5v26.8h-3.5zM596.4 1156.1h1.3v26.8h-1.3zM599 1156.1h3.5v26.8h-3.5zM636.1 1156.1h2.5v26.8h-2.5zM651.6 1156.1h1.3v26.8h-1.3zM656.9 1156.1h3.5v26.8h-3.5zM667.9 1156.1h2v26.8h-2zM676 1156.1h3.5v26.8h-3.5zM686.5 1156.1h1.6v26.8h-1.6zM690.6 1156.1h3.5v26.8h-3.5zM697.6 1156.1h2.5v26.8h-2.5zM701.4 1156.1h3.3v26.8h-3.3zM710.2 1156.1h5.5v26.8h-5.5z" fill="#f9aa6e"/><path d="M571.3 1048.9h1.6v26.8h-1.6zM581.9 1048.9h8.5v26.8h-8.5zM595.9 1048.9h2.5v26.8h-2.5zM606.8 1048.9h3v26.8h-3zM617.4 1048.9h1.6v26.8h-1.6zM637 1048.9h1.6v26.8h-1.6zM672.6 1048.9h2.5v26.8h-2.5zM679.7 1048.9h1v26.8h-1zM683.7 1048.9h1v26.8h-1zM708.5 1048.9h1.6v26.8h-1.6zM715.4 1048.9h1.6v26.8h-1.6zM616.3 1075.7h3v26.8h-3zM655.6 1075.7h1.3v26.8h-1.3zM707.3 1075.7h2v26.8h-2zM626.5 1102.5h1.3v26.8h-1.3zM649.3 1102.5h1.6v26.8h-1.6zM654.4 1102.5h3.5v26.8h-3.5zM666 1102.5h3.5v26.8h-3.5zM576.7 1156.1h4.8v26.8h-4.8zM583.1 1156.1h1.3v26.8h-1.3zM604.5 1156.1h1.6v26.8h-1.6zM611 1156.1h1v26.8h-1zM615 1156.1h3.5v26.8h-3.5zM632.6 1156.1h2.5v26.8h-2.5zM641.1 1156.1h3v26.8h-3zM661.4 1156.1h3v26.8h-3zM673.1 1156.1h1.3v26.8h-1.3zM704.7 1156.1h5.5v26.8h-5.5zM673.4 1182.9h3.5v26.8h-3.5z" fill="#fbc880"/><path d="M574.5 1048.9h1.6v26.8h-1.6zM593.9 1048.9h2v26.8h-2zM612.4 1048.9h2v26.8h-2zM688.8 1048.9h1v26.8h-1zM699.1 1048.9h3v26.8h-3zM618.5 1156.1h2.5v26.8h-2.5zM660.4 1156.1h1v26.8h-1z" fill="#f79a66"/><path d="M576.1 1048.9h3.5v26.8h-3.5zM609.8 1048.9h1v26.8h-1zM675.1 1048.9h1.6v26.8h-1.6zM581.7 1075.7h5.1v26.8h-5.1zM588.8 1075.7h3.5v26.8h-3.5zM595.9 1075.7h5.5v26.8h-5.5zM603 1075.7h6v26.8h-6zM613.3 1075.7h3v26.8h-3zM628.9 1075.7h5.3v26.8h-5.3zM637.8 1075.7h2.5v26.8h-2.5zM649.6 1075.7h3v26.8h-3zM656.9 1075.7h4.5v26.8h-4.5zM664.3 1075.7h2.5v26.8h-2.5zM676.7 1075.7h2v26.8h-2zM681.9 1075.7h2.5v26.8h-2.5zM686.4 1075.7h1.6v26.8h-1.6zM694.6 1075.7h2.6v26.8h-2.6zM699.7 1075.7h2v26.8h-2zM719.6 1075.7h0.7v26.8h-0.7zM573 1102.5h2.3v26.8h-2.3zM582.4 1102.5h2v26.8h-2zM588.4 1102.5h3.3v26.8h-3.3zM613.5 1102.5h1v26.8h-1zM633.8 1102.5h3v26.8h-3zM641.1 1102.5h2v26.8h-2zM647.3 1102.5h2v26.8h-2zM661.9 1102.5h1.6v26.8h-1.6zM672 1102.5h4.6v26.8h-4.6zM682.6 1102.5h7v26.8h-7zM691.6 1102.5h5.5v26.8h-5.5zM705.1 1102.5h2v26.8h-2zM718.7 1156.1h1.6v26.8h-1.6zM568 1182.9h3v26.8h-3zM573 1182.9h2.3v26.8h-2.3zM596 1182.9h9.6v26.8h-9.6zM624.8 1182.9h3.5v26.8h-3.5zM629.3 1182.9h3v26.8h-3zM635.6 1182.9h2v26.8h-2zM642.7 1182.9h1v26.8h-1zM647.2 1182.9h3.5v26.8h-3.5zM687.5 1182.9h2.9v26.8h-2.9zM697.2 1182.9h3v26.8h-3zM705.2 1182.9h3v26.8h-3zM716.1 1182.9h4.2v26.8h-4.2zM572.5 1209.7h1.5v26.8h-1.5zM592.3 1209.7h2.7v26.8h-2.7z" fill="#feeea7"/><path d="M580.6 1048.9h1.3v26.8h-1.3zM598.4 1048.9h2.5v26.8h-2.5zM689.8 1048.9h1.3v26.8h-1.3zM696.6 1048.9h2.5v26.8h-2.5zM712.4 1048.9h3v26.8h-3zM593.9 1075.7h2v26.8h-2zM601.4 1075.7h1.6v26.8h-1.6zM612 1075.7h1.3v26.8h-1.3zM622.3 1075.7h2v26.8h-2zM625.9 1075.7h1v26.8h-1zM636.2 1075.7h1.6v26.8h-1.6zM640.3 1075.7h3v26.8h-3zM644.6 1075.7h3v26.8h-3zM652.6 1075.7h3v26.8h-3zM661.4 1075.7h1.6v26.8h-1.6zM669.3 1075.7h2.5v26.8h-2.5zM680.3 1075.7h1.6v26.8h-1.6zM688 1075.7h6.6v26.8h-6.6zM701.7 1075.7h3v26.8h-3zM712.8 1075.7h2v26.8h-2zM718.3 1075.7h1.3v26.8h-1.3zM578.3 1102.5h1.6v26.8h-1.6zM586.4 1102.5h2v26.8h-2zM595.2 1102.5h0.8v26.8h-0.8zM618 1102.5h8.5v26.8h-8.5zM627.8 1102.5h2.5v26.8h-2.5zM636.8 1102.5h3.3v26.8h-3.3zM643.1 1102.5h3.2v26.8h-3.2zM659.9 1102.5h2v26.8h-2zM669.5 1102.5h2.5v26.8h-2.5zM676.6 1102.5h6v26.8h-6zM697.1 1102.5h2v26.8h-2zM707.1 1102.5h3.5v26.8h-3.5zM627.1 1156.1h3.9v26.8h-3.9zM644.1 1156.1h2v26.8h-2zM648.1 1156.1h1v26.8h-1zM664.4 1156.1h3.5v26.8h-3.5zM679.5 1156.1h3.5v26.8h-3.5zM688.1 1156.1h2.5v26.8h-2.5zM717.7 1156.1h1v26.8h-1zM571 1182.9h2v26.8h-2zM589.6 1182.9h2.9v26.8h-2.9zM620.7 1182.9h1.6v26.8h-1.6zM628.3 1182.9h1v26.8h-1zM641.4 1182.9h1.3v26.8h-1.3zM643.7 1182.9h3.5v26.8h-3.5zM650.7 1182.9h8v26.8h-8zM661.6 1182.9h5.5v26.8h-5.5zM676.9 1182.9h4v26.8h-4zM693.9 1182.9h3.3v26.8h-3.3zM711.5 1182.9h3v26.8h-3z" fill="#fde296"/><path d="M590.4 1048.9h3.5v26.8h-3.5zM640.6 1048.9h13.4v26.8h-13.4zM663.1 1048.9h3.5v26.8h-3.5zM694.1 1048.9h2.5v26.8h-2.5zM718.6 1048.9h1.7v26.8h-1.7zM586.8 1075.7h2v26.8h-2zM592.3 1075.7h1.6v26.8h-1.6zM609 1075.7h3v26.8h-3zM663 1075.7h1.3v26.8h-1.3zM673.4 1075.7h2v26.8h-2zM697.2 1075.7h2.5v26.8h-2.5zM584.4 1102.5h2v26.8h-2zM611 1102.5h2.5v26.8h-2.5zM614.5 1102.5h3.5v26.8h-3.5zM630.3 1102.5h3.5v26.8h-3.5zM640.1 1102.5h1v26.8h-1zM663.5 1102.5h2.5v26.8h-2.5zM711.6 1102.5h3.5v26.8h-3.5zM716.1 1102.5h2v26.8h-2zM588.9 1156.1h1v26.8h-1zM603.5 1156.1h1v26.8h-1zM631 1156.1h1.6v26.8h-1.6zM649.1 1156.1h2.5v26.8h-2.5zM674.4 1156.1h1.6v26.8h-1.6zM700.1 1156.1h1.3v26.8h-1.3zM575.3 1182.9h4.2v26.8h-4.2zM592.5 1182.9h3.5v26.8h-3.5zM632.3 1182.9h2v26.8h-2zM640.1 1182.9h1.3v26.8h-1.3zM667.1 1182.9h1v26.8h-1zM669.1 1182.9h3v26.8h-3zM680.9 1182.9h2v26.8h-2zM589 1209.7h1.3v26.8h-1.3z" fill="#fcd58b"/><path d="M603.8 1048.9h3v26.8h-3zM619 1048.9h14v26.8h-14zM638.6 1048.9h2v26.8h-2zM657.5 1048.9h1.6v26.8h-1.6zM680.7 1048.9h3v26.8h-3zM684.7 1048.9h4.1v26.8h-4.1zM702.1 1048.9h4.8v26.8h-4.8zM710.1 1048.9h2.3v26.8h-2.3zM717 1048.9h1.6v26.8h-1.6zM573.7 1156.1h3v26.8h-3zM581.5 1156.1h1.6v26.8h-1.6zM584.4 1156.1h2v26.8h-2zM597.7 1156.1h1.3v26.8h-1.3zM602.5 1156.1h1v26.8h-1zM606.1 1156.1h4.9v26.8h-4.9zM612 1156.1h3v26.8h-3zM635.1 1156.1h1v26.8h-1zM638.6 1156.1h2.5v26.8h-2.5zM652.9 1156.1h2v26.8h-2zM669.9 1156.1h1.6v26.8h-1.6zM683 1156.1h3.5v26.8h-3.5zM694.1 1156.1h3.5v26.8h-3.5zM715.7 1156.1h2v26.8h-2z" fill="#fab977"/><path d="M568 1075.7h7.8v26.8h-7.8zM577.1 1075.7h4.6v26.8h-4.6zM568 1102.5h3v26.8h-3zM568 1129.3h7v26.8h-7zM576 1129.3h3.9v26.8h-3.9zM581.5 1129.3h1.6v26.8h-1.6zM586.1 1129.3h1.3v26.8h-1.3zM591.5 1129.3h3.8v26.8h-3.8zM597.3 1129.3h2.9v26.8h-2.9zM608.7 1129.3h2.6v26.8h-2.6zM613.3 1129.3h1.3v26.8h-1.3zM617.8 1129.3h1.3v26.8h-1.3zM630.3 1129.3h1.3v26.8h-1.3zM632.6 1129.3h2.3v26.8h-2.3zM638.4 1129.3h4.6v26.8h-4.6zM646.5 1129.3h1.6v26.8h-1.6zM651.6 1129.3h3v26.8h-3zM655.9 1129.3h9v26.8h-9zM669.2 1129.3h3.5v26.8h-3.5zM676.2 1129.3h4.3v26.8h-4.3zM681.8 1129.3h14.5v26.8h-14.5zM699.8 1129.3h1.6v26.8h-1.6zM705 1129.3h1.3v26.8h-1.3zM707.6 1129.3h4v26.8h-4zM714.6 1129.3h3.5v26.8h-3.5zM607.7 1182.9h1.6v26.8h-1.6zM610.9 1182.9h8.1v26.8h-8.1zM571.5 1209.7h1v26.8h-1zM574 1209.7h6.7v26.8h-6.7zM582 1209.7h5.1v26.8h-5.1zM588.1 1209.7h0.9v26.8h-0.9zM595 1209.7h3.5v26.8h-3.5zM601 1209.7h3.5v26.8h-3.5zM607 1209.7h1.6v26.8h-1.6zM610.2 1209.7h4.3v26.8h-4.3zM619.1 1209.7h3.5v26.8h-3.5zM624.9 1209.7h1.3v26.8h-1.3zM627.5 1209.7h6v26.8h-6zM635.5 1209.7h13v26.8h-13zM651.5 1209.7h17.5v26.8h-17.5zM670.6 1209.7h1v26.8h-1zM672.6 1209.7h1.6v26.8h-1.6zM675.2 1209.7h5.5v26.8h-5.5zM683.7 1209.7h7.1v26.8h-7.1zM696.8 1209.7h1.6v26.8h-1.6zM700.9 1209.7h11v26.8h-11zM712.9 1209.7h4v26.8h-4zM718.5 1209.7h1.8v26.8h-1.8zM576.3 1236.5h5v26.8h-5zM582.6 1236.5h2.5v26.8h-2.5zM588.6 1236.5h2v26.8h-2zM595.1 1236.5h3.6v26.8h-3.6zM607.5 1236.5h1.6v26.8h-1.6zM612.1 1236.5h13.5v26.8h-13.5zM631.2 1236.5h5.8v26.8h-5.8zM649.5 1236.5h14.6v26.8h-14.6zM666.6 1236.5h1.6v26.8h-1.6zM670.7 1236.5h6v26.8h-6zM678 1236.5h2.3v26.8h-2.3zM683.3 1236.5h2.5v26.8h-2.5zM688.4 1236.5h2v26.8h-2zM697.5 1236.5h4.5v26.8h-4.5zM703 1236.5h2.5v26.8h-2.5zM711.8 1236.5h5.5v26.8h-5.5zM718.3 1236.5h2v26.8h-2z" fill="#5477b0"/><path d="M575.8 1075.7h1.3v26.8h-1.3zM589.9 1129.3h1.6v26.8h-1.6zM614.6 1129.3h1.6v26.8h-1.6zM622.1 1129.3h2.5v26.8h-2.5zM626.2 1129.3h1.6v26.8h-1.6zM631.6 1129.3h1v26.8h-1zM568 1156.1h2v26.8h-2zM579.5 1182.9h3v26.8h-3zM614.5 1209.7h1.6v26.8h-1.6zM569.6 1236.5h3.5v26.8h-3.5zM628.6 1236.5h1v26.8h-1zM640 1236.5h3.5v26.8h-3.5zM668.2 1236.5h2.5v26.8h-2.5zM680.3 1236.5h3v26.8h-3z" fill="#6486ba"/><path d="M619.3 1075.7h3v26.8h-3zM626.9 1075.7h2v26.8h-2zM643.3 1075.7h1.3v26.8h-1.3zM675.4 1075.7h1.3v26.8h-1.3zM678.7 1075.7h1.6v26.8h-1.6zM579.9 1102.5h2.5v26.8h-2.5zM646.3 1102.5h1v26.8h-1zM650.9 1102.5h3.5v26.8h-3.5zM689.6 1102.5h2v26.8h-2zM699.1 1102.5h6v26.8h-6zM715.1 1102.5h1v26.8h-1zM718.1 1102.5h2.2v26.8h-2.2zM593.4 1156.1h3v26.8h-3zM622.3 1182.9h2.5v26.8h-2.5zM634.3 1182.9h1.3v26.8h-1.3zM637.6 1182.9h2.5v26.8h-2.5zM658.7 1182.9h2.9v26.8h-2.9zM685.9 1182.9h1.6v26.8h-1.6zM690.4 1182.9h3.5v26.8h-3.5zM700.2 1182.9h2v26.8h-2zM708.2 1182.9h3.3v26.8h-3.3zM590.3 1209.7h2v26.8h-2z" fill="#fefbb8"/><path d="M624.3 1075.7h1.6v26.8h-1.6zM666.8 1075.7h2.5v26.8h-2.5zM684.4 1075.7h2v26.8h-2zM672.1 1182.9h1.3v26.8h-1.3zM702.2 1182.9h3v26.8h-3z" fill="#f5fad7"/><path d="M634.2 1075.7h2v26.8h-2zM647.6 1075.7h2v26.8h-2zM671.8 1075.7h1.6v26.8h-1.6zM704.7 1075.7h2.6v26.8h-2.6zM709.3 1075.7h3.5v26.8h-3.5zM714.8 1075.7h3.5v26.8h-3.5zM571 1102.5h2v26.8h-2zM575.3 1102.5h3v26.8h-3zM591.7 1102.5h3.5v26.8h-3.5zM657.9 1102.5h2v26.8h-2zM710.6 1102.5h1v26.8h-1zM621 1156.1h2.6v26.8h-2.6zM605.6 1182.9h2.1v26.8h-2.1zM668.1 1182.9h1v26.8h-1zM682.9 1182.9h3v26.8h-3zM714.5 1182.9h1.6v26.8h-1.6z" fill="#fafac8"/><path d="M596 1102.5h2.5v26.8h-2.5zM583.5 1182.9h1.3v26.8h-1.3z" fill="#bbd6e4"/><path d="M598.5 1102.5h3.5v26.8h-3.5zM623.6 1156.1h3.5v26.8h-3.5z" fill="#e6f4f0"/><path d="M602 1102.5h2.5v26.8h-2.5zM643.5 1236.5h2.6v26.8h-2.6z" fill="#cde4ec"/><path d="M604.5 1102.5h3.5v26.8h-3.5zM584.8 1182.9h3.5v26.8h-3.5zM637 1236.5h1v26.8h-1z" fill="#80a2c9"/><path d="M608 1102.5h3v26.8h-3zM582.5 1182.9h1v26.8h-1zM588.3 1182.9h1.3v26.8h-1.3z" fill="#daecee"/><path d="M575 1129.3h1v26.8h-1zM579.9 1129.3h1.6v26.8h-1.6zM583.1 1129.3h3v26.8h-3zM587.4 1129.3h2.5v26.8h-2.5zM595.3 1129.3h2v26.8h-2zM600.2 1129.3h8.5v26.8h-8.5zM611.3 1129.3h2v26.8h-2zM616.2 1129.3h1.6v26.8h-1.6zM619.1 1129.3h3v26.8h-3zM624.6 1129.3h1.6v26.8h-1.6zM627.8 1129.3h2.5v26.8h-2.5zM634.9 1129.3h3.5v26.8h-3.5zM643 1129.3h3.5v26.8h-3.5zM648.1 1129.3h3.5v26.8h-3.5zM654.6 1129.3h1.3v26.8h-1.3zM664.9 1129.3h4.3v26.8h-4.3zM672.7 1129.3h3.5v26.8h-3.5zM680.5 1129.3h1.3v26.8h-1.3zM696.3 1129.3h3.5v26.8h-3.5zM701.4 1129.3h3.6v26.8h-3.6zM706.3 1129.3h1.3v26.8h-1.3zM711.6 1129.3h3v26.8h-3zM718.1 1129.3h2.2v26.8h-2.2zM609.3 1182.9h1.6v26.8h-1.6zM619 1182.9h1.7v26.8h-1.7zM568 1209.7h3.5v26.8h-3.5zM580.7 1209.7h1.3v26.8h-1.3zM587.1 1209.7h1v26.8h-1zM598.5 1209.7h2.5v26.8h-2.5zM604.5 1209.7h2.5v26.8h-2.5zM608.6 1209.7h1.6v26.8h-1.6zM616.1 1209.7h3v26.8h-3zM622.6 1209.7h1v26.8h-1zM626.2 1209.7h1.3v26.8h-1.3zM633.5 1209.7h2v26.8h-2zM648.5 1209.7h3v26.8h-3zM669 1209.7h1.6v26.8h-1.6zM671.6 1209.7h1v26.8h-1zM674.2 1209.7h1v26.8h-1zM680.7 1209.7h3v26.8h-3zM690.8 1209.7h3.5v26.8h-3.5zM698.4 1209.7h2.5v26.8h-2.5zM711.9 1209.7h1v26.8h-1zM716.9 1209.7h1.6v26.8h-1.6zM568 1236.5h1.6v26.8h-1.6zM573.1 1236.5h3.2v26.8h-3.2zM581.3 1236.5h1.3v26.8h-1.3zM585.1 1236.5h3.5v26.8h-3.5zM590.6 1236.5h4.5v26.8h-4.5zM598.7 1236.5h8.8v26.8h-8.8zM609.1 1236.5h3v26.8h-3zM625.6 1236.5h3v26.8h-3zM629.6 1236.5h1.6v26.8h-1.6zM664.1 1236.5h2.5v26.8h-2.5zM676.7 1236.5h1.3v26.8h-1.3zM685.8 1236.5h2.6v26.8h-2.6zM690.4 1236.5h7.1v26.8h-7.1zM702 1236.5h1v26.8h-1zM705.5 1236.5h6.3v26.8h-6.3zM717.3 1236.5h1v26.8h-1z" fill="#5c7fb5"/><path d="M570 1156.1h3.7v26.8h-3.7zM638 1236.5h2v26.8h-2z" fill="#a9c8dc"/><path d="M671.5 1156.1h1.6v26.8h-1.6z" fill="#ee7754"/><path d="M623.6 1209.7h1.3v26.8h-1.3zM694.3 1209.7h2.5v26.8h-2.5z" fill="#7396c3"/><path d="M646.1 1236.5h3.4v26.8h-3.4z" fill="#eef7e4"/></g>
<rect x="568" y="1029.8" width="152.3" height="17.9" fill="#4a7fb0"/>
<path d="M568.6 1029.5L568.6 996.7H569.5L569.5 999.7H570.4L570.4 1007.8H571.3L571.3 1003.1H572.2L572.2 1005.4H573.1L573.1 1005.3H574L574 1009.7H574.9L574.9 1010H575.8L575.8 1010.9H576.7L576.7 1013.2H577.6L577.6 1014H578.5L578.5 1016.7H579.4L579.4 1019.9H580.4L580.4 1019.9H581.3L581.3 1020.3H582.3L582.3 1017.8H583.2L583.2 1020.6H584.1L584.1 1018H585.1L585.1 1018.3H586L586 1017.8H586.9L586.9 1017.9H587.6L587.6 1018.7H588.8L588.8 1016.6H590.2L590.2 1016.4H591.4L591.4 1020.1H591.8L591.8 1016.8H593.1L593.1 1017.5H594.5L594.5 1017.2H595.6L595.6 1018.1H596.8L596.8 1018.1H597.9L597.9 1017.2H599L599 1020.4H600.7L600.7 1017.2H601.3L601.3 1017.1H602.4L602.4 1017.2H603.4L603.4 1016.5H604.4L604.4 1017.5H605.5L605.5 1019.3H606.5L606.5 1020.8H607.4L607.4 1018.9H608.4L608.4 1019.8H609.3L609.3 1018.8H610.3L610.3 1015.6H611.6L611.6 1018.4H612.8L612.8 1017.9H614L614 1018.3H615.2L615.2 1017.3H616.4L616.4 1018.4H617.6L617.6 1020.5H619L619 1016.4H619.6L619.6 1019.7H620.3L620.3 1018.7H621.3L621.3 1017.6H622.2L622.2 1017.5H623.1L623.1 1021.4H624.1L624.1 1018.9H625.1L625.1 1015.5H626.1L626.1 1017H627.2L627.2 1019.4H628.4L628.4 1022.2H629.6L629.6 1019.5H630.9L630.9 1017.1H632.2L632.2 1017.1H633.4L633.4 1017.8H634.6L634.6 1018.6H635.8L635.8 1021H636.8L636.8 1019.7H637.7L637.7 1020.3H638.6L638.6 1019.7H639.5L639.5 1019H640.4L640.4 1016.9H641.5L641.5 1017.6H642.5L642.5 1017.7H643.6L643.6 1018.7H644.7L644.7 1018.7H645.8L645.8 1019.5H646.8L646.8 1018.5H647.7L647.7 1018.5H648.7L648.7 1017.8H649.6L649.6 1017.7H650.6L650.6 1018.5H651.5L651.5 1018.6H652.1L652.1 1016.3H653.2L653.2 1016.8H654.2L654.2 1017.9H655.4L655.4 1018.6H656.6L656.6 1016.2H657.8L657.8 1020.5H658.8L658.8 1020.3H659.8L659.8 1020.8H660.7L660.7 1021.2H661.7L661.7 1023.5H662.6L662.6 1022.5H663.6L663.6 1022.5H664.5L664.5 1022.4H665.5L665.5 1022.5H666.4L666.4 1022.4H667.4L667.4 1021.5H668.3L668.3 1022.1H669.3L669.3 1020.2H670.3L670.3 1017.6H671.4L671.4 1017.1H672.4L672.4 1018.5H673.5L673.5 1017.4H674.6L674.6 1017.1H675.5L675.5 1015.8H676.5L676.5 1016.4H677.4L677.4 1015.9H678.3L678.3 1016H679.3L679.3 1016.8H680.4L680.4 1017.7H681.5L681.5 1017H682.6L682.6 1018.1H683.7L683.7 1021.8H684L684 1019.2H685.3L685.3 1019.9H686.3L686.3 1020.7H687.3L687.3 1017.6H688.4L688.4 1021.5H689.4L689.4 1024.3H690.5L690.5 1022H691.6L691.6 1021.7H692.7L692.7 1021.5H693.8L693.8 1020.5H694.7L694.7 1020.9H695.7L695.7 1020.9H696.7L696.7 1021.5H697.7L697.7 1020.9H698.8L698.8 1020.9H699.8L699.8 1020.1H700.9L700.9 1019.9H701.9L701.9 1020.7H703L703 1018.9H703.9L703.9 1019.2H704.9L704.9 1017.1H705.8L705.8 1018.6H706.8L706.8 1017.6H707.7L707.7 1017.4H708.7L708.7 1020.9H709.6L709.6 1019.4H710.5L710.5 1018.1H711.4L711.4 1020.7H712.4L712.4 1020.9H713.3L713.3 1018.3H714.2L714.2 1016.6H715.3L715.3 1022.2H716.3L716.3 1022.4H717.2L717.2 1020.2H718.2L718.2 1019.8H719.7L719.7 1029.5Z" fill="#0d0d0a"/><path d="M580.9 1019.7V1013.3H584.6V1017.7M587.3 1015.5V1004.4H588.2V1015.5M582.7 1013.3V1002.1H587.8V1004.4M589.5 1016.3V1013H590.8V1015.8M591.6 1018.9V1014.3H592.4V1015.8M590.2 1013V1005.7H592V1014.3M591.1 1005.7V1000.2H593.8V1015.5M585.2 1002.1V996H592.5V1000.2M599.9 1019.2V1010.8H601V1015.5M596.8 1017.1V1008.3H600.4V1010.8M602.9 1016.2V1008.2H605V1017.1M598.6 1008.3V1003H603.9V1008.2M607.9 1018.2V1009.2H611V1015.5M613.4 1017.8V1009.9H616.4V1017.3M618.3 1020V1014.9H619.3V1015.9M618.8 1014.9V1012H619.9V1019.4M614.9 1009.9V1004.1H619.4V1012M609.4 1009.2V999.9H617.2V1004.1M622.2 1016.9V1011.7H624.6V1015.8M625.6 1015.5V1011.1H626.7V1015.5M623.4 1011.7V1007.7H626.1V1011.1M627.8 1017.7V1011.1H629.6V1017.7M624.8 1007.7V1004.3H628.7V1011.1M631.5 1015.5V1009.6H634V1016.8M636.3 1020.4V1014.5H638.6V1018.9M642 1016.5V1014.8H644.7V1017.8M637.5 1014.5V1008.5H643.4V1014.8M632.8 1009.6V999.9H640.4V1008.5M646.8 1017.3V1015.4H649.6V1017.1M651.8 1016.9V1008.9H653.2V1015.7M648.2 1015.4V1006.6H652.5V1008.9M655.4 1017V1014H657.2V1015.5M660.2 1020.3V1014.7H666V1021.3M656.3 1014V1012.1H663.1V1014.7M659.7 1012.1V1006.6H671.9V1016.2M676.9 1015.7V1011.2H681.5V1016.4M683.9 1019.6V1012.6H684.7V1018.6M686.3 1019.9V1012.1H687.8V1015.5M684.3 1012.6V1010.5H687V1012.1M679.2 1011.2V1006.4H685.6V1010.5M691.1 1021.4V1015H695.7V1020.3M700.3 1019.5V1011.7H705.8V1017M716.7 1018.9V1013.8H718.9V1019.2M714.7 1015.5V1006.7H717.8V1013.8M711.4 1017.7V1003.8H716.3V1006.7M703.1 1011.7V1001.1H713.9V1003.8M693.4 1015V997.5H708.5V1001.1M682.4 1006.4V994.6H700.9V997.5M665.8 1006.6V991.8H691.7V994.6M650.3 1006.6V987.8H678.7V991.8M636.6 999.9V982.2H664.5V987.8M626.7 1004.3V979.5H650.6V982.2M613.3 999.9V975.2H638.6V979.5M601.3 1003V971.9H626V975.2M588.8 996V964.7H613.6V971.9M571.8 998V961.3H601.2V964.7M573.6 1006.3V999.7M574.5 1010.7V996.8M575.4 1011V995.2M577.2 1014.2V1010.5M578.1 1015V1009.6M579.9 1020.9V1015M580.9 1020.9V1014.4M583.7 1021.6V1015.5M585.5 1019.3V1016.9M588.2 1019.7V1007.9M593.8 1018.5V1013.5M596.2 1019.1V1016.1M602.9 1018.2V1015.1M607.9 1019.9V1014M615.8 1018.3V1010.3M617 1019.4V1015.6M618.3 1021.5V1018.5M619.3 1017.4V1012.9M619.9 1020.7V1013M634 1018.8V1012.4M636.3 1022V1016.9M638.2 1021.3V1017.7M643.1 1018.7V1007.6M649.2 1018.8V1013.2M651 1019.5V1013.1M652.7 1017.3V1011.4M656 1019.6V1009.4M658.3 1021.5V1018.1M659.3 1021.3V1019.6M660.2 1021.8V1014.8M665 1023.4V1020.3M667.9 1022.5V1018.6M668.8 1023.1V1020.7M669.8 1021.2V1015.3M675 1018.1V1014.7M676.9 1017.4V1011.8M677.9 1016.9V1012.9M678.8 1017V1009.9M688.9 1022.5V1019.1M692.1 1022.7V1018.7M702.5 1021.7V1014.2M706.3 1019.6V1010.9M711 1019.1V1013.9M712.8 1021.9V1011.4M717.7 1021.2V1015.3" fill="none" stroke="#0d0d0a" stroke-width="1.55"/>
<text x="722.3" y="1021.6" font-size="19">Percentage</text>
<text x="727.5" y="1042.4" font-size="19" text-anchor="middle">0</text>
<text x="756.1" y="1042.4" font-size="19" text-anchor="middle">0.4</text>
<text x="784" y="1042.4" font-size="19" text-anchor="middle">0.8</text>
<path d="M728.1 1048.8H798M728.1 1048.8v-3.8M742.1 1048.8v-3.8M756.1 1048.8v-3.8M770 1048.8v-3.8M784 1048.8v-3.8M798 1048.8v-3.8" stroke="#111" stroke-width="1.3" fill="none"/>
<g fill="#357f36" stroke="#0a0a0a" stroke-width="1.4"><rect x="728.1" y="1054" width="68.5" height="16.7"/><rect x="728.1" y="1080.8" width="63.3" height="16.7"/><rect x="728.1" y="1107.6" width="61.7" height="16.7"/><rect x="728.1" y="1161.2" width="66" height="16.7"/><rect x="728.1" y="1188" width="59.1" height="16.7"/><rect x="728.1" y="1214.8" width="4.2" height="16.7"/></g>
<path d="M729 1134.9v15.7M729 1242.1v15.7" stroke="#0a0a0a" stroke-width="2"/>
<g shape-rendering="crispEdges"><path d="M833 1048.9h2v26.8h-2zM838.6 1048.9h3.5v26.8h-3.5zM844.7 1048.9h5v26.8h-5zM900.1 1048.9h1v26.8h-1zM847.1 1075.7h1.6v26.8h-1.6zM863.4 1075.7h2.5v26.8h-2.5zM872.4 1075.7h1v26.8h-1zM895.9 1075.7h6.5v26.8h-6.5zM909.7 1075.7h5.5v26.8h-5.5zM920.6 1075.7h3v26.8h-3zM924.6 1075.7h1v26.8h-1zM932.7 1075.7h2v26.8h-2zM943.4 1075.7h3v26.8h-3zM838 1102.5h2v26.8h-2zM843 1102.5h1v26.8h-1zM847.5 1102.5h7v26.8h-7zM856.1 1102.5h2.5v26.8h-2.5zM876 1102.5h4v26.8h-4zM910.3 1102.5h2v26.8h-2zM932.3 1102.5h2.5v26.8h-2.5zM936.1 1102.5h3v26.8h-3zM941.1 1102.5h4.3v26.8h-4.3zM876.4 1129.3h3.5v26.8h-3.5zM881.9 1129.3h4.1v26.8h-4.1zM896.3 1129.3h12.8v26.8h-12.8zM926 1129.3h1v26.8h-1zM945.4 1129.3h1v26.8h-1zM865 1209.7h1.6v26.8h-1.6z" fill="#fde296"/><path d="M835 1048.9h3.6v26.8h-3.6zM849.7 1048.9h1v26.8h-1zM881.4 1048.9h4.1v26.8h-4.1zM892 1048.9h1.3v26.8h-1.3zM898.8 1048.9h1.3v26.8h-1.3zM904.7 1048.9h3v26.8h-3zM910 1048.9h3.5v26.8h-3.5zM922.8 1048.9h3v26.8h-3zM930.4 1048.9h3v26.8h-3z" fill="#f9aa6e"/><path d="M842.1 1048.9h1v26.8h-1zM854.3 1048.9h4v26.8h-4zM918 1048.9h4.8v26.8h-4.8zM925.8 1048.9h1.6v26.8h-1.6zM935 1048.9h4.8v26.8h-4.8zM942.3 1048.9h3v26.8h-3zM836.6 1075.7h3.5v26.8h-3.5zM865.9 1075.7h2v26.8h-2zM919 1075.7h1.6v26.8h-1.6zM931.7 1075.7h1v26.8h-1zM924 1102.5h3.5v26.8h-3.5zM951.4 1102.5h2.5v26.8h-2.5z" fill="#fbc880"/><path d="M843.1 1048.9h1.6v26.8h-1.6zM868.8 1048.9h1.6v26.8h-1.6zM891 1048.9h1v26.8h-1zM907.7 1048.9h1v26.8h-1zM835.3 1075.7h1.3v26.8h-1.3zM840.1 1075.7h7v26.8h-7zM853.3 1075.7h5v26.8h-5zM861.8 1075.7h1.6v26.8h-1.6zM873.4 1075.7h2.5v26.8h-2.5zM880 1075.7h2v26.8h-2zM886.5 1075.7h3v26.8h-3zM890.8 1075.7h1.6v26.8h-1.6zM902.4 1075.7h3.8v26.8h-3.8zM925.6 1075.7h6.1v26.8h-6.1zM934.7 1075.7h2v26.8h-2zM942.4 1075.7h1v26.8h-1zM946.4 1075.7h4.3v26.8h-4.3zM954.5 1075.7h2v26.8h-2zM854.5 1102.5h1.6v26.8h-1.6zM858.6 1102.5h3v26.8h-3zM864.9 1102.5h2.5v26.8h-2.5zM880 1102.5h2v26.8h-2zM895.2 1102.5h3.5v26.8h-3.5zM909 1102.5h1.3v26.8h-1.3zM915.3 1102.5h2.5v26.8h-2.5zM927.5 1102.5h1.3v26.8h-1.3zM934.8 1102.5h1.3v26.8h-1.3zM940.1 1102.5h1v26.8h-1zM948.9 1102.5h2.5v26.8h-2.5zM953.9 1102.5h2.6v26.8h-2.6zM870.7 1129.3h2.5v26.8h-2.5zM874.8 1129.3h1.6v26.8h-1.6zM891.8 1129.3h4.5v26.8h-4.5zM929 1129.3h2v26.8h-2zM933.9 1129.3h2v26.8h-2zM940.4 1129.3h2v26.8h-2zM949.4 1129.3h3v26.8h-3zM953.7 1129.3h2.8v26.8h-2.8zM866.6 1209.7h2.4v26.8h-2.4z" fill="#feeea7"/><path d="M850.7 1048.9h2v26.8h-2zM858.3 1048.9h3.5v26.8h-3.5zM876.3 1048.9h1.6v26.8h-1.6zM885.5 1048.9h2v26.8h-2zM913.5 1048.9h2v26.8h-2zM927.4 1048.9h3v26.8h-3zM950.8 1048.9h3.5v26.8h-3.5zM858.3 1075.7h3.5v26.8h-3.5zM867.9 1075.7h4.5v26.8h-4.5zM875.9 1075.7h4.1v26.8h-4.1zM889.5 1075.7h1.3v26.8h-1.3zM906.2 1075.7h3.5v26.8h-3.5zM936.7 1075.7h1.6v26.8h-1.6zM862.9 1102.5h2v26.8h-2zM882 1102.5h3.5v26.8h-3.5zM891 1102.5h1.3v26.8h-1.3zM893.6 1102.5h1.6v26.8h-1.6zM901.7 1102.5h2v26.8h-2zM908 1102.5h1v26.8h-1zM917.8 1102.5h4.6v26.8h-4.6zM928.8 1102.5h3.5v26.8h-3.5zM867.7 1129.3h3v26.8h-3zM909.1 1129.3h1.6v26.8h-1.6zM931 1129.3h2.9v26.8h-2.9zM935.9 1129.3h4.5v26.8h-4.5zM942.4 1129.3h3v26.8h-3zM952.4 1129.3h1.3v26.8h-1.3z" fill="#fcd58b"/><path d="M852.7 1048.9h1.6v26.8h-1.6zM861.8 1048.9h3.5v26.8h-3.5zM866.3 1048.9h2.5v26.8h-2.5zM870.4 1048.9h1.3v26.8h-1.3zM872.7 1048.9h3.6v26.8h-3.6zM877.9 1048.9h3.5v26.8h-3.5zM887.5 1048.9h3.5v26.8h-3.5zM895.8 1048.9h3v26.8h-3zM901.1 1048.9h3.6v26.8h-3.6zM933.4 1048.9h1.6v26.8h-1.6zM945.3 1048.9h3v26.8h-3zM954.3 1048.9h2.2v26.8h-2.2zM887.5 1102.5h3.5v26.8h-3.5zM946.4 1129.3h3v26.8h-3z" fill="#fab977"/><path d="M865.3 1048.9h1v26.8h-1zM908.7 1048.9h1.3v26.8h-1.3zM948.3 1048.9h2.5v26.8h-2.5z" fill="#f79a66"/><path d="M871.7 1048.9h1v26.8h-1zM893.3 1048.9h2.5v26.8h-2.5zM915.5 1048.9h2.5v26.8h-2.5zM939.8 1048.9h2.5v26.8h-2.5z" fill="#f58a5e"/><path d="M833 1075.7h2.3v26.8h-2.3zM850.3 1075.7h3v26.8h-3zM884 1075.7h2.5v26.8h-2.5zM892.4 1075.7h3.5v26.8h-3.5zM915.2 1075.7h3.8v26.8h-3.8zM938.3 1075.7h4.1v26.8h-4.1zM950.7 1075.7h3.8v26.8h-3.8zM844 1102.5h3.5v26.8h-3.5zM861.6 1102.5h1.3v26.8h-1.3zM867.4 1102.5h2.6v26.8h-2.6zM892.3 1102.5h1.3v26.8h-1.3zM898.7 1102.5h3v26.8h-3zM903.7 1102.5h4.3v26.8h-4.3zM912.3 1102.5h3v26.8h-3zM922.4 1102.5h1.6v26.8h-1.6zM939.1 1102.5h1v26.8h-1zM945.4 1102.5h3.5v26.8h-3.5zM864.7 1129.3h3v26.8h-3zM873.2 1129.3h1.6v26.8h-1.6zM879.9 1129.3h2v26.8h-2zM886 1129.3h5.8v26.8h-5.8zM927 1129.3h2v26.8h-2z" fill="#fefbb8"/><path d="M848.7 1075.7h1.6v26.8h-1.6zM923.6 1075.7h1v26.8h-1zM840 1102.5h3v26.8h-3zM885.5 1102.5h2v26.8h-2zM910.7 1129.3h0.9v26.8h-0.9zM924.4 1129.3h1.6v26.8h-1.6z" fill="#fafac8"/><path d="M882 1075.7h2v26.8h-2zM911.6 1129.3h6v26.8h-6zM923.1 1129.3h1.3v26.8h-1.3z" fill="#eef7e4"/><path d="M833 1102.5h5v26.8h-5zM870 1102.5h1v26.8h-1zM835 1129.3h13.6v26.8h-13.6zM854.5 1129.3h4.2v26.8h-4.2zM861.6 1129.3h3.1v26.8h-3.1zM833 1156.1h8.5v26.8h-8.5zM843.1 1156.1h3.5v26.8h-3.5zM847.9 1156.1h1.6v26.8h-1.6zM853 1156.1h22.5v26.8h-22.5zM876.8 1156.1h8.1v26.8h-8.1zM888.4 1156.1h1.3v26.8h-1.3zM891.3 1156.1h2.6v26.8h-2.6zM896.4 1156.1h11.2v26.8h-11.2zM908.6 1156.1h8v26.8h-8zM922.1 1156.1h4.2v26.8h-4.2zM927.9 1156.1h9.5v26.8h-9.5zM940.4 1156.1h3.5v26.8h-3.5zM945.2 1156.1h1.3v26.8h-1.3zM947.5 1156.1h9v26.8h-9zM833 1182.9h1v26.8h-1zM835 1182.9h1.3v26.8h-1.3zM838.9 1182.9h2.5v26.8h-2.5zM847.5 1182.9h3v26.8h-3zM852.1 1182.9h3v26.8h-3zM857.6 1182.9h4.5v26.8h-4.5zM868.9 1182.9h8.3v26.8h-8.3zM878.8 1182.9h3.2v26.8h-3.2zM888 1182.9h3.5v26.8h-3.5zM896.3 1182.9h2.5v26.8h-2.5zM905.3 1182.9h4v26.8h-4zM912.3 1182.9h2.6v26.8h-2.6zM917.9 1182.9h3.5v26.8h-3.5zM924.4 1182.9h1v26.8h-1zM927 1182.9h2v26.8h-2zM931 1182.9h10.8v26.8h-10.8zM945.3 1182.9h1.3v26.8h-1.3zM947.6 1182.9h2v26.8h-2zM833 1209.7h2v26.8h-2zM837 1209.7h12.4v26.8h-12.4zM853.9 1209.7h7.5v26.8h-7.5zM863.9 1209.7h1.1v26.8h-1.1zM869 1209.7h2v26.8h-2zM875 1209.7h3.5v26.8h-3.5zM882 1209.7h1v26.8h-1zM886 1209.7h28.5v26.8h-28.5zM916.1 1209.7h3.5v26.8h-3.5zM923.1 1209.7h3v26.8h-3zM936.4 1209.7h5.1v26.8h-5.1zM946.3 1209.7h1.6v26.8h-1.6zM952.9 1209.7h2v26.8h-2zM833 1236.5h7.8v26.8h-7.8zM842.4 1236.5h3v26.8h-3zM848.4 1236.5h6v26.8h-6zM857.9 1236.5h1.3v26.8h-1.3zM865.7 1236.5h1.6v26.8h-1.6zM870.3 1236.5h8.6v26.8h-8.6zM884 1236.5h2.5v26.8h-2.5zM891.5 1236.5h1.3v26.8h-1.3zM896.3 1236.5h3.5v26.8h-3.5zM902.8 1236.5h5.5v26.8h-5.5zM915.3 1236.5h9.5v26.8h-9.5zM926.1 1236.5h1.6v26.8h-1.6zM929.7 1236.5h3v26.8h-3zM938.8 1236.5h1.6v26.8h-1.6zM944.4 1236.5h3.5v26.8h-3.5zM949.2 1236.5h3.5v26.8h-3.5zM954.3 1236.5h2.2v26.8h-2.2z" fill="#5477b0"/><path d="M871 1102.5h1.6v26.8h-1.6zM833 1129.3h2v26.8h-2zM848.6 1129.3h2.9v26.8h-2.9zM858.7 1129.3h2.9v26.8h-2.9zM835 1209.7h2v26.8h-2zM849.4 1209.7h4.5v26.8h-4.5zM861.4 1209.7h2.5v26.8h-2.5zM871 1209.7h4v26.8h-4zM878.5 1209.7h3.5v26.8h-3.5zM883 1209.7h3v26.8h-3zM914.5 1209.7h1.6v26.8h-1.6zM926.1 1209.7h3v26.8h-3zM930.4 1209.7h6v26.8h-6zM941.5 1209.7h1.3v26.8h-1.3zM947.9 1209.7h5v26.8h-5zM954.9 1209.7h1.6v26.8h-1.6zM840.8 1236.5h1.6v26.8h-1.6zM845.4 1236.5h3v26.8h-3zM854.4 1236.5h3.5v26.8h-3.5zM859.2 1236.5h3.5v26.8h-3.5zM863.7 1236.5h2v26.8h-2zM878.9 1236.5h5.1v26.8h-5.1zM886.5 1236.5h5v26.8h-5zM899.8 1236.5h3v26.8h-3zM908.3 1236.5h7v26.8h-7zM924.8 1236.5h1.3v26.8h-1.3zM927.7 1236.5h2v26.8h-2zM932.7 1236.5h4.8v26.8h-4.8zM940.4 1236.5h4v26.8h-4zM947.9 1236.5h1.3v26.8h-1.3zM952.7 1236.5h1.6v26.8h-1.6z" fill="#5c7fb5"/><path d="M872.6 1102.5h3.4v26.8h-3.4z" fill="#daecee"/><path d="M851.5 1129.3h3v26.8h-3zM846.6 1156.1h1.3v26.8h-1.3zM849.5 1156.1h3.5v26.8h-3.5zM875.5 1156.1h1.3v26.8h-1.3zM889.7 1156.1h1.6v26.8h-1.6zM893.9 1156.1h2.5v26.8h-2.5zM907.6 1156.1h1v26.8h-1zM920.1 1156.1h2v26.8h-2zM926.3 1156.1h1.6v26.8h-1.6zM837.3 1182.9h1.6v26.8h-1.6zM844 1182.9h3.5v26.8h-3.5zM855.1 1182.9h2.5v26.8h-2.5zM862.1 1182.9h6.8v26.8h-6.8zM882 1182.9h6v26.8h-6zM892.8 1182.9h3.5v26.8h-3.5zM902.3 1182.9h3v26.8h-3zM909.3 1182.9h3v26.8h-3zM914.9 1182.9h3v26.8h-3zM921.4 1182.9h3v26.8h-3zM925.4 1182.9h1.6v26.8h-1.6zM929 1182.9h2v26.8h-2zM941.8 1182.9h3.5v26.8h-3.5zM946.6 1182.9h1v26.8h-1zM949.6 1182.9h3v26.8h-3zM953.9 1182.9h2.6v26.8h-2.6zM919.6 1209.7h3.5v26.8h-3.5zM929.1 1209.7h1.3v26.8h-1.3zM942.8 1209.7h3.5v26.8h-3.5zM867.3 1236.5h3v26.8h-3zM892.8 1236.5h3.5v26.8h-3.5zM937.5 1236.5h1.3v26.8h-1.3z" fill="#6486ba"/><path d="M917.6 1129.3h5.5v26.8h-5.5z" fill="#f5fad7"/><path d="M841.5 1156.1h1.6v26.8h-1.6zM916.6 1156.1h1v26.8h-1zM842.4 1182.9h1.6v26.8h-1.6z" fill="#9cbcd6"/><path d="M884.9 1156.1h3.5v26.8h-3.5zM917.6 1156.1h2.5v26.8h-2.5zM937.4 1156.1h3v26.8h-3zM946.5 1156.1h1v26.8h-1zM834 1182.9h1v26.8h-1zM841.4 1182.9h1v26.8h-1zM850.5 1182.9h1.6v26.8h-1.6zM877.2 1182.9h1.6v26.8h-1.6zM891.5 1182.9h1.3v26.8h-1.3zM898.8 1182.9h3.5v26.8h-3.5zM952.6 1182.9h1.3v26.8h-1.3zM862.7 1236.5h1v26.8h-1z" fill="#7396c3"/><path d="M943.9 1156.1h1.3v26.8h-1.3z" fill="#8eafd0"/><path d="M836.3 1182.9h1v26.8h-1z" fill="#cde4ec"/></g>
<rect x="833" y="1029.8" width="123.5" height="17.9" fill="#f2e45a"/>
<path d="M833.6 1029.5L833.6 1001.2H834.6L834.6 1002.1H835.5L835.5 1006.5H836.5L836.5 1007.4H837.4L837.4 1010.8H838.4L838.4 1011.6H839.3L839.3 1013.7H840.3L840.3 1015.2H841.7L841.7 1016.5H842.1L842.1 1019.1H843.3L843.3 1020.5H843.7L843.7 1016.7H845.1L845.1 1016.7H846L846 1019.2H847.1L847.1 1017.4H848.3L848.3 1018.9H849.7L849.7 1015.6H850.7L850.7 1018.1H851.6L851.6 1018.3H852.6L852.6 1017.4H853.6L853.6 1018.3H854.9L854.9 1015.1H855.7L855.7 1015.9H856.5L856.5 1017H857.5L857.5 1017.5H858.7L858.7 1022.7H859.6L859.6 1020.2H860.5L860.5 1016.5H861.6L861.6 1017H862.6L862.6 1017.4H864.4L864.4 1017.7H866L866 1019.7H867.5L867.5 1020.8H868.5L868.5 1019H869.5L869.5 1020.2H870.5L870.5 1016.9H871.4L871.4 1018.4H872.4L872.4 1017.8H873.4L873.4 1016.4H874.1L874.1 1019.7H874.7L874.7 1019H876.1L876.1 1016.1H877.1L877.1 1016.4H878L878 1018.1H879L879 1016.7H880L880 1015.5H881L881 1021.8H882.1L882.1 1022.2H883.1L883.1 1020.9H884.4L884.4 1019.3H885.8L885.8 1019.5H886.8L886.8 1020.7H887.8L887.8 1015.6H889.3L889.3 1019.5H890L890 1014.5H891.1L891.1 1016.8H892L892 1018.1H893L893 1017.4H894L894 1018.6H895L895 1018H896L896 1018H897L897 1016.9H898.1L898.1 1018.1H899.2L899.2 1021H900.3L900.3 1019H901.4L901.4 1019.5H902.6L902.6 1020.5H903.2L903.2 1015H903.9L903.9 1016.6H904.9L904.9 1017.7H905.9L905.9 1017H906.4L906.4 1021.3H907.9L907.9 1019.2H909.5L909.5 1016H910.6L910.6 1018.5H911.7L911.7 1018.6H912.8L912.8 1017.9H913.8L913.8 1017H914.8L914.8 1016.4H915.7L915.7 1016.5H916.7L916.7 1016.6H917.6L917.6 1016.1H918.6L918.6 1019.7H919.5L919.5 1019.5H920.4L920.4 1017.2H921.3L921.3 1016.1H922.2L922.2 1016.6H923.1L923.1 1017.6H924L924 1021.2H925.3L925.3 1021.4H926.5L926.5 1019.6H927.3L927.3 1021.1H928.5L928.5 1020.4H929.8L929.8 1016.2H930.7L930.7 1015.9H931.6L931.6 1017.9H932.5L932.5 1018.3H933.4L933.4 1016H934.3L934.3 1016.9H935.2L935.2 1017H936.1L936.1 1016.7H937L937 1017.2H937.9L937.9 1016.1H938.8L938.8 1020.1H939.8L939.8 1018.4H940.8L940.8 1021.9H941.8L941.8 1018.6H942.8L942.8 1016.8H943.8L943.8 1017.1H944.7L944.7 1015.6H945.6L945.6 1016.9H946.6L946.6 1016.9H947.5L947.5 1017.3H948.4L948.4 1018.3H949.4L949.4 1018.6H950.6L950.6 1016.8H951.9L951.9 1019.5H952.6L952.6 1016.3H953.6L953.6 1019.5H954.5L954.5 1015.2H955.9L955.9 1029.5Z" fill="#0d0d0a"/><path d="M841 1014.5V1001.8H841.9V1014.5M842.7 1019.1V1013H843.5V1020.3M843.1 1013V1003.8H844.4V1014.5M841.4 1001.8V988.8H843.7V1003.8M845.5 1014.9V1009.6H847.1V1017.4M849 1017.7V1008.2H850.2V1014.5M846.3 1009.6V1000.2H849.6V1008.2M842.6 988.8V982.6H847.9V1000.2M851.6 1017.5V1011.7H853.1V1014.5M852.4 1011.7V1006.3H854.3V1016.6M855.3 1014.5V1002H856.1V1014.5M853.3 1006.3V999.3H855.7V1002M857 1016.3V1011.4H858.1V1017.3M861.6 1016.1V1014.4H863.5V1016.7M859.6 1019.5V1012H862.5V1014.4M857.5 1011.4V998.1H861.1V1012M854.5 999.3V992.7H859.3V998.1M865.2 1017.7V1013.2H866.7V1018.3M868.5 1017.3V1011.4H871.4V1016.5M866 1013.2V1008.2H870V1011.4M874.4 1019.4V1013.7H875.4V1018.4M873.7 1014.5V1011.7H874.9V1013.7M868 1008.2V1004.9H874.3V1011.7M882.1 1017.4V1012.9H883.7V1020.3M878.5 1015.1V1010.2H882.9V1012.9M885.1 1018.2V1014H886.8V1019.4M886 1014V1008.4H888.5V1014.5M880.7 1010.2V1005H887.2V1008.4M889.6 1014.5V1011.2H890.5V1014.5M890.1 1011.2V1009.3H891.5V1016.3M894.5 1017V1010.8H899.2V1016.5M890.8 1009.3V999.3H896.8V1010.8M902 1018.9V1014.2H902.9V1020.3M902.4 1014.2V1012.3H903.6V1014.5M904.9 1016V1009.9H906.1V1017M903 1012.3V1006H905.5V1009.9M907.1 1017V1014.5H908.7V1018M907.9 1014.5V1007.8H910V1014.7M904.3 1006V999.3H909V1007.8M916.2 1015.8V1014.1H919.5V1018.4M912.2 1017.4V1009.1H917.8V1014.1M922.2 1016V1014.5H925.3V1019.7M926.9 1019.2V1014.2H928.5V1019.6M923.7 1014.5V1010.8H927.7V1014.2M934.3 1015.1V1010.6H940.8V1017M950.6 1015.2V1011.5H952.3V1018.7M953.1 1014.5V1010.6H954V1017.9M953.6 1010.6V1007.7H955.2V1014.5M951.5 1011.5V1005.4H954.4V1007.7M946.1 1015.5V1003H952.9V1005.4M937.5 1010.6V1000.9H949.5V1003M925.7 1010.8V997.9H943.5V1000.9M915 1009.1V995.3H934.6V997.9M906.6 999.3V991.2H924.8V995.3M893.8 999.3V987.7H915.7V991.2M884 1005V983.2H904.8V987.7M871.1 1004.9V977.7H894.4V983.2M856.9 992.7V973.5H882.8V977.7M845.3 982.6V965.8H869.8V973.5M835.6 999.6V961.3H857.5V965.8M835 1003.1V980.3M836 1007.5V996.6M842.7 1020.1V1017.7M849 1019.9V1011M852.1 1019.3V1009.7M855.3 1016.1V1010.3M858.1 1018.5V1012.8M860.1 1021.2V1015.7M866.7 1020.7V1012M870 1021.2V1012.1M873.7 1017.4V1012M876.6 1017.1V1011.9M878.5 1019.1V1006.6M879.5 1017.7V1008.5M881.5 1022.8V1010.1M883.7 1021.9V1015.8M885.1 1020.3V1015.2M892.5 1019.1V1015.8M893.5 1018.4V1015.8M898.6 1019.1V1008.6M902 1020.5V1018M903.6 1016V1007.2M904.4 1017.6V1011.4M906.1 1018V1015.1M908.7 1020.2V1010.9M911.2 1019.5V1013.4M915.2 1017.4V1014.8M918.1 1017.1V1007.7M919.9 1020.5V1013.5M921.7 1017.1V1007.5M924.7 1022.2V1015.9M931.1 1016.9V1005.9M932.9 1019.3V1009.9M934.7 1017.9V1011.4M940.3 1019.4V1014.5M941.3 1022.9V1015.2M942.3 1019.6V1009.6M945.2 1016.6V1012.4M947 1017.9V1010.1M954 1020.5V1014.4" fill="none" stroke="#0d0d0a" stroke-width="1.55"/>
<text x="958.1" y="1021.6" font-size="19">Percentage</text>
<text x="963.4" y="1042.4" font-size="19" text-anchor="middle">0</text>
<text x="991.8" y="1042.4" font-size="19" text-anchor="middle">0.4</text>
<text x="1019.7" y="1042.4" font-size="19" text-anchor="middle">0.8</text>
<path d="M963.8 1048.8H1033.7M963.8 1048.8v-3.8M977.8 1048.8v-3.8M991.8 1048.8v-3.8M1005.7 1048.8v-3.8M1019.7 1048.8v-3.8M1033.7 1048.8v-3.8" stroke="#111" stroke-width="1.3" fill="none"/>
<g fill="#357f36" stroke="#0a0a0a" stroke-width="1.4"><rect x="963.8" y="1054" width="69.9" height="16.7"/><rect x="963.8" y="1080.8" width="69.9" height="16.7"/><rect x="963.8" y="1107.6" width="64.7" height="16.7"/><rect x="963.8" y="1134.4" width="51.6" height="16.7"/><rect x="963.8" y="1214.8" width="3.1" height="16.7"/></g>
<path d="M964.7 1161.7v15.7M964.7 1188.5v15.7M964.7 1242.1v15.7" stroke="#0a0a0a" stroke-width="2"/>
<g shape-rendering="crispEdges"><path d="M70.9 1378.5h2.5v26.8h-2.5zM83.3 1378.5h1.3v26.8h-1.3zM87.6 1378.5h6v26.8h-6zM113.4 1378.5h3.5v26.8h-3.5zM126.5 1378.5h1.3v26.8h-1.3zM151.8 1378.5h1.3v26.8h-1.3zM174.7 1378.5h3.5v26.8h-3.5zM183.8 1378.5h3v26.8h-3zM187.8 1378.5h1.6v26.8h-1.6zM205.4 1378.5h2v26.8h-2zM210.4 1378.5h2v26.8h-2zM247.3 1378.5h1v26.8h-1zM249.6 1378.5h3.5v26.8h-3.5zM256.6 1378.5h3.5v26.8h-3.5zM267.6 1378.5h2.5v26.8h-2.5zM272.6 1378.5h1.6v26.8h-1.6zM276.2 1378.5h2.3v26.8h-2.3zM283.4 1378.5h3v26.8h-3zM300.6 1378.5h2v26.8h-2zM88.6 1539.3h0.9v26.8h-0.9z" fill="#f9aa6e"/><path d="M73.4 1378.5h3v26.8h-3zM78.7 1378.5h4.6v26.8h-4.6zM84.6 1378.5h3v26.8h-3zM105.1 1378.5h3.5v26.8h-3.5zM121.4 1378.5h1.6v26.8h-1.6zM127.8 1378.5h1.6v26.8h-1.6zM135.5 1378.5h2.3v26.8h-2.3zM153.1 1378.5h1.6v26.8h-1.6zM169 1378.5h2.5v26.8h-2.5zM181.8 1378.5h2v26.8h-2zM217.6 1378.5h3.5v26.8h-3.5zM224.1 1378.5h1.6v26.8h-1.6zM227.3 1378.5h2v26.8h-2zM232.3 1378.5h2v26.8h-2zM253.1 1378.5h3.5v26.8h-3.5zM286.4 1378.5h6v26.8h-6zM319 1378.5h3v26.8h-3zM327.3 1378.5h3.5v26.8h-3.5zM332.1 1378.5h1.3v26.8h-1.3zM113.3 1405.3h3v26.8h-3zM225.6 1405.3h2v26.8h-2zM255.1 1405.3h3v26.8h-3zM276.9 1405.3h2.5v26.8h-2.5zM311.3 1405.3h3v26.8h-3zM76.3 1432.1h3v26.8h-3zM111.7 1432.1h4.1v26.8h-4.1zM146 1432.1h3v26.8h-3zM152.5 1432.1h2.5v26.8h-2.5zM208 1432.1h4.8v26.8h-4.8zM104.3 1458.9h3.5v26.8h-3.5zM280.9 1458.9h2v26.8h-2zM306.6 1458.9h2v26.8h-2zM332.8 1458.9h2.2v26.8h-2.2z" fill="#fbc880"/><path d="M76.4 1378.5h2.3v26.8h-2.3zM97.1 1378.5h5v26.8h-5zM108.6 1378.5h4.8v26.8h-4.8zM123 1378.5h3.5v26.8h-3.5zM133 1378.5h2.5v26.8h-2.5zM139.4 1378.5h1.3v26.8h-1.3zM146.3 1378.5h2.5v26.8h-2.5zM154.7 1378.5h2.5v26.8h-2.5zM158.2 1378.5h3v26.8h-3zM162.5 1378.5h6.5v26.8h-6.5zM171.5 1378.5h3.2v26.8h-3.2zM178.2 1378.5h2v26.8h-2zM197.5 1378.5h2v26.8h-2zM203.8 1378.5h1.6v26.8h-1.6zM208.4 1378.5h2v26.8h-2zM212.4 1378.5h1.6v26.8h-1.6zM216 1378.5h1.6v26.8h-1.6zM221.1 1378.5h3v26.8h-3zM225.7 1378.5h1.6v26.8h-1.6zM260.1 1378.5h1v26.8h-1zM270.1 1378.5h2.5v26.8h-2.5zM275.2 1378.5h1v26.8h-1zM278.5 1378.5h2v26.8h-2zM302.6 1378.5h3.5v26.8h-3.5zM308.1 1378.5h6v26.8h-6zM322 1378.5h4.3v26.8h-4.3zM138.3 1405.3h2v26.8h-2zM221.3 1432.1h1.6v26.8h-1.6zM83.5 1539.3h4.1v26.8h-4.1z" fill="#fab977"/><path d="M93.6 1378.5h3.5v26.8h-3.5zM102.1 1378.5h3v26.8h-3zM157.2 1378.5h1v26.8h-1zM274.2 1378.5h1v26.8h-1zM295 1378.5h1.6v26.8h-1.6z" fill="#f58a5e"/><path d="M116.9 1378.5h2.5v26.8h-2.5zM131 1378.5h2v26.8h-2zM137.8 1378.5h1.6v26.8h-1.6zM180.2 1378.5h1.6v26.8h-1.6zM189.4 1378.5h1.6v26.8h-1.6zM200.8 1378.5h3v26.8h-3zM214 1378.5h2v26.8h-2zM229.3 1378.5h3v26.8h-3zM280.5 1378.5h2.9v26.8h-2.9zM296.6 1378.5h3v26.8h-3zM326.3 1378.5h1v26.8h-1zM70.9 1405.3h3.5v26.8h-3.5zM84.7 1405.3h1.6v26.8h-1.6zM128.3 1405.3h2v26.8h-2zM144.9 1405.3h1v26.8h-1zM149.9 1405.3h8v26.8h-8zM172.2 1405.3h4.8v26.8h-4.8zM180.6 1405.3h9v26.8h-9zM192.1 1405.3h2v26.8h-2zM198.1 1405.3h2v26.8h-2zM222.8 1405.3h1.2v26.8h-1.2zM233.5 1405.3h3.5v26.8h-3.5zM248.1 1405.3h3.5v26.8h-3.5zM281.7 1405.3h2v26.8h-2zM297.2 1405.3h4v26.8h-4zM302.5 1405.3h6.5v26.8h-6.5zM319.4 1405.3h4.8v26.8h-4.8zM325.2 1405.3h1v26.8h-1zM332 1405.3h3v26.8h-3zM84.7 1432.1h1.3v26.8h-1.3zM121.6 1432.1h2.4v26.8h-2.4zM137 1432.1h3v26.8h-3zM143 1432.1h3v26.8h-3zM161.1 1432.1h2.6v26.8h-2.6zM169.2 1432.1h1.6v26.8h-1.6zM217.8 1432.1h3.5v26.8h-3.5zM226.4 1432.1h3v26.8h-3zM237.5 1432.1h1v26.8h-1zM242.6 1432.1h2.5v26.8h-2.5zM247.1 1432.1h1v26.8h-1zM259.1 1432.1h2.6v26.8h-2.6zM271.7 1432.1h2.5v26.8h-2.5zM280.4 1432.1h4.5v26.8h-4.5zM296.9 1432.1h1.3v26.8h-1.3zM303.8 1432.1h2.5v26.8h-2.5zM313.4 1432.1h11.6v26.8h-11.6zM330.1 1432.1h3.5v26.8h-3.5zM110.8 1458.9h1v26.8h-1zM113.4 1458.9h1.3v26.8h-1.3zM118.3 1458.9h2v26.8h-2zM177.6 1458.9h2.5v26.8h-2.5zM183.6 1458.9h3.5v26.8h-3.5zM189.1 1458.9h10.6v26.8h-10.6zM254 1458.9h2v26.8h-2zM274.4 1458.9h4v26.8h-4zM299 1458.9h1.6v26.8h-1.6zM313.8 1458.9h1.3v26.8h-1.3zM317.1 1458.9h1.3v26.8h-1.3zM322 1458.9h2v26.8h-2zM326 1458.9h6.8v26.8h-6.8zM75.5 1539.3h2v26.8h-2zM83 1566.1h1v26.8h-1zM115.5 1566.1h1.6v26.8h-1.6z" fill="#fde296"/><path d="M119.4 1378.5h2v26.8h-2zM129.4 1378.5h1.6v26.8h-1.6zM144.3 1378.5h2v26.8h-2zM186.8 1378.5h1v26.8h-1zM236.3 1378.5h2v26.8h-2zM241.3 1378.5h3.5v26.8h-3.5zM261.1 1378.5h6.5v26.8h-6.5zM292.4 1378.5h1.3v26.8h-1.3zM306.1 1378.5h2v26.8h-2zM314.1 1378.5h1.3v26.8h-1.3z" fill="#f79a66"/><path d="M140.7 1378.5h1.6v26.8h-1.6zM161.2 1378.5h1.3v26.8h-1.3zM191 1378.5h6.5v26.8h-6.5zM199.5 1378.5h1.3v26.8h-1.3zM207.4 1378.5h1v26.8h-1zM234.3 1378.5h2v26.8h-2zM238.3 1378.5h3v26.8h-3zM244.8 1378.5h2.5v26.8h-2.5zM248.3 1378.5h1.3v26.8h-1.3zM293.7 1378.5h1.3v26.8h-1.3zM299.6 1378.5h1v26.8h-1zM315.4 1378.5h3.6v26.8h-3.6zM330.8 1378.5h1.3v26.8h-1.3zM333.4 1378.5h1.6v26.8h-1.6zM74.4 1405.3h2.5v26.8h-2.5zM111.7 1405.3h1.6v26.8h-1.6zM143.3 1405.3h1.6v26.8h-1.6zM157.9 1405.3h1.6v26.8h-1.6zM164.6 1405.3h3.5v26.8h-3.5zM177 1405.3h1.6v26.8h-1.6zM200.1 1405.3h1.6v26.8h-1.6zM237 1405.3h3v26.8h-3zM245.6 1405.3h2.5v26.8h-2.5zM273.4 1405.3h3.5v26.8h-3.5zM289.7 1405.3h3v26.8h-3zM296.2 1405.3h1v26.8h-1zM310.3 1405.3h1v26.8h-1zM328.7 1405.3h1v26.8h-1zM93.3 1432.1h2.7v26.8h-2.7zM156.3 1432.1h3.5v26.8h-3.5zM206 1432.1h2v26.8h-2zM238.5 1432.1h1.6v26.8h-1.6zM252.1 1432.1h3.5v26.8h-3.5zM277.2 1432.1h1.6v26.8h-1.6zM311.1 1432.1h1v26.8h-1zM207.5 1458.9h5v26.8h-5zM216.5 1458.9h1v26.8h-1zM270.1 1458.9h1v26.8h-1zM293.2 1458.9h3.5v26.8h-3.5zM304.1 1458.9h2.5v26.8h-2.5zM308.6 1458.9h1.6v26.8h-1.6zM81 1539.3h2.5v26.8h-2.5zM78 1566.1h5v26.8h-5zM88.3 1566.1h0.7v26.8h-0.7z" fill="#fcd58b"/><path d="M142.3 1378.5h2v26.8h-2z" fill="#ee7754"/><path d="M148.8 1378.5h3v26.8h-3zM76.9 1405.3h3v26.8h-3zM86.3 1405.3h2.2v26.8h-2.2zM116.3 1405.3h2.5v26.8h-2.5zM120.8 1405.3h5.5v26.8h-5.5zM130.3 1405.3h6v26.8h-6zM140.3 1405.3h3v26.8h-3zM161.1 1405.3h3.5v26.8h-3.5zM168.1 1405.3h4.1v26.8h-4.1zM194.1 1405.3h3v26.8h-3zM224 1405.3h1.6v26.8h-1.6zM240 1405.3h3.6v26.8h-3.6zM244.6 1405.3h1v26.8h-1zM252.6 1405.3h2.5v26.8h-2.5zM258.1 1405.3h15.3v26.8h-15.3zM280.4 1405.3h1.3v26.8h-1.3zM283.7 1405.3h6v26.8h-6zM301.2 1405.3h1.3v26.8h-1.3zM309 1405.3h1.3v26.8h-1.3zM314.3 1405.3h3.5v26.8h-3.5zM329.7 1405.3h2.3v26.8h-2.3zM70.9 1432.1h5.4v26.8h-5.4zM89 1432.1h1.3v26.8h-1.3zM115.8 1432.1h3.8v26.8h-3.8zM140 1432.1h3v26.8h-3zM149 1432.1h3.5v26.8h-3.5zM155 1432.1h1.3v26.8h-1.3zM159.8 1432.1h1.3v26.8h-1.3zM163.7 1432.1h2v26.8h-2zM170.8 1432.1h4.5v26.8h-4.5zM212.8 1432.1h4v26.8h-4zM222.9 1432.1h3.5v26.8h-3.5zM229.4 1432.1h3v26.8h-3zM240.1 1432.1h2.5v26.8h-2.5zM245.1 1432.1h2v26.8h-2zM255.6 1432.1h3.5v26.8h-3.5zM261.7 1432.1h10v26.8h-10zM274.2 1432.1h3v26.8h-3zM284.9 1432.1h3.5v26.8h-3.5zM290.9 1432.1h3v26.8h-3zM299.2 1432.1h4.6v26.8h-4.6zM306.3 1432.1h4.8v26.8h-4.8zM325 1432.1h5.1v26.8h-5.1zM114.7 1458.9h2.3v26.8h-2.3zM188.1 1458.9h1v26.8h-1zM199.7 1458.9h3v26.8h-3zM204 1458.9h3.5v26.8h-3.5zM212.5 1458.9h1v26.8h-1zM218.5 1458.9h1v26.8h-1zM250.3 1458.9h3.7v26.8h-3.7zM256 1458.9h3v26.8h-3zM264.1 1458.9h6v26.8h-6zM272.4 1458.9h2v26.8h-2zM278.4 1458.9h2.5v26.8h-2.5zM284.9 1458.9h2v26.8h-2zM290.9 1458.9h2.3v26.8h-2.3zM296.7 1458.9h1v26.8h-1zM300.6 1458.9h3.5v26.8h-3.5zM312.2 1458.9h1.6v26.8h-1.6zM315.1 1458.9h2v26.8h-2zM320.7 1458.9h1.3v26.8h-1.3zM70.9 1539.3h4.6v26.8h-4.6zM77.5 1539.3h3.5v26.8h-3.5zM84 1566.1h4.3v26.8h-4.3z" fill="#feeea7"/><path d="M79.9 1405.3h3.5v26.8h-3.5zM126.3 1405.3h2v26.8h-2zM136.3 1405.3h2v26.8h-2zM145.9 1405.3h2v26.8h-2zM159.5 1405.3h1.6v26.8h-1.6zM178.6 1405.3h2v26.8h-2zM189.6 1405.3h2.5v26.8h-2.5zM208 1405.3h1.3v26.8h-1.3zM227.6 1405.3h5.9v26.8h-5.9zM243.6 1405.3h1v26.8h-1zM251.6 1405.3h1v26.8h-1zM279.4 1405.3h1v26.8h-1zM317.8 1405.3h1.6v26.8h-1.6zM324.2 1405.3h1v26.8h-1zM326.2 1405.3h2.5v26.8h-2.5zM79.3 1432.1h4.1v26.8h-4.1zM90.3 1432.1h3v26.8h-3zM110.7 1432.1h1v26.8h-1zM119.6 1432.1h2v26.8h-2zM165.7 1432.1h3.5v26.8h-3.5zM216.8 1432.1h1v26.8h-1zM232.4 1432.1h5.1v26.8h-5.1zM248.1 1432.1h4v26.8h-4zM298.2 1432.1h1v26.8h-1zM333.6 1432.1h1.4v26.8h-1.4zM73.9 1458.9h1.3v26.8h-1.3zM107.8 1458.9h3v26.8h-3zM111.8 1458.9h1.6v26.8h-1.6zM176 1458.9h1.6v26.8h-1.6zM180.1 1458.9h3.5v26.8h-3.5zM187.1 1458.9h1v26.8h-1zM202.7 1458.9h1.3v26.8h-1.3zM213.5 1458.9h3v26.8h-3zM259 1458.9h5.1v26.8h-5.1zM271.1 1458.9h1.3v26.8h-1.3zM310.2 1458.9h2v26.8h-2zM324 1458.9h2v26.8h-2z" fill="#fefbb8"/><path d="M83.4 1405.3h1.3v26.8h-1.3zM110.7 1405.3h1v26.8h-1zM118.8 1405.3h2v26.8h-2zM147.9 1405.3h2v26.8h-2zM197.1 1405.3h1v26.8h-1zM292.7 1405.3h3.5v26.8h-3.5zM83.4 1432.1h1.3v26.8h-1.3zM86 1432.1h3v26.8h-3zM175.3 1432.1h1.7v26.8h-1.7zM288.4 1432.1h2.5v26.8h-2.5zM312.1 1432.1h1.3v26.8h-1.3zM84 1458.9h3.5v26.8h-3.5zM103 1458.9h1.3v26.8h-1.3zM217.5 1458.9h1v26.8h-1zM223.6 1458.9h2.5v26.8h-2.5zM238.2 1458.9h3.5v26.8h-3.5zM249.3 1458.9h1v26.8h-1zM286.9 1458.9h2v26.8h-2zM297.7 1458.9h1.3v26.8h-1.3zM318.4 1458.9h1v26.8h-1zM87.6 1539.3h1v26.8h-1z" fill="#fafac8"/><path d="M88.5 1405.3h3.5v26.8h-3.5zM95 1405.3h3.5v26.8h-3.5zM129.1 1432.1h1v26.8h-1zM177 1432.1h3.5v26.8h-3.5zM203.6 1432.1h2.4v26.8h-2.4zM82 1458.9h2v26.8h-2zM90 1458.9h1.6v26.8h-1.6zM124 1458.9h1.3v26.8h-1.3zM134.3 1458.9h2.6v26.8h-2.6zM150.2 1458.9h3.3v26.8h-3.3zM154.8 1458.9h2.6v26.8h-2.6zM158.4 1458.9h2v26.8h-2zM161.7 1458.9h1.6v26.8h-1.6zM96.1 1539.3h1.3v26.8h-1.3zM103.8 1539.3h11v26.8h-11zM122.6 1539.3h2.5v26.8h-2.5zM129.1 1539.3h1.3v26.8h-1.3zM132.9 1539.3h6.5v26.8h-6.5zM140.7 1539.3h5.5v26.8h-5.5zM148.5 1539.3h1v26.8h-1zM154.5 1539.3h2v26.8h-2zM167.1 1539.3h2v26.8h-2zM173.3 1539.3h1v26.8h-1zM183.5 1539.3h2.3v26.8h-2.3zM186.8 1539.3h1.3v26.8h-1.3zM199.4 1539.3h3.5v26.8h-3.5zM204.2 1539.3h3v26.8h-3zM208.8 1539.3h2v26.8h-2zM216.9 1539.3h2.5v26.8h-2.5zM220.7 1539.3h1v26.8h-1zM240.8 1539.3h4.5v26.8h-4.5zM246.9 1539.3h3v26.8h-3zM258.4 1539.3h3v26.8h-3zM269.5 1539.3h2v26.8h-2zM276.7 1539.3h1.3v26.8h-1.3zM281.5 1539.3h3.5v26.8h-3.5zM296.8 1539.3h6v26.8h-6zM313.8 1539.3h6.5v26.8h-6.5zM322.8 1539.3h1.6v26.8h-1.6zM327.4 1539.3h3.5v26.8h-3.5zM331.9 1539.3h3.1v26.8h-3.1zM70.9 1566.1h2.5v26.8h-2.5zM75.4 1566.1h2.6v26.8h-2.6zM89 1566.1h1.3v26.8h-1.3zM98.1 1566.1h3.2v26.8h-3.2zM103.8 1566.1h3.5v26.8h-3.5zM123 1566.1h3.2v26.8h-3.2zM129.2 1566.1h3.9v26.8h-3.9zM142.6 1566.1h4.3v26.8h-4.3zM149.5 1566.1h4.5v26.8h-4.5zM199.3 1566.1h3.5v26.8h-3.5zM204.4 1566.1h2.5v26.8h-2.5zM219.6 1566.1h1v26.8h-1zM228.6 1566.1h4.2v26.8h-4.2zM235.3 1566.1h2v26.8h-2zM242.8 1566.1h5.7v26.8h-5.7zM254.9 1566.1h3.5v26.8h-3.5zM270.9 1566.1h3.5v26.8h-3.5zM276 1566.1h2v26.8h-2zM305 1566.1h1v26.8h-1zM309.3 1566.1h3.5v26.8h-3.5z" fill="#5c7fb5"/><path d="M92 1405.3h1v26.8h-1zM98.5 1405.3h4.8v26.8h-4.8zM105.3 1405.3h5.4v26.8h-5.4zM124 1432.1h5.1v26.8h-5.1zM130.1 1432.1h6.9v26.8h-6.9zM180.5 1432.1h23.1v26.8h-23.1zM80 1458.9h2v26.8h-2zM91.6 1458.9h2v26.8h-2zM95.6 1458.9h7.4v26.8h-7.4zM125.3 1458.9h9v26.8h-9zM136.9 1458.9h12.3v26.8h-12.3zM153.5 1458.9h1.3v26.8h-1.3zM157.4 1458.9h1v26.8h-1zM163.3 1458.9h12.7v26.8h-12.7zM70.9 1485.7h5.8v26.8h-5.8zM81.3 1485.7h2.5v26.8h-2.5zM85.4 1485.7h10.2v26.8h-10.2zM103.6 1485.7h3.5v26.8h-3.5zM114.2 1485.7h3.8v26.8h-3.8zM119.6 1485.7h6.5v26.8h-6.5zM128.1 1485.7h9.5v26.8h-9.5zM140.6 1485.7h2.5v26.8h-2.5zM148.1 1485.7h3v26.8h-3zM152.7 1485.7h1v26.8h-1zM160 1485.7h2.5v26.8h-2.5zM174.4 1485.7h5.9v26.8h-5.9zM188.9 1485.7h1.6v26.8h-1.6zM193 1485.7h1.3v26.8h-1.3zM196.8 1485.7h15.8v26.8h-15.8zM222.2 1485.7h4.5v26.8h-4.5zM230.3 1485.7h6.5v26.8h-6.5zM238.8 1485.7h3v26.8h-3zM243.8 1485.7h7v26.8h-7zM252.4 1485.7h6.5v26.8h-6.5zM267.5 1485.7h3v26.8h-3zM271.5 1485.7h8.3v26.8h-8.3zM282.8 1485.7h2v26.8h-2zM298 1485.7h1v26.8h-1zM310.8 1485.7h11.4v26.8h-11.4zM324.7 1485.7h4.3v26.8h-4.3zM332.2 1485.7h2.8v26.8h-2.8zM70.9 1512.5h4.5v26.8h-4.5zM76.4 1512.5h1v26.8h-1zM86.4 1512.5h7v26.8h-7zM100.2 1512.5h5.5v26.8h-5.5zM109.2 1512.5h2v26.8h-2zM113.2 1512.5h7v26.8h-7zM126.7 1512.5h27v26.8h-27zM164.8 1512.5h1.3v26.8h-1.3zM168.1 1512.5h9.5v26.8h-9.5zM189.1 1512.5h2.6v26.8h-2.6zM195.2 1512.5h20.7v26.8h-20.7zM218.4 1512.5h2.9v26.8h-2.9zM224.3 1512.5h8.1v26.8h-8.1zM241.4 1512.5h10v26.8h-10zM258.5 1512.5h2v26.8h-2zM261.5 1512.5h9v26.8h-9zM273 1512.5h1.6v26.8h-1.6zM290.1 1512.5h2.5v26.8h-2.5zM294.6 1512.5h1.6v26.8h-1.6zM300 1512.5h3.2v26.8h-3.2zM309.2 1512.5h2v26.8h-2zM313.7 1512.5h3.5v26.8h-3.5zM318.2 1512.5h2.5v26.8h-2.5zM324.2 1512.5h9v26.8h-9zM89.5 1539.3h6.6v26.8h-6.6zM97.4 1539.3h6.4v26.8h-6.4zM114.8 1539.3h6.8v26.8h-6.8zM125.1 1539.3h2v26.8h-2zM130.4 1539.3h2.5v26.8h-2.5zM139.4 1539.3h1.3v26.8h-1.3zM146.2 1539.3h2.3v26.8h-2.3zM149.5 1539.3h5v26.8h-5zM156.5 1539.3h10.6v26.8h-10.6zM169.1 1539.3h4.2v26.8h-4.2zM174.3 1539.3h3v26.8h-3zM178.9 1539.3h4.6v26.8h-4.6zM185.8 1539.3h1v26.8h-1zM190.6 1539.3h8.8v26.8h-8.8zM202.9 1539.3h1.3v26.8h-1.3zM207.2 1539.3h1.6v26.8h-1.6zM210.8 1539.3h6.1v26.8h-6.1zM219.4 1539.3h1.3v26.8h-1.3zM223.7 1539.3h2.5v26.8h-2.5zM228.2 1539.3h12.6v26.8h-12.6zM245.3 1539.3h1.6v26.8h-1.6zM249.9 1539.3h8.5v26.8h-8.5zM261.4 1539.3h4.3v26.8h-4.3zM268.2 1539.3h1.3v26.8h-1.3zM271.5 1539.3h1.6v26.8h-1.6zM274.7 1539.3h2v26.8h-2zM278 1539.3h3.5v26.8h-3.5zM285 1539.3h11.8v26.8h-11.8zM302.8 1539.3h11v26.8h-11zM320.3 1539.3h2.5v26.8h-2.5zM324.4 1539.3h3v26.8h-3zM330.9 1539.3h1v26.8h-1zM73.4 1566.1h2v26.8h-2zM90.3 1566.1h7.8v26.8h-7.8zM101.3 1566.1h2.5v26.8h-2.5zM107.3 1566.1h3.7v26.8h-3.7zM120 1566.1h3v26.8h-3zM126.2 1566.1h3v26.8h-3zM133.1 1566.1h9.5v26.8h-9.5zM146.9 1566.1h2.6v26.8h-2.6zM154 1566.1h15v26.8h-15zM176 1566.1h23.3v26.8h-23.3zM202.8 1566.1h1.6v26.8h-1.6zM206.9 1566.1h3.3v26.8h-3.3zM212.7 1566.1h6.9v26.8h-6.9zM220.6 1566.1h8v26.8h-8zM240.3 1566.1h2.5v26.8h-2.5zM248.5 1566.1h6.4v26.8h-6.4zM258.4 1566.1h12.5v26.8h-12.5zM274.4 1566.1h1.6v26.8h-1.6zM278 1566.1h6.1v26.8h-6.1zM286.4 1566.1h9.2v26.8h-9.2zM306 1566.1h3.3v26.8h-3.3zM312.8 1566.1h22.2v26.8h-22.2z" fill="#5477b0"/><path d="M93 1405.3h2v26.8h-2zM103.3 1405.3h2v26.8h-2zM93.6 1458.9h2v26.8h-2zM149.2 1458.9h1v26.8h-1zM160.4 1458.9h1.3v26.8h-1.3zM76.7 1485.7h4.6v26.8h-4.6zM95.6 1485.7h3.5v26.8h-3.5zM100.1 1485.7h3.5v26.8h-3.5zM107.1 1485.7h7.1v26.8h-7.1zM126.1 1485.7h2v26.8h-2zM145.1 1485.7h3v26.8h-3zM151.1 1485.7h1.6v26.8h-1.6zM153.7 1485.7h2.5v26.8h-2.5zM158.7 1485.7h1.3v26.8h-1.3zM162.5 1485.7h4.6v26.8h-4.6zM170.1 1485.7h4.3v26.8h-4.3zM185.4 1485.7h3.5v26.8h-3.5zM190.5 1485.7h2.5v26.8h-2.5zM194.3 1485.7h2.5v26.8h-2.5zM215.6 1485.7h6.6v26.8h-6.6zM228.3 1485.7h2v26.8h-2zM236.8 1485.7h2v26.8h-2zM260.9 1485.7h6.6v26.8h-6.6zM279.8 1485.7h3v26.8h-3zM284.8 1485.7h4.1v26.8h-4.1zM291.2 1485.7h6.8v26.8h-6.8zM301 1485.7h6.8v26.8h-6.8zM329 1485.7h1.6v26.8h-1.6zM75.4 1512.5h1v26.8h-1zM77.4 1512.5h7.7v26.8h-7.7zM95.4 1512.5h4.8v26.8h-4.8zM105.7 1512.5h3.5v26.8h-3.5zM111.2 1512.5h2v26.8h-2zM120.2 1512.5h6.5v26.8h-6.5zM153.7 1512.5h6.1v26.8h-6.1zM162.8 1512.5h2v26.8h-2zM166.1 1512.5h2v26.8h-2zM177.6 1512.5h3v26.8h-3zM186.1 1512.5h3v26.8h-3zM215.9 1512.5h2.5v26.8h-2.5zM221.3 1512.5h3v26.8h-3zM232.4 1512.5h6.5v26.8h-6.5zM251.4 1512.5h3.5v26.8h-3.5zM256.5 1512.5h2v26.8h-2zM260.5 1512.5h1v26.8h-1zM270.5 1512.5h2.5v26.8h-2.5zM274.6 1512.5h3.3v26.8h-3.3zM282.4 1512.5h4.1v26.8h-4.1zM292.6 1512.5h2v26.8h-2zM296.2 1512.5h3.8v26.8h-3.8zM306.7 1512.5h2.5v26.8h-2.5zM311.2 1512.5h2.5v26.8h-2.5zM320.7 1512.5h3.5v26.8h-3.5zM333.2 1512.5h1.8v26.8h-1.8zM127.1 1539.3h2v26.8h-2zM177.3 1539.3h1.6v26.8h-1.6zM188.1 1539.3h2.5v26.8h-2.5zM221.7 1539.3h2v26.8h-2zM226.2 1539.3h2v26.8h-2zM169 1566.1h7v26.8h-7zM232.8 1566.1h2.5v26.8h-2.5zM237.3 1566.1h3v26.8h-3zM284.1 1566.1h2.3v26.8h-2.3zM295.6 1566.1h1v26.8h-1z" fill="#6486ba"/><path d="M201.7 1405.3h1.6v26.8h-1.6zM209.3 1405.3h13.5v26.8h-13.5zM278.8 1432.1h1.6v26.8h-1.6zM293.9 1432.1h3v26.8h-3zM87.5 1458.9h2.5v26.8h-2.5zM121.3 1458.9h2.7v26.8h-2.7zM219.5 1458.9h1.6v26.8h-1.6zM226.1 1458.9h3.6v26.8h-3.6zM233.2 1458.9h2v26.8h-2zM241.7 1458.9h1.6v26.8h-1.6zM282.9 1458.9h2v26.8h-2zM288.9 1458.9h2v26.8h-2zM319.4 1458.9h1.3v26.8h-1.3zM113.5 1566.1h2v26.8h-2zM117.1 1566.1h2.9v26.8h-2.9z" fill="#f5fad7"/><path d="M203.3 1405.3h2.7v26.8h-2.7zM104.4 1432.1h2v26.8h-2zM75.2 1458.9h1.3v26.8h-1.3zM117 1458.9h1.3v26.8h-1.3zM221.1 1458.9h2.5v26.8h-2.5zM235.2 1458.9h3v26.8h-3zM243.3 1458.9h6v26.8h-6zM304.2 1566.1h0.8v26.8h-0.8z" fill="#eef7e4"/><path d="M206 1405.3h2v26.8h-2zM302.2 1566.1h2v26.8h-2z" fill="#daecee"/><path d="M96 1432.1h1.6v26.8h-1.6zM156.2 1485.7h2.5v26.8h-2.5zM289.9 1485.7h1.3v26.8h-1.3zM93.4 1512.5h2v26.8h-2zM159.8 1512.5h3v26.8h-3z" fill="#9cbcd6"/><path d="M97.6 1432.1h2.5v26.8h-2.5zM137.6 1485.7h3v26.8h-3zM241.8 1485.7h2v26.8h-2z" fill="#bbd6e4"/><path d="M100.1 1432.1h2v26.8h-2zM106.4 1432.1h3v26.8h-3zM70.9 1458.9h3v26.8h-3zM76.5 1458.9h3.5v26.8h-3.5zM120.3 1458.9h1v26.8h-1zM229.7 1458.9h3.5v26.8h-3.5zM298.6 1566.1h2v26.8h-2z" fill="#e6f4f0"/><path d="M102.1 1432.1h1.3v26.8h-1.3z" fill="#80a2c9"/><path d="M103.4 1432.1h1v26.8h-1zM322.2 1485.7h2.5v26.8h-2.5zM111 1566.1h2.5v26.8h-2.5zM300.6 1566.1h1.6v26.8h-1.6z" fill="#cde4ec"/><path d="M109.4 1432.1h1.3v26.8h-1.3z" fill="#8eafd0"/><path d="M83.8 1485.7h1.6v26.8h-1.6zM118 1485.7h1.6v26.8h-1.6zM143.1 1485.7h2v26.8h-2zM167.1 1485.7h3v26.8h-3zM180.3 1485.7h5.1v26.8h-5.1zM212.6 1485.7h3v26.8h-3zM226.7 1485.7h1.6v26.8h-1.6zM250.8 1485.7h1.6v26.8h-1.6zM258.9 1485.7h2v26.8h-2zM270.5 1485.7h1v26.8h-1zM288.9 1485.7h1v26.8h-1zM299 1485.7h2v26.8h-2zM307.8 1485.7h3v26.8h-3zM330.6 1485.7h1.6v26.8h-1.6zM85.1 1512.5h1.3v26.8h-1.3zM180.6 1512.5h5.5v26.8h-5.5zM191.7 1512.5h3.5v26.8h-3.5zM238.9 1512.5h2.5v26.8h-2.5zM254.9 1512.5h1.6v26.8h-1.6zM277.9 1512.5h4.5v26.8h-4.5zM286.5 1512.5h3.6v26.8h-3.6zM303.2 1512.5h3.5v26.8h-3.5zM317.2 1512.5h1v26.8h-1zM121.6 1539.3h1v26.8h-1zM265.7 1539.3h2.5v26.8h-2.5zM273.1 1539.3h1.6v26.8h-1.6zM210.2 1566.1h2.5v26.8h-2.5z" fill="#7396c3"/><path d="M99.1 1485.7h1v26.8h-1z" fill="#a9c8dc"/><path d="M296.6 1566.1h2v26.8h-2z" fill="#6b8ebe"/></g>
<rect x="70.9" y="1360.3" width="264.1" height="16.9" fill="#e47fba"/>
<path d="M71.5 1360L71.5 1330.8H72.4L72.4 1327.8H73.4L73.4 1329.5H74.3L74.3 1329.8H75.2L75.2 1328.9H76.2L76.2 1333.2H77.1L77.1 1332.1H78L78 1339.5H79L79 1337.3H79.9L79.9 1337.2H80.8L80.8 1339H81.8L81.8 1337.2H82.7L82.7 1340H83.6L83.6 1339.3H84.6L84.6 1341.9H85.5L85.5 1340.9H86.4L86.4 1341.7H87.4L87.4 1344.9H88.5L88.5 1345H89.5L89.5 1348.7H90.5L90.5 1348.3H91.4L91.4 1348.9H92.4L92.4 1347.9H93.3L93.3 1351.9H94.3L94.3 1347.7H95.2L95.2 1348.7H96.2L96.2 1348.8H97.1L97.1 1345.7H98.1L98.1 1344H99L99 1348.1H100L100 1344.3H100.9L100.9 1349.9H101.9L101.9 1345.5H102.9L102.9 1343.8H103.8L103.8 1345H104.8L104.8 1344.2H105.7L105.7 1346H106.7L106.7 1347.4H107.7L107.7 1347.3H108.7L108.7 1347H109.7L109.7 1350.8H110.7L110.7 1351.4H111.7L111.7 1348.3H112.8L112.8 1344.3H113.7L113.7 1344.2H114.7L114.7 1345H115.7L115.7 1343.5H116.7L116.7 1343.6H117.7L117.7 1343.3H118.6L118.6 1344.2H119.6L119.6 1345.4H120.6L120.6 1343.9H121.6L121.6 1342.3H123L123 1348.5H123.5L123.5 1348.1H125L125 1343.9H125.6L125.6 1352.8H127L127 1345.6H128L128 1346.2H128.9L128.9 1348.9H130.1L130.1 1348.8H131.3L131.3 1350.3H132.5L132.5 1351.9H133.3L133.3 1347.2H134.3L134.3 1348.2H135.2L135.2 1348.9H136.2L136.2 1348.6H137.1L137.1 1344.9H138.8L138.8 1343.2H139.7L139.7 1344.7H140.7L140.7 1345H141.7L141.7 1344H142.7L142.7 1344.5H143.7L143.7 1342.9H144.7L144.7 1343.6H145.6L145.6 1344.4H146.5L146.5 1343.4H147.4L147.4 1343.5H148.3L148.3 1344.8H149.2L149.2 1342.6H150.1L150.1 1343.9H151.1L151.1 1348.6H152L152 1342.8H152.9L152.9 1344.5H153.8L153.8 1343.6H154.7L154.7 1343.1H155.6L155.6 1344.3H156.5L156.5 1344.9H157.4L157.4 1348.5H158.3L158.3 1346.6H159.3L159.3 1345.5H160.2L160.2 1348.7H161.2L161.2 1345.9H162.1L162.1 1347.9H163L163 1345.8H164L164 1346.5H164.9L164.9 1346.2H165.9L165.9 1344.4H166.8L166.8 1344.4H167.7L167.7 1347.2H168.8L168.8 1346.8H169.9L169.9 1345.9H170.9L170.9 1346.2H172L172 1343.7H172.9L172.9 1343.2H173.8L173.8 1344.4H174.7L174.7 1344.1H175.7L175.7 1343.3H176.6L176.6 1348.6H177.5L177.5 1342.8H178.4L178.4 1343.1H179.4L179.4 1344.9H180.3L180.3 1343H181.2L181.2 1343.8H182.1L182.1 1344.9H183.1L183.1 1345.2H184L184 1343.2H184.9L184.9 1346H185.8L185.8 1346.1H186.8L186.8 1346.4H187.7L187.7 1347.5H188.7L188.7 1347.3H189.6L189.6 1346.6H190.5L190.5 1347.4H191.5L191.5 1351.2H192.4L192.4 1344.6H193.3L193.3 1348.3H194.2L194.2 1346.2H195.2L195.2 1349.4H196.1L196.1 1345.6H197L197 1344H197.9L197.9 1344.1H198.8L198.8 1345H199.7L199.7 1345.3H200.6L200.6 1344.3H201.5L201.5 1343.1H202.4L202.4 1348.6H203.3L203.3 1345.4H204.2L204.2 1344.8H205.1L205.1 1344.3H206L206 1344.2H206.9L206.9 1343.2H207.8L207.8 1343.9H208.7L208.7 1347.7H209.6L209.6 1343.5H210.5L210.5 1344.5H211.4L211.4 1344H212.3L212.3 1343.1H213.2L213.2 1344.6H214.1L214.1 1343.2H215L215 1344.3H215.9L215.9 1344.7H216.8L216.8 1343.2H217.7L217.7 1343.7H218.6L218.6 1344.2H219.5L219.5 1344.8H220.4L220.4 1346.9H221.3L221.3 1346H222.3L222.3 1346.6H223.2L223.2 1346.3H224.1L224.1 1347.5H225.1L225.1 1346.9H226L226 1346.5H226.9L226.9 1347.1H227.9L227.9 1345.9H228.8L228.8 1345.2H229.7L229.7 1345.6H230.7L230.7 1345.5H231.6L231.6 1344.3H232.5L232.5 1343.3H233.4L233.4 1343.6H234.4L234.4 1343.2H235.3L235.3 1342.9H236.2L236.2 1343.7H237.1L237.1 1342.9H238.1L238.1 1344.2H239L239 1342.5H239.9L239.9 1342.6H240.8L240.8 1343.1H241.7L241.7 1345.7H242.7L242.7 1344.2H243.6L243.6 1348.2H244.5L244.5 1343.2H245.4L245.4 1343H246.4L246.4 1344.7H247.3L247.3 1345.1H248.2L248.2 1349H249.2L249.2 1349.9H250.2L250.2 1348.8H251.2L251.2 1350.1H252.2L252.2 1348.9H253.2L253.2 1347.1H254.4L254.4 1347.6H255.6L255.6 1347.6H256.8L256.8 1348.7H257.7L257.7 1343.1H258.7L258.7 1349.6H259.6L259.6 1344.1H260.6L260.6 1346.6H261.5L261.5 1346.9H262.4L262.4 1345.7H263.3L263.3 1344.5H264.2L264.2 1345.9H265.1L265.1 1346H266L266 1349.5H266.9L266.9 1346.2H267.9L267.9 1344.7H268.8L268.8 1349.9H269.7L269.7 1345.1H270.6L270.6 1348.4H271.5L271.5 1342.8H272.5L272.5 1344.8H273.4L273.4 1345.1H274.4L274.4 1345.8H275.3L275.3 1346.7H276.3L276.3 1349.4H277.2L277.2 1348.8H278.3L278.3 1349.3H279.3L279.3 1349H280.4L280.4 1349.3H281.3L281.3 1349.4H282.2L282.2 1348.6H283.1L283.1 1348.8H284L284 1349.1H285L285 1348.5H285.9L285.9 1348.5H286.8L286.8 1350H287.7L287.7 1349.2H288.6L288.6 1348.5H289.5L289.5 1348.2H290.4L290.4 1349.9H291.4L291.4 1349.6H292.3L292.3 1349.5H293.2L293.2 1348.7H294.1L294.1 1349.4H295L295 1349.9H295.9L295.9 1345H297L297 1344.8H298L298 1344.7H299L299 1345.3H300.1L300.1 1346.2H301.1L301.1 1352H302.8L302.8 1345.2H303.9L303.9 1348.1H305L305 1343.9H306L306 1344.3H307.1L307.1 1346.1H308.1L308.1 1346.4H309.1L309.1 1345.6H310.1L310.1 1346.6H311.1L311.1 1346.6H312.2L312.2 1346.8H313.1L313.1 1347.2H314.1L314.1 1347.2H315L315 1347.7H316L316 1347.6H316.9L316.9 1350.8H317.9L317.9 1347.1H318.8L318.8 1347.2H319.8L319.8 1350.7H320.8L320.8 1347.9H321.8L321.8 1348.3H322.8L322.8 1348.2H323.8L323.8 1348.8H324.8L324.8 1345.4H325.8L325.8 1346.1H327.6L327.6 1345.6H328.7L328.7 1343.6H329.9L329.9 1343.9H331L331 1348H332.2L332.2 1347.6H333.3L333.3 1343.7H334.4L334.4 1360Z" fill="#0d0d0a"/><path d="M88.5 1344.8V1336.7H93.3V1347.1M109.7 1346.8V1339.2H116.7V1343.2M101.9 1343.7V1331.4H113.2V1339.2M90.9 1336.7V1317.8H107.5V1331.4M121.1 1342V1330.3H122.3V1342M123.2 1347.7V1338.3H124.2V1346.9M123.7 1338.3V1335.3H125.3V1342M121.7 1330.3V1320.2H124.5V1335.3M126.3 1349V1340.4H128V1344.6M130.7 1348.7V1341.7H132.9V1349.8M127.1 1340.4V1329.6H131.8V1341.7M135.2 1347V1339.3H137.9V1344.3M136.6 1339.3V1335H141.7V1342.5M129.5 1329.6V1323.2H139.2V1335M123.1 1320.2V1314.4H134.3V1323.2M151.5 1342.3V1334H163V1344.3M169.9 1345.3V1337.3H178.4V1342.8M157.3 1334V1321.5H174.1V1337.3M188.7 1345.5V1334.2H194.7V1344M191.7 1334.2V1331.7H208.7V1343M239.9 1342.5V1339.7H250.7V1348.8M226 1345.1V1333.6H245.3V1339.7M255 1346.8V1336.4H258.7V1342.9M275.8 1343.3V1341.8H278.8V1348.4M272.5 1342.6V1339.4H277.3V1341.8M265.6 1344.5V1333H274.9V1339.4M256.8 1336.4V1329.1H270.2V1333M288.2 1348.1V1338.6H298.5V1344.3M302 1348.6V1340.5H305V1342.9M293.3 1338.6V1335.4H303.5V1340.5M309.6 1345V1338.9H316.5V1346.3M322.8 1347.7V1342H325.3V1343.6M324 1342V1340H326.7V1344.3M332.2 1346.8V1336.4H333.9V1342M329.3 1343.3V1334H333V1336.4M325.4 1340V1330.5H331.1V1334M313 1338.9V1327.3H328.2V1330.5M298.4 1335.4V1323.9H320.6V1327.3M263.5 1329.1V1321.8H309.5V1323.9M235.7 1333.6V1318.9H286.5V1321.8M200.2 1331.7V1314.6H261.1V1318.9M165.7 1321.5V1308.2H230.6V1314.6M128.7 1314.4V1301.2H198.2V1308.2M99.2 1317.8V1297H163.4V1301.2M76.3 1326.6V1290H131.3V1297M72 1331.8V1310.2M74.8 1330.8V1324.6M75.7 1329.9V1312.7M76.6 1334.2V1315.4M79.4 1338.3V1323.5M86 1341.9V1338.6M86.9 1342.7V1336.7M87.9 1345.9V1336.1M91.9 1349.9V1344.2M94.8 1348.7V1340M96.7 1349.8V1344.8M99.5 1349.1V1341.1M104.3 1346V1341.1M107.2 1348.4V1341.5M111.2 1352.4V1337.9M114.2 1345.2V1340.8M120.1 1346.4V1332.3M122.3 1343.3V1340.4M123.2 1349.5V1340M126.3 1353.8V1341.4M127.5 1346.6V1341.5M129.5 1349.9V1347.8M133.8 1348.2V1340.7M142.2 1345V1336.5M143.2 1345.5V1337.8M144.2 1343.9V1338.6M145.1 1344.6V1340.7M146.1 1345.4V1336.5M147 1344.4V1332.8M149.7 1343.6V1336.5M150.6 1344.9V1339M151.5 1349.6V1336.1M153.3 1345.5V1334.9M154.2 1344.6V1340.5M157 1345.9V1335.1M158.8 1347.6V1338M159.8 1346.5V1340.4M178 1343.8V1336.3M182.6 1345.9V1333.7M183.5 1346.2V1341M184.4 1344.2V1333.3M185.4 1347V1338.5M188.2 1348.5V1336.6M190.1 1347.6V1340.2M194.7 1347.2V1338M201.9 1344.1V1341.8M202.8 1349.6V1337.2M205.6 1345.3V1335.3M213.7 1345.6V1335.3M214.6 1344.2V1337.4M219.1 1345.2V1337.9M224.6 1348.5V1343.2M227.4 1348.1V1339.5M228.3 1346.9V1340M229.3 1346.2V1343.6M233 1344.3V1330.9M239.4 1343.5V1339.9M240.4 1343.6V1336.2M243.1 1345.2V1338.1M245 1344.2V1334.1M245.9 1344V1339.9M248.7 1350V1341.1M250.7 1349.8V1343.3M251.7 1351.1V1344.4M258.2 1344.1V1337.3M262.8 1346.7V1341.3M265.6 1347V1340.9M275.8 1347.7V1334.2M279.9 1350V1342.2M285.4 1349.5V1346M288.2 1350.2V1342.7M291.8 1350.6V1344.3M296.4 1346V1341.8M302 1353V1343.4M305.5 1344.9V1334.5M306.6 1345.3V1338.4M316.5 1348.6V1337.5M317.4 1351.8V1337.5M319.3 1348.2V1340.3M322.3 1349.3V1345.7M323.3 1349.2V1343.9" fill="none" stroke="#0d0d0a" stroke-width="1.55"/>
<text x="333.8" y="1349.3" font-size="19">Percentage</text>
<text x="342.2" y="1371.8" font-size="19" text-anchor="middle">0</text>
<text x="370.5" y="1371.8" font-size="19" text-anchor="middle">0.4</text>
<text x="398.4" y="1371.8" font-size="19" text-anchor="middle">0.8</text>
<path d="M342.7 1378H412.3M342.7 1378v-3.8M356.6 1378v-3.8M370.5 1378v-3.8M384.5 1378v-3.8M398.4 1378v-3.8M412.3 1378v-3.8" stroke="#111" stroke-width="1.3" fill="none"/>
<g fill="#357f36" stroke="#0a0a0a" stroke-width="1.4"><rect x="342.7" y="1383.7" width="69.1" height="16.7"/><rect x="342.7" y="1410.5" width="62.6" height="16.7"/><rect x="342.7" y="1437.3" width="53.7" height="16.7"/><rect x="342.7" y="1464.1" width="49.7" height="16.7"/><rect x="342.7" y="1544.5" width="6" height="16.7"/><rect x="342.7" y="1571.3" width="7" height="16.7"/></g>
<path d="M343.6 1491.4v15.7M343.6 1518.2v15.7" stroke="#0a0a0a" stroke-width="2"/>
<g shape-rendering="crispEdges"><path d="M443.2 1378.5h1.3v26.8h-1.3zM454 1378.5h3.5v26.8h-3.5z" fill="#f79a66"/><path d="M444.5 1378.5h2.5v26.8h-2.5zM498.9 1378.5h2.5v26.8h-2.5z" fill="#f58a5e"/><path d="M447 1378.5h2.5v26.8h-2.5zM460.1 1378.5h1.3v26.8h-1.3zM466 1378.5h1.6v26.8h-1.6zM478.8 1378.5h1.6v26.8h-1.6zM484.5 1378.5h6v26.8h-6zM503.4 1378.5h4.6v26.8h-4.6zM510.5 1378.5h4v26.8h-4zM517.8 1378.5h2v26.8h-2zM457.7 1405.3h1v26.8h-1zM487.3 1405.3h2v26.8h-2zM456 1432.1h1.6v26.8h-1.6zM486.4 1432.1h2.5v26.8h-2.5zM493 1458.9h3.5v26.8h-3.5zM504.6 1458.9h3.5v26.8h-3.5zM460.5 1539.3h2.5v26.8h-2.5z" fill="#fbc880"/><path d="M449.5 1378.5h4.5v26.8h-4.5zM457.5 1378.5h1.3v26.8h-1.3zM470.1 1378.5h1.6v26.8h-1.6zM476.2 1378.5h1.6v26.8h-1.6zM480.4 1378.5h2.5v26.8h-2.5zM492.1 1378.5h4.3v26.8h-4.3zM515.8 1378.5h2v26.8h-2z" fill="#f9aa6e"/><path d="M458.8 1378.5h1.3v26.8h-1.3zM446.6 1405.3h1.6v26.8h-1.6zM458.7 1405.3h1.3v26.8h-1.3zM462 1405.3h1v26.8h-1zM489.3 1405.3h3.5v26.8h-3.5zM495.4 1405.3h2v26.8h-2zM500.4 1405.3h7v26.8h-7zM511.9 1405.3h4.6v26.8h-4.6zM523 1405.3h1.3v26.8h-1.3zM461.9 1432.1h3.5v26.8h-3.5zM471.4 1432.1h1v26.8h-1zM476.4 1432.1h10v26.8h-10zM488.9 1432.1h1.6v26.8h-1.6zM493.1 1432.1h1v26.8h-1zM499.1 1432.1h5.9v26.8h-5.9zM507.6 1432.1h1.3v26.8h-1.3zM511.9 1432.1h4.3v26.8h-4.3zM517.2 1432.1h3.5v26.8h-3.5zM524.2 1432.1h4.6v26.8h-4.6zM487 1458.9h6v26.8h-6zM511.1 1458.9h6.8v26.8h-6.8zM525 1458.9h3v26.8h-3z" fill="#feeea7"/><path d="M461.4 1378.5h4.6v26.8h-4.6zM508 1378.5h2.5v26.8h-2.5zM514.5 1378.5h1.3v26.8h-1.3zM521.1 1378.5h2v26.8h-2zM449.2 1405.3h8.5v26.8h-8.5zM460 1405.3h2v26.8h-2zM472.4 1432.1h3v26.8h-3zM492.1 1432.1h1v26.8h-1zM505 1432.1h2.6v26.8h-2.6zM501.1 1458.9h3.5v26.8h-3.5zM443.2 1539.3h1.6v26.8h-1.6zM454.7 1539.3h1v26.8h-1zM459.2 1539.3h1.3v26.8h-1.3z" fill="#fcd58b"/><path d="M467.6 1378.5h2.5v26.8h-2.5zM490.5 1378.5h1.6v26.8h-1.6zM496.4 1378.5h2.5v26.8h-2.5zM519.8 1378.5h1.3v26.8h-1.3zM526.1 1378.5h2.7v26.8h-2.7zM448.2 1405.3h1v26.8h-1zM467.3 1405.3h1v26.8h-1zM473 1405.3h4.9v26.8h-4.9zM483.8 1405.3h3.5v26.8h-3.5zM492.8 1405.3h2.6v26.8h-2.6zM497.4 1405.3h3v26.8h-3zM507.4 1405.3h3.5v26.8h-3.5zM516.5 1405.3h6.5v26.8h-6.5zM524.3 1405.3h4.5v26.8h-4.5zM457.6 1432.1h1.3v26.8h-1.3zM508.9 1432.1h3v26.8h-3zM516.2 1432.1h1v26.8h-1zM496.5 1458.9h3v26.8h-3zM508.1 1458.9h3v26.8h-3zM517.9 1458.9h2.5v26.8h-2.5zM524 1458.9h1v26.8h-1zM528 1458.9h0.8v26.8h-0.8zM444.8 1539.3h5.2v26.8h-5.2z" fill="#fde296"/><path d="M471.7 1378.5h4.5v26.8h-4.5zM477.8 1378.5h1v26.8h-1zM482.9 1378.5h1.6v26.8h-1.6zM501.4 1378.5h2v26.8h-2zM523.1 1378.5h3v26.8h-3zM490.5 1432.1h1.6v26.8h-1.6z" fill="#fab977"/><path d="M443.2 1405.3h3.4v26.8h-3.4zM450.7 1458.9h1v26.8h-1zM452.7 1458.9h3.5v26.8h-3.5zM467.5 1458.9h2.5v26.8h-2.5zM478.3 1458.9h1.6v26.8h-1.6zM485.3 1458.9h1.7v26.8h-1.7zM452.6 1539.3h2.1v26.8h-2.1zM466 1539.3h3v26.8h-3zM471.6 1539.3h1.3v26.8h-1.3zM479.5 1539.3h1.6v26.8h-1.6zM493.1 1539.3h4.5v26.8h-4.5zM504.2 1539.3h5v26.8h-5zM524.5 1539.3h1v26.8h-1zM450.7 1566.1h1v26.8h-1zM458.2 1566.1h3.5v26.8h-3.5zM472.5 1566.1h1v26.8h-1zM475.5 1566.1h3.5v26.8h-3.5zM481 1566.1h1v26.8h-1zM495.3 1566.1h9.5v26.8h-9.5zM510.9 1566.1h2v26.8h-2zM515.2 1566.1h1.3v26.8h-1.3zM523.3 1566.1h1v26.8h-1zM525.6 1566.1h3.2v26.8h-3.2z" fill="#5c7fb5"/><path d="M463 1405.3h4.3v26.8h-4.3zM468.3 1405.3h3.3v26.8h-3.3zM477.9 1405.3h5.9v26.8h-5.9zM458.9 1432.1h3v26.8h-3zM467.9 1432.1h3.5v26.8h-3.5zM475.4 1432.1h1v26.8h-1zM496.6 1432.1h2.5v26.8h-2.5zM520.7 1432.1h3.5v26.8h-3.5zM449.7 1458.9h1v26.8h-1zM451.7 1458.9h1v26.8h-1zM458.7 1458.9h2.5v26.8h-2.5zM499.5 1458.9h1.6v26.8h-1.6zM522 1458.9h2v26.8h-2zM455.7 1539.3h3.5v26.8h-3.5zM487 1566.1h3.8v26.8h-3.8z" fill="#fefbb8"/><path d="M471.6 1405.3h1.4v26.8h-1.4zM462.5 1458.9h2v26.8h-2zM470 1458.9h4v26.8h-4zM484 1458.9h1.3v26.8h-1.3zM445.7 1485.7h3v26.8h-3zM450 1485.7h3.5v26.8h-3.5zM466.3 1485.7h1v26.8h-1zM470.8 1485.7h3v26.8h-3zM476.3 1485.7h3.5v26.8h-3.5zM480.8 1485.7h6v26.8h-6zM491.1 1485.7h5.3v26.8h-5.3zM502.5 1485.7h7.8v26.8h-7.8zM512.8 1485.7h6.4v26.8h-6.4zM521.7 1485.7h1.6v26.8h-1.6zM443.2 1512.5h3.6v26.8h-3.6zM447.8 1512.5h4.1v26.8h-4.1zM453.2 1512.5h2.3v26.8h-2.3zM460.1 1512.5h3v26.8h-3zM466.1 1512.5h9.1v26.8h-9.1zM476.2 1512.5h3v26.8h-3zM480.5 1512.5h1.6v26.8h-1.6zM486.9 1512.5h2v26.8h-2zM490.2 1512.5h1.3v26.8h-1.3zM494.1 1512.5h1.3v26.8h-1.3zM497.9 1512.5h6v26.8h-6zM506.9 1512.5h1v26.8h-1zM509.2 1512.5h4.6v26.8h-4.6zM519.2 1512.5h7.1v26.8h-7.1zM450 1539.3h1.6v26.8h-1.6zM463 1539.3h3v26.8h-3zM469 1539.3h2.6v26.8h-2.6zM472.9 1539.3h6.6v26.8h-6.6zM481.1 1539.3h12v26.8h-12zM497.6 1539.3h6.6v26.8h-6.6zM509.2 1539.3h3.5v26.8h-3.5zM513.7 1539.3h10.8v26.8h-10.8zM525.5 1539.3h3.3v26.8h-3.3zM443.2 1566.1h7.5v26.8h-7.5zM454.2 1566.1h4v26.8h-4zM461.7 1566.1h10.8v26.8h-10.8zM473.5 1566.1h2v26.8h-2zM479 1566.1h2v26.8h-2zM482 1566.1h5v26.8h-5zM494 1566.1h1.3v26.8h-1.3zM504.8 1566.1h6.1v26.8h-6.1zM512.9 1566.1h2.3v26.8h-2.3zM516.5 1566.1h6.8v26.8h-6.8zM524.3 1566.1h1.3v26.8h-1.3z" fill="#5477b0"/><path d="M510.9 1405.3h1v26.8h-1zM465.4 1432.1h2.5v26.8h-2.5zM443.2 1458.9h6.5v26.8h-6.5zM490.8 1566.1h2.5v26.8h-2.5z" fill="#f5fad7"/><path d="M443.2 1432.1h2.5v26.8h-2.5z" fill="#eef7e4"/><path d="M445.7 1432.1h3.5v26.8h-3.5zM482.4 1458.9h1.6v26.8h-1.6z" fill="#80a2c9"/><path d="M449.2 1432.1h2v26.8h-2zM523.3 1485.7h1.3v26.8h-1.3zM493.1 1512.5h1v26.8h-1z" fill="#bbd6e4"/><path d="M451.2 1432.1h1.6v26.8h-1.6zM464.5 1458.9h3v26.8h-3zM443.2 1485.7h2.5v26.8h-2.5zM453.5 1485.7h9v26.8h-9zM465 1485.7h1.3v26.8h-1.3zM467.3 1485.7h3.5v26.8h-3.5zM473.8 1485.7h2.5v26.8h-2.5zM479.8 1485.7h1v26.8h-1zM486.8 1485.7h4.3v26.8h-4.3zM496.4 1485.7h6.1v26.8h-6.1zM524.6 1485.7h4.2v26.8h-4.2zM451.9 1512.5h1.3v26.8h-1.3zM458.5 1512.5h1.6v26.8h-1.6zM475.2 1512.5h1v26.8h-1zM479.2 1512.5h1.3v26.8h-1.3zM482.1 1512.5h3.5v26.8h-3.5zM488.9 1512.5h1.3v26.8h-1.3zM491.5 1512.5h1.6v26.8h-1.6zM495.4 1512.5h2.5v26.8h-2.5zM503.9 1512.5h3v26.8h-3zM507.9 1512.5h1.3v26.8h-1.3zM515.4 1512.5h2.5v26.8h-2.5zM526.3 1512.5h2.5v26.8h-2.5zM451.6 1539.3h1v26.8h-1zM451.7 1566.1h2.5v26.8h-2.5z" fill="#6486ba"/><path d="M452.8 1432.1h1.6v26.8h-1.6zM512.7 1539.3h1v26.8h-1z" fill="#a9c8dc"/><path d="M454.4 1432.1h1.6v26.8h-1.6zM456.2 1458.9h2.5v26.8h-2.5zM446.8 1512.5h1v26.8h-1z" fill="#cde4ec"/><path d="M494.1 1432.1h2.5v26.8h-2.5zM520.4 1458.9h1.6v26.8h-1.6zM493.3 1566.1h0.7v26.8h-0.7z" fill="#fafac8"/><path d="M461.2 1458.9h1.3v26.8h-1.3zM448.7 1485.7h1.3v26.8h-1.3zM462.5 1485.7h2.5v26.8h-2.5zM510.3 1485.7h2.5v26.8h-2.5zM519.2 1485.7h2.5v26.8h-2.5zM455.5 1512.5h3v26.8h-3zM463.1 1512.5h3v26.8h-3zM485.6 1512.5h1.3v26.8h-1.3zM513.8 1512.5h1.6v26.8h-1.6zM517.9 1512.5h1.3v26.8h-1.3z" fill="#7396c3"/><path d="M474 1458.9h1.3v26.8h-1.3z" fill="#daecee"/><path d="M475.3 1458.9h3v26.8h-3zM479.9 1458.9h2.5v26.8h-2.5z" fill="#9cbcd6"/></g>
<rect x="443.2" y="1360.3" width="85.6" height="16.9" fill="#9f4cbf"/>
<path d="M443.8 1360L443.8 1323.2H444.8L444.8 1324.7H445.7L445.7 1326.8H446.7L446.7 1329.3H447.7L447.7 1335H448.6L448.6 1335.4H449.6L449.6 1335H450.6L450.6 1335.3H451.6L451.6 1337.2H452.5L452.5 1340.4H453.5L453.5 1344.6H454.5L454.5 1349.7H455.4L455.4 1350.4H456.4L456.4 1349H457.4L457.4 1347.8H458.4L458.4 1352.2H459.5L459.5 1347.5H460.5L460.5 1347.7H461.6L461.6 1348H462.6L462.6 1344H463.6L463.6 1343.7H464.7L464.7 1343.4H465.7L465.7 1342.7H466.7L466.7 1345.7H467.9L467.9 1343.5H468.8L468.8 1345.5H469.7L469.7 1345.6H470.6L470.6 1347.2H471.5L471.5 1346H472.5L472.5 1345.5H473.6L473.6 1343.7H474.7L474.7 1342.4H475.8L475.8 1344.1H476.3L476.3 1341.4H477.4L477.4 1343.9H478.2L478.2 1345.7H479.5L479.5 1343.6H480.7L480.7 1343.1H482.4L482.4 1345.6H483.7L483.7 1346H485L485 1344.8H486.7L486.7 1348.1H487.7L487.7 1347.1H488.8L488.8 1346.5H489.8L489.8 1347.5H490.9L490.9 1344.8H491.9L491.9 1346.7H493L493 1348.1H494.1L494.1 1346.1H495.2L495.2 1344H496.2L496.2 1341.8H497.4L497.4 1346.4H498.6L498.6 1346.7H499.6L499.6 1344.8H500.6L500.6 1346H501.5L501.5 1346.9H502.5L502.5 1346.2H503.5L503.5 1345.9H504.4L504.4 1345.3H505.4L505.4 1349.6H506.4L506.4 1344.5H507.3L507.3 1342H508.2L508.2 1344.3H509.2L509.2 1344.5H509.8L509.8 1345.6H510.7L510.7 1341.2H512.2L512.2 1342.2H513.4L513.4 1346.6H514.3L514.3 1348.3H515.3L515.3 1346.9H516.4L516.4 1347.1H518L518 1346.2H519.1L519.1 1346.7H520.2L520.2 1346.5H521.6L521.6 1344.8H522.5L522.5 1349.4H523.4L523.4 1342.9H524.2L524.2 1340H525.7L525.7 1340.1H526.9L526.9 1344.6H527.7L527.7 1341.1H528.2L528.2 1360Z" fill="#0d0d0a"/><path d="M455.9 1348.2V1338.7H460V1347.2M458 1338.7V1333.1H464.7V1342.1M467.3 1345.1V1338.8H469.2V1343.1M461.3 1333.1V1323.9H468.3V1338.8M471 1346V1339.2H472V1341.2M471.5 1339.2V1335.9H474.1V1342.3M476 1342.9V1330.5H476.9V1340M477.8 1343.7V1339.4H479.5V1342.5M478.6 1339.4V1336.5H481.5V1341M476.4 1330.5V1325.2H480.1V1336.5M472.8 1335.9V1318H478.3V1325.2M483.7 1343.9V1334.3H485.8V1342.2M488.8 1346.2V1339.8H493.5V1343.9M484.8 1334.3V1323.8H491.2V1339.8M497.4 1341.2V1334.5H502.5V1344.7M506.9 1343.2V1332.1H507.8V1340.7M508.7 1342.6V1338H509.5V1343.1M510.3 1344.7V1337H511.5V1340M509.1 1338V1335.2H510.9V1337M507.3 1332.1V1329.8H510V1335.2M500 1334.5V1323.8H508.6V1329.8M513.9 1345.8V1337.4H514.8V1342.4M512.8 1340.1V1334.2H514.4V1337.4M517.2 1345.8V1338.6H519.1V1344.7M515.8 1340V1329.4H518.2V1338.6M513.6 1334.2V1324.1H517V1329.4M520.9 1344.3V1333.6H522.5V1343.3M521.7 1333.6V1330.2H523.8V1340M526.3 1340V1333.5H527.3V1344M526.8 1333.5V1329.4H527.9V1340M525 1340V1318.7H527.4V1329.4M522.8 1330.2V1315.8H526.2V1318.7M515.3 1324.1V1313.4H524.5V1315.8M504.3 1323.8V1310.5H519.9V1313.4M488 1323.8V1307.7H512.1V1310.5M475.5 1318V1301.7H500V1307.7M464.8 1323.9V1296.6H487.8V1301.7M447 1325V1290H476.3V1296.6M445.3 1325.7V1302.1M446.2 1327.8V1301.9M447.2 1330.3V1305M449.1 1336.4V1316M453 1341.4V1326.8M454 1345.6V1331.2M463.1 1345V1334.9M464.1 1344.7V1340.7M470.2 1346.6V1332.7M473 1346.5V1332.9M480.1 1344.6V1334.1M481.5 1344.1V1339.9M488.3 1348.1V1340.2M498 1347.4V1329.1M499.1 1347.7V1334.4M501.1 1347V1334.7M507.8 1343V1335.9M509.5 1345.5V1335.9M515.8 1347.9V1338.1M518.6 1347.2V1335.3M522 1345.8V1332.4M523.8 1343.9V1330.7M525 1341V1337.8M527.3 1345.6V1335.5" fill="none" stroke="#0d0d0a" stroke-width="1.55"/>
<text x="530" y="1349.3" font-size="19">Percentage</text>
<text x="535.6" y="1371.8" font-size="19" text-anchor="middle">0</text>
<text x="564.3" y="1371.8" font-size="19" text-anchor="middle">0.4</text>
<text x="592.1" y="1371.8" font-size="19" text-anchor="middle">0.8</text>
<path d="M536.5 1378H606M536.5 1378v-3.8M550.4 1378v-3.8M564.3 1378v-3.8M578.2 1378v-3.8M592.1 1378v-3.8M606 1378v-3.8" stroke="#111" stroke-width="1.3" fill="none"/>
<g fill="#357f36" stroke="#0a0a0a" stroke-width="1.4"><rect x="536.5" y="1383.7" width="69" height="16.7"/><rect x="536.5" y="1410.5" width="64.9" height="16.7"/><rect x="536.5" y="1437.3" width="62.9" height="16.7"/><rect x="536.5" y="1464.1" width="47.7" height="16.7"/><rect x="536.5" y="1544.5" width="9.7" height="16.7"/><rect x="536.5" y="1571.3" width="7.6" height="16.7"/></g>
<path d="M537.4 1491.4v15.7M537.4 1518.2v15.7" stroke="#0a0a0a" stroke-width="2"/>
<g shape-rendering="crispEdges"><path d="M636.6 1378.5h2v26.8h-2zM644.4 1378.5h4.1v26.8h-4.1zM650.8 1378.5h1.3v26.8h-1.3zM653.7 1378.5h4.2v26.8h-4.2zM658.9 1378.5h3v26.8h-3zM663.2 1378.5h3.5v26.8h-3.5zM670.6 1378.5h1.6v26.8h-1.6zM675.7 1378.5h2.5v26.8h-2.5zM681.7 1378.5h4.1v26.8h-4.1zM690.9 1378.5h1.6v26.8h-1.6zM699 1378.5h2v26.8h-2zM710.3 1378.5h1v26.8h-1zM715.4 1378.5h3v26.8h-3zM726.5 1378.5h1.6v26.8h-1.6zM735.3 1378.5h3v26.8h-3zM651.5 1405.3h1v26.8h-1zM666.1 1405.3h3.5v26.8h-3.5zM697 1405.3h4v26.8h-4zM703.5 1405.3h1.6v26.8h-1.6zM711 1405.3h2.5v26.8h-2.5zM731.7 1405.3h1.3v26.8h-1.3zM671.4 1432.1h3v26.8h-3zM696 1432.1h2.5v26.8h-2.5zM707.5 1432.1h1v26.8h-1zM711.1 1432.1h3.5v26.8h-3.5zM723.4 1432.1h2v26.8h-2zM728.6 1432.1h2.5v26.8h-2.5zM647.2 1458.9h1.6v26.8h-1.6zM652.1 1458.9h3.6v26.8h-3.6zM706.2 1458.9h1v26.8h-1zM724.9 1458.9h1.6v26.8h-1.6zM713 1539.3h2v26.8h-2zM672 1566.1h1v26.8h-1zM695 1566.1h2.5v26.8h-2.5z" fill="#fcd58b"/><path d="M638.6 1378.5h4.8v26.8h-4.8zM652.1 1378.5h1.6v26.8h-1.6zM661.9 1378.5h1.3v26.8h-1.3zM666.7 1378.5h1v26.8h-1zM701 1378.5h4.5v26.8h-4.5zM706.8 1378.5h3.5v26.8h-3.5zM711.3 1378.5h1.6v26.8h-1.6zM720 1378.5h2v26.8h-2zM728.1 1378.5h3.2v26.8h-3.2zM648.9 1405.3h1.3v26.8h-1.3zM677.2 1405.3h2.5v26.8h-2.5zM689.4 1405.3h3.6v26.8h-3.6zM674.4 1432.1h3.5v26.8h-3.5zM681.4 1432.1h3v26.8h-3zM636.6 1458.9h3v26.8h-3zM650.8 1458.9h1.3v26.8h-1.3z" fill="#fbc880"/><path d="M643.4 1378.5h1v26.8h-1zM648.5 1378.5h1.3v26.8h-1.3zM667.7 1378.5h1.6v26.8h-1.6zM685.8 1378.5h5.1v26.8h-5.1zM718.4 1378.5h1.6v26.8h-1.6zM650.2 1405.3h1.3v26.8h-1.3zM659 1405.3h7.1v26.8h-7.1zM674.7 1405.3h2.5v26.8h-2.5zM679.7 1405.3h3.5v26.8h-3.5zM706.4 1405.3h2v26.8h-2zM715.1 1405.3h2.5v26.8h-2.5zM719.6 1405.3h3.5v26.8h-3.5zM728.2 1405.3h1v26.8h-1zM733 1405.3h1.3v26.8h-1.3zM645.4 1432.1h4.8v26.8h-4.8zM659.8 1432.1h3.5v26.8h-3.5zM665.9 1432.1h3.5v26.8h-3.5zM695 1432.1h1v26.8h-1zM702 1432.1h3v26.8h-3zM709.8 1432.1h1.3v26.8h-1.3zM715.9 1432.1h3.5v26.8h-3.5zM734.9 1432.1h1.6v26.8h-1.6zM639.6 1458.9h1.6v26.8h-1.6zM644.7 1458.9h2.5v26.8h-2.5zM648.8 1458.9h2v26.8h-2zM655.7 1458.9h0.8v26.8h-0.8zM694 1458.9h5.1v26.8h-5.1zM702.1 1458.9h4.1v26.8h-4.1zM732.5 1458.9h4.8v26.8h-4.8zM693 1539.3h3v26.8h-3zM697.3 1539.3h5.6v26.8h-5.6zM706.4 1539.3h3.6v26.8h-3.6zM719 1539.3h3.5v26.8h-3.5zM674.3 1566.1h3.5v26.8h-3.5zM691.5 1566.1h3.5v26.8h-3.5zM705.6 1566.1h1v26.8h-1zM713.8 1566.1h2.5v26.8h-2.5z" fill="#feeea7"/><path d="M649.8 1378.5h1v26.8h-1zM657.9 1378.5h1v26.8h-1zM678.2 1378.5h3.5v26.8h-3.5zM692.5 1378.5h6.5v26.8h-6.5zM712.9 1378.5h2.5v26.8h-2.5zM722 1378.5h1v26.8h-1zM733.3 1378.5h2v26.8h-2zM636.6 1405.3h7.7v26.8h-7.7zM656 1405.3h3v26.8h-3zM669.6 1405.3h1.6v26.8h-1.6zM683.2 1405.3h1v26.8h-1zM685.8 1405.3h3.6v26.8h-3.6zM701 1405.3h2.5v26.8h-2.5zM705.1 1405.3h1.3v26.8h-1.3zM710 1405.3h1v26.8h-1zM717.6 1405.3h2v26.8h-2zM723.1 1405.3h1.6v26.8h-1.6zM729.2 1405.3h2.5v26.8h-2.5zM734.3 1405.3h1.3v26.8h-1.3zM738.6 1405.3h1.1v26.8h-1.1zM650.2 1432.1h8v26.8h-8zM664.3 1432.1h1.6v26.8h-1.6zM669.4 1432.1h2v26.8h-2zM677.9 1432.1h3.5v26.8h-3.5zM684.4 1432.1h2.6v26.8h-2.6zM714.6 1432.1h1.3v26.8h-1.3zM719.4 1432.1h3v26.8h-3zM725.4 1432.1h3.2v26.8h-3.2zM732.4 1432.1h2.5v26.8h-2.5zM641.2 1458.9h3.5v26.8h-3.5zM699.1 1458.9h3v26.8h-3zM707.2 1458.9h1.8v26.8h-1.8zM719 1458.9h4.6v26.8h-4.6zM726.5 1458.9h6v26.8h-6zM737.3 1458.9h2.4v26.8h-2.4zM710 1539.3h1v26.8h-1zM718 1539.3h1v26.8h-1zM725 1539.3h3.5v26.8h-3.5zM680.4 1566.1h1v26.8h-1zM684 1566.1h3.5v26.8h-3.5z" fill="#fde296"/><path d="M669.3 1378.5h1.3v26.8h-1.3zM738.3 1378.5h1.4v26.8h-1.4z" fill="#f79a66"/><path d="M672.2 1378.5h3.5v26.8h-3.5zM723 1378.5h3.5v26.8h-3.5zM646.4 1405.3h2.5v26.8h-2.5zM652.5 1405.3h3.5v26.8h-3.5zM684.2 1405.3h1.6v26.8h-1.6zM708.4 1405.3h1.6v26.8h-1.6zM713.5 1405.3h1.6v26.8h-1.6zM724.7 1405.3h1v26.8h-1zM735.6 1405.3h3v26.8h-3zM658.2 1432.1h1.6v26.8h-1.6zM663.3 1432.1h1v26.8h-1zM708.5 1432.1h1.3v26.8h-1.3zM722.4 1432.1h1v26.8h-1zM736.5 1432.1h3.2v26.8h-3.2zM667.7 1458.9h4.5v26.8h-4.5zM680.3 1458.9h1.6v26.8h-1.6zM723.6 1458.9h1.3v26.8h-1.3zM687 1539.3h6v26.8h-6zM702.9 1539.3h3.5v26.8h-3.5zM711 1539.3h2v26.8h-2zM715 1539.3h3v26.8h-3zM722.5 1539.3h2.5v26.8h-2.5zM731.5 1539.3h1v26.8h-1zM735 1539.3h4.7v26.8h-4.7zM644.1 1566.1h1v26.8h-1zM673 1566.1h1.3v26.8h-1.3zM679.1 1566.1h1.3v26.8h-1.3zM683 1566.1h1v26.8h-1zM689.5 1566.1h2v26.8h-2zM706.6 1566.1h2.4v26.8h-2.4zM720.8 1566.1h3.5v26.8h-3.5zM728.3 1566.1h1.6v26.8h-1.6z" fill="#fefbb8"/><path d="M705.5 1378.5h1.3v26.8h-1.3z" fill="#f9aa6e"/><path d="M731.3 1378.5h2v26.8h-2zM702.1 1566.1h3.5v26.8h-3.5z" fill="#fab977"/><path d="M644.3 1405.3h2.1v26.8h-2.1zM693 1405.3h2v26.8h-2zM637.6 1432.1h1.6v26.8h-1.6zM640.2 1432.1h1.3v26.8h-1.3zM660.5 1458.9h4.1v26.8h-4.1zM665.9 1458.9h1.8v26.8h-1.8zM689 1458.9h3v26.8h-3zM637.9 1512.5h7.1v26.8h-7.1zM647.6 1512.5h2.5v26.8h-2.5zM652.6 1512.5h3v26.8h-3zM668.6 1512.5h3v26.8h-3zM676.7 1512.5h3v26.8h-3zM687.5 1512.5h1.3v26.8h-1.3zM694.3 1512.5h5.1v26.8h-5.1zM702.9 1512.5h2.5v26.8h-2.5zM712 1512.5h5v26.8h-5zM720.5 1512.5h2v26.8h-2zM727 1512.5h1.6v26.8h-1.6zM731.6 1512.5h4.3v26.8h-4.3zM646.3 1539.3h1v26.8h-1zM662 1539.3h1v26.8h-1zM667 1539.3h2.9v26.8h-2.9zM677 1539.3h1.3v26.8h-1.3zM685.6 1539.3h1.4v26.8h-1.4zM640.5 1566.1h1v26.8h-1zM658.5 1566.1h3v26.8h-3z" fill="#5c7fb5"/><path d="M671.2 1405.3h3.5v26.8h-3.5zM725.7 1405.3h2.5v26.8h-2.5zM731.1 1432.1h1.3v26.8h-1.3zM681.9 1458.9h2v26.8h-2zM696 1539.3h1.3v26.8h-1.3zM732.5 1539.3h2.5v26.8h-2.5zM636.6 1566.1h1v26.8h-1zM641.5 1566.1h1v26.8h-1zM669.1 1566.1h2.9v26.8h-2.9zM677.8 1566.1h1.3v26.8h-1.3zM687.5 1566.1h2v26.8h-2zM697.5 1566.1h4.6v26.8h-4.6zM709 1566.1h3.5v26.8h-3.5zM736.3 1566.1h1.6v26.8h-1.6z" fill="#fafac8"/><path d="M695 1405.3h2v26.8h-2zM636.6 1432.1h1v26.8h-1zM639.2 1432.1h1v26.8h-1zM641.5 1432.1h3.9v26.8h-3.9zM656.5 1458.9h4v26.8h-4zM664.6 1458.9h1.3v26.8h-1.3zM687 1458.9h2v26.8h-2zM692 1458.9h2v26.8h-2zM636.6 1485.7h3.6v26.8h-3.6zM643.2 1485.7h13.7v26.8h-13.7zM662.4 1485.7h2v26.8h-2zM672.2 1485.7h1v26.8h-1zM676.7 1485.7h6.4v26.8h-6.4zM687.6 1485.7h7.9v26.8h-7.9zM699 1485.7h2.5v26.8h-2.5zM704 1485.7h3.3v26.8h-3.3zM710.3 1485.7h3.5v26.8h-3.5zM715.8 1485.7h2.3v26.8h-2.3zM719.4 1485.7h3v26.8h-3zM724.4 1485.7h2.5v26.8h-2.5zM728.2 1485.7h1v26.8h-1zM731.2 1485.7h4v26.8h-4zM738.8 1485.7h0.9v26.8h-0.9zM645 1512.5h1.6v26.8h-1.6zM655.6 1512.5h13v26.8h-13zM671.6 1512.5h5.1v26.8h-5.1zM679.7 1512.5h4.3v26.8h-4.3zM688.8 1512.5h5.5v26.8h-5.5zM699.4 1512.5h3.5v26.8h-3.5zM705.4 1512.5h6.6v26.8h-6.6zM722.5 1512.5h1v26.8h-1zM724.5 1512.5h2.5v26.8h-2.5zM728.6 1512.5h3v26.8h-3zM735.9 1512.5h3.8v26.8h-3.8zM636.6 1539.3h4.4v26.8h-4.4zM643 1539.3h1v26.8h-1zM645.3 1539.3h1v26.8h-1zM647.3 1539.3h0.7v26.8h-0.7zM650 1539.3h12v26.8h-12zM663 1539.3h4v26.8h-4zM669.9 1539.3h2.1v26.8h-2.1zM678.3 1539.3h3.5v26.8h-3.5zM683.1 1539.3h2.5v26.8h-2.5zM651.5 1566.1h5v26.8h-5z" fill="#5477b0"/><path d="M687 1432.1h2.5v26.8h-2.5zM691.5 1432.1h3.5v26.8h-3.5zM712 1458.9h2.5v26.8h-2.5zM737.9 1566.1h1.8v26.8h-1.8z" fill="#e6f4f0"/><path d="M689.5 1432.1h2v26.8h-2zM701.5 1485.7h2.5v26.8h-2.5zM712.5 1566.1h1.3v26.8h-1.3z" fill="#cde4ec"/><path d="M698.5 1432.1h3.5v26.8h-3.5zM705 1432.1h2.5v26.8h-2.5zM673.5 1458.9h6.8v26.8h-6.8zM683.9 1458.9h3.1v26.8h-3.1zM641 1539.3h2v26.8h-2zM648 1539.3h2v26.8h-2zM728.5 1539.3h3v26.8h-3zM642.5 1566.1h1.6v26.8h-1.6zM664.5 1566.1h1.6v26.8h-1.6zM681.4 1566.1h1.6v26.8h-1.6zM731.2 1566.1h1.6v26.8h-1.6z" fill="#f5fad7"/><path d="M672.2 1458.9h1.3v26.8h-1.3zM716.3 1566.1h1v26.8h-1z" fill="#eef7e4"/><path d="M709 1458.9h3v26.8h-3zM714.5 1458.9h3.5v26.8h-3.5zM674.5 1539.3h1.6v26.8h-1.6zM648.9 1566.1h2.6v26.8h-2.6zM732.8 1566.1h3.5v26.8h-3.5z" fill="#6b8ebe"/><path d="M718 1458.9h1v26.8h-1z" fill="#bbd6e4"/><path d="M640.2 1485.7h3v26.8h-3zM659.9 1485.7h2.5v26.8h-2.5zM664.4 1485.7h7.8v26.8h-7.8zM673.2 1485.7h3.5v26.8h-3.5zM685.6 1485.7h2v26.8h-2zM707.3 1485.7h2v26.8h-2zM713.8 1485.7h2v26.8h-2zM718.1 1485.7h1.3v26.8h-1.3zM722.4 1485.7h2v26.8h-2zM726.9 1485.7h1.3v26.8h-1.3zM729.2 1485.7h2v26.8h-2zM735.2 1485.7h3.6v26.8h-3.6zM636.6 1512.5h1.3v26.8h-1.3zM646.6 1512.5h1v26.8h-1zM650.1 1512.5h2.5v26.8h-2.5zM717 1512.5h3.5v26.8h-3.5zM723.5 1512.5h1v26.8h-1zM644 1539.3h1.3v26.8h-1.3zM681.8 1539.3h1.3v26.8h-1.3zM637.6 1566.1h2.9v26.8h-2.9zM645.1 1566.1h1.3v26.8h-1.3zM666.1 1566.1h3v26.8h-3z" fill="#6486ba"/><path d="M656.9 1485.7h3v26.8h-3zM683.1 1485.7h2.5v26.8h-2.5zM695.5 1485.7h3.5v26.8h-3.5zM684 1512.5h3.5v26.8h-3.5zM676.1 1539.3h0.9v26.8h-0.9zM646.4 1566.1h2.5v26.8h-2.5zM656.5 1566.1h2v26.8h-2zM717.3 1566.1h3.5v26.8h-3.5zM724.3 1566.1h2v26.8h-2zM729.9 1566.1h1.3v26.8h-1.3z" fill="#7396c3"/><path d="M709.3 1485.7h1v26.8h-1zM661.5 1566.1h3v26.8h-3z" fill="#a9c8dc"/><path d="M672 1539.3h2.5v26.8h-2.5zM726.3 1566.1h2v26.8h-2z" fill="#daecee"/></g>
<rect x="636.6" y="1360.3" width="103.1" height="16.9" fill="#f37c21"/>
<path d="M637.2 1360L637.2 1347.4H638.2L638.2 1347.2H639.3L639.3 1346.3H640.5L640.5 1345.7H641.6L641.6 1348.7H642.6L642.6 1344.2H643.5L643.5 1343.9H644.5L644.5 1347.9H645L645 1343.3H646.2L646.2 1342.2H647.6L647.6 1348.4H648.5L648.5 1344H650L650 1344.1H650.7L650.7 1341.8H651.6L651.6 1344.5H652.3L652.3 1346.8H653.3L653.3 1342.6H654.3L654.3 1342.7H655.6L655.6 1344.5H656.2L656.2 1342.5H656.8L656.8 1342.3H657.5L657.5 1343.1H658.9L658.9 1341.5H660L660 1341.6H661.1L661.1 1345.3H662.3L662.3 1345.5H663.3L663.3 1343.9H664.3L664.3 1342.8H665.3L665.3 1343.8H666.3L666.3 1345.1H667.3L667.3 1344.6H668.3L668.3 1343.5H669.2L669.2 1344.7H670.2L670.2 1345.9H671.2L671.2 1343.4H672.2L672.2 1343.7H673.2L673.2 1346.1H673.9L673.9 1347.6H674.9L674.9 1347.4H676.3L676.3 1347H677.1L677.1 1346.8H678.2L678.2 1342.9H679.5L679.5 1349.4H679.9L679.9 1347.6H681.3L681.3 1346.1H682.3L682.3 1345.6H683.3L683.3 1342H684.5L684.5 1342.4H685.2L685.2 1344.7H686.2L686.2 1342.4H687.1L687.1 1342.6H688.1L688.1 1344.4H689.1L689.1 1344.7H690L690 1346.9H691L691 1345H692L692 1344.1H692.9L692.9 1347.1H694L694 1344.7H695L695 1344H696.1L696.1 1345.4H697.2L697.2 1343.7H698.3L698.3 1343.3H699.4L699.4 1342.4H700.8L700.8 1343.3H702.1L702.1 1343.6H703L703 1344.3H704.1L704.1 1350.7H705.3L705.3 1341.1H706.2L706.2 1346.4H708L708 1344.9H709.3L709.3 1345.5H710.7L710.7 1344.7H711.7L711.7 1343.2H712.8L712.8 1348H713.8L713.8 1344.1H714.9L714.9 1344.6H715.9L715.9 1341.7H717.6L717.6 1344.6H718.1L718.1 1343.7H719.1L719.1 1344.3H720L720 1341.2H720.7L720.7 1342.9H721.5L721.5 1341.3H722.5L722.5 1342.5H723.4L723.4 1342.7H724.7L724.7 1342.9H726.1L726.1 1342.7H727L727 1347.6H727.9L727.9 1349.1H728.4L728.4 1343.8H729.7L729.7 1347.1H730.6L730.6 1345.9H731.4L731.4 1351H732.3L732.3 1344.2H733.5L733.5 1343.5H734.4L734.4 1346.1H735.7L735.7 1345.4H737L737 1347.3H738.1L738.1 1344.9H739.1L739.1 1360Z" fill="#0d0d0a"/><path d="M637.7 1345.8V1339.1H639.3V1345.7M641 1343.6V1333.7H643V1343.6M638.5 1339.1V1324.7H642V1333.7M644.7 1341V1321.6H645.6V1341M648 1347.8V1338.4H649.3V1342.2M648.6 1338.4V1335.4H650.4V1341M646.9 1341V1323.8H649.5V1335.4M645.2 1321.6V1319.5H648.2V1323.8M640.3 1324.7V1316.9H646.7V1319.5M651.9 1341.7V1336.8H652.8V1345.5M651.2 1341V1321.9H652.4V1336.8M651.8 1321.9V1317H653.8V1341M643.5 1316.9V1305H652.8V1317M655 1341V1317.6H655.9V1341M655.4 1317.6V1313H656.5V1341M657.2 1341V1319.2H658.2V1341M656 1313V1309.6H657.7V1319.2M659.5 1341V1316.9H660.6V1341M656.8 1309.6V1306.2H660V1316.9M648.1 1305V1301.8H658.4V1306.2M661.7 1343.1V1336.5H663.3V1343.4M662.5 1336.5V1328.7H668.8V1342.6M673.5 1345.4V1336H674.4V1342.8M676.7 1346.4V1340.3H677.6V1345.4M675.6 1342.4V1331.6H677.2V1340.3M673.9 1336V1328.2H676.4V1331.6M665.6 1328.7V1320.1H675.2V1328.2M679.7 1348.8V1340.9H680.6V1345M680.2 1340.9V1339.1H682.3V1344.2M678.8 1341V1334.5H681.2V1339.1M683.9 1341V1335.9H684.9V1342.1M680 1334.5V1331.5H684.4V1335.9M688.1 1342.1V1337.8H692V1343.8M694 1342.6V1338H697.2V1342.9M690 1337.8V1332.5H695.6V1338M682.2 1331.5V1324.4H692.8V1332.5M670.4 1320.1V1316.2H687.5V1324.4M701.5 1342.3V1333.6H702.5V1341.3M700.1 1341V1322.5H702V1333.6M703.5 1344.2V1339.8H704.7V1348.1M704.1 1339.8V1324.2H705.7V1341M701.1 1322.5V1319H704.9V1324.2M707.1 1345.6V1337.8H709.3V1343M713.3 1342.4V1335.9H716.8V1341.6M708.2 1337.8V1323.7H715V1335.9M703 1319V1316.8H711.6V1323.7M679 1316.2V1309.2H707.3V1316.8M717.8 1342.9V1339.6H719.1V1342.1M718.4 1339.6V1326.7H720.4V1341M719.4 1326.7V1320.4H721.1V1341M722 1341V1328.9H723V1341M727 1341.1V1338.6H728.2V1347.5M724.7 1341.4V1327.2H727.6V1338.6M722.5 1328.9V1321.1H726.2V1327.2M720.3 1320.4V1317.9H724.3V1321.1M731 1344.8V1338.2H731.8V1345.3M730.2 1346.4V1336.3H731.4V1338.2M729.1 1341V1329.2H730.8V1336.3M732.9 1343V1338.3H734V1342.5M735.7 1344V1336.5H738.1V1343.7M733.4 1338.3V1330.8H736.9V1336.5M729.9 1329.2V1323.2H735.2V1330.8M722.3 1317.9V1314.8H732.5V1323.2M693.1 1309.2V1303.6H727.4V1314.8M653.3 1301.8V1290H710.3V1303.6M641 1346.7V1340.4M644 1344.9V1335.9M649.3 1345V1329.8M656.5 1343.5V1337.9M660.6 1342.6V1337.1M675.6 1348.4V1331.5M680.6 1348.6V1334.7M682.8 1346.6V1336.3M684.9 1343.4V1331.5M685.7 1345.7V1339.6M686.7 1343.4V1340.5M687.6 1343.6V1335.4M690.5 1347.9V1331.7M691.5 1346V1341.8M693.5 1348.1V1332.4M697.8 1344.7V1331.7M702.5 1344.6V1333.9M705.7 1342.1V1338.3M711.2 1345.7V1335.3M713.3 1349V1333.9M716.8 1342.7V1339.1M719.5 1345.3V1340.3M723 1343.5V1332.3M725.4 1343.9V1336.1M728.2 1350.1V1342.9M729.1 1344.8V1333.7M730.2 1348.1V1344.5M734 1344.5V1339.4" fill="none" stroke="#0d0d0a" stroke-width="1.55"/>
<text x="741.3" y="1349.3" font-size="19">Percentage</text>
<text x="746.8" y="1371.8" font-size="19" text-anchor="middle">0</text>
<text x="775.3" y="1371.8" font-size="19" text-anchor="middle">0.4</text>
<text x="803.2" y="1371.8" font-size="19" text-anchor="middle">0.8</text>
<path d="M747.4 1378H817.1M747.4 1378v-3.8M761.3 1378v-3.8M775.3 1378v-3.8M789.2 1378v-3.8M803.2 1378v-3.8M817.1 1378v-3.8" stroke="#111" stroke-width="1.3" fill="none"/>
<g fill="#357f36" stroke="#0a0a0a" stroke-width="1.4"><rect x="747.4" y="1383.7" width="69.7" height="16.7"/><rect x="747.4" y="1410.5" width="65.5" height="16.7"/><rect x="747.4" y="1437.3" width="59.8" height="16.7"/><rect x="747.4" y="1464.1" width="51.2" height="16.7"/><rect x="747.4" y="1544.5" width="43" height="16.7"/><rect x="747.4" y="1571.3" width="32.8" height="16.7"/></g>
<path d="M748.3 1491.4v15.7M748.3 1518.2v15.7" stroke="#0a0a0a" stroke-width="2"/>
<g shape-rendering="crispEdges"><path d="M843.2 1378.5h1v26.8h-1zM858.5 1378.5h3v26.8h-3zM850.5 1405.3h1v26.8h-1zM856 1405.3h6.8v26.8h-6.8zM885.7 1405.3h7.8v26.8h-7.8zM896 1405.3h1v26.8h-1zM898 1405.3h1v26.8h-1zM902.3 1405.3h1v26.8h-1zM908.4 1405.3h3v26.8h-3zM927.1 1405.3h1v26.8h-1zM930.4 1405.3h1.6v26.8h-1.6zM940.1 1405.3h2v26.8h-2zM968.8 1405.3h0.8v26.8h-0.8zM862 1432.1h1v26.8h-1zM869.8 1432.1h1.6v26.8h-1.6zM882.7 1432.1h2.5v26.8h-2.5zM888.2 1432.1h2v26.8h-2zM895.7 1432.1h8.1v26.8h-8.1zM904.8 1432.1h1.3v26.8h-1.3zM907.4 1432.1h1.6v26.8h-1.6zM913.5 1432.1h5.3v26.8h-5.3zM929.8 1432.1h2v26.8h-2zM947.2 1432.1h3v26.8h-3zM953.7 1432.1h1.6v26.8h-1.6zM957.3 1432.1h1.6v26.8h-1.6zM960.9 1432.1h1.6v26.8h-1.6zM865.3 1458.9h1.3v26.8h-1.3zM890.8 1458.9h1v26.8h-1zM895.6 1458.9h5.9v26.8h-5.9zM902.5 1458.9h2v26.8h-2zM906.1 1458.9h1.6v26.8h-1.6zM910.9 1458.9h3.5v26.8h-3.5zM918.7 1458.9h4.3v26.8h-4.3zM928 1458.9h6.8v26.8h-6.8zM937.3 1458.9h2.5v26.8h-2.5zM942.3 1458.9h2v26.8h-2zM950.3 1458.9h1.6v26.8h-1.6zM952.9 1458.9h1.6v26.8h-1.6zM854.6 1539.3h2v26.8h-2zM872.4 1539.3h6v26.8h-6zM968.5 1539.3h1.1v26.8h-1.1zM848 1566.1h3v26.8h-3zM870.6 1566.1h2.5v26.8h-2.5zM877.6 1566.1h3.5v26.8h-3.5zM887.1 1566.1h4.5v26.8h-4.5zM908.1 1566.1h5.1v26.8h-5.1zM916.1 1566.1h3v26.8h-3zM921.1 1566.1h8v26.8h-8zM931.4 1566.1h3.5v26.8h-3.5zM936.5 1566.1h2.5v26.8h-2.5zM940 1566.1h5.8v26.8h-5.8zM952.8 1566.1h5.6v26.8h-5.6zM959.7 1566.1h2v26.8h-2zM964.7 1566.1h2v26.8h-2z" fill="#feeea7"/><path d="M844.2 1378.5h2.5v26.8h-2.5zM862.5 1378.5h1v26.8h-1zM870 1378.5h1.3v26.8h-1.3zM880.3 1378.5h1.6v26.8h-1.6zM886.4 1378.5h1v26.8h-1zM890 1378.5h1.3v26.8h-1.3zM894.8 1378.5h4.5v26.8h-4.5zM912.4 1378.5h2.5v26.8h-2.5zM931.6 1378.5h7v26.8h-7zM943.6 1378.5h1.3v26.8h-1.3zM963.5 1378.5h1.3v26.8h-1.3zM856.6 1539.3h4.3v26.8h-4.3zM884.2 1539.3h3v26.8h-3zM894 1539.3h1.6v26.8h-1.6zM906.8 1539.3h3.5v26.8h-3.5zM913.2 1539.3h2.5v26.8h-2.5zM939.3 1539.3h4.5v26.8h-4.5zM953.6 1539.3h1.6v26.8h-1.6zM961.2 1539.3h3.5v26.8h-3.5z" fill="#fab977"/><path d="M846.7 1378.5h1.6v26.8h-1.6zM861.5 1378.5h1v26.8h-1zM863.5 1378.5h3.5v26.8h-3.5zM881.9 1378.5h1v26.8h-1zM887.4 1378.5h1.6v26.8h-1.6zM875.6 1405.3h2.3v26.8h-2.3zM882.2 1405.3h3.5v26.8h-3.5zM897 1405.3h1v26.8h-1zM920.4 1405.3h1.6v26.8h-1.6zM936.6 1405.3h3.5v26.8h-3.5zM944.1 1405.3h3.5v26.8h-3.5zM956.6 1405.3h1.3v26.8h-1.3zM965.3 1405.3h3.5v26.8h-3.5zM849.3 1432.1h5.1v26.8h-5.1zM858.5 1432.1h3.5v26.8h-3.5zM890.2 1432.1h3.5v26.8h-3.5zM903.8 1432.1h1v26.8h-1zM931.8 1432.1h5.5v26.8h-5.5zM943.4 1432.1h3.8v26.8h-3.8zM958.9 1432.1h2v26.8h-2zM891.8 1458.9h1.3v26.8h-1.3zM904.5 1458.9h1.6v26.8h-1.6zM907.7 1458.9h3.2v26.8h-3.2zM934.8 1458.9h2.5v26.8h-2.5zM947.8 1458.9h2.5v26.8h-2.5zM958.6 1458.9h8.1v26.8h-8.1zM860.9 1539.3h3.5v26.8h-3.5zM882.9 1539.3h1.3v26.8h-1.3zM892 1539.3h2v26.8h-2zM902.3 1539.3h1v26.8h-1zM918.2 1539.3h2v26.8h-2zM923.4 1539.3h3.5v26.8h-3.5zM943.8 1539.3h5.6v26.8h-5.6zM952 1539.3h1.6v26.8h-1.6zM957.7 1539.3h3.5v26.8h-3.5zM964.7 1539.3h3.8v26.8h-3.8zM881.1 1566.1h4v26.8h-4zM898.6 1566.1h6.5v26.8h-6.5zM914.8 1566.1h1.3v26.8h-1.3zM945.8 1566.1h2v26.8h-2zM949.8 1566.1h3v26.8h-3z" fill="#fde296"/><path d="M848.3 1378.5h3v26.8h-3zM867 1378.5h2v26.8h-2zM889 1378.5h1v26.8h-1zM900 1378.5h1.6v26.8h-1.6zM910.8 1378.5h1.6v26.8h-1.6zM921.7 1378.5h1.3v26.8h-1.3zM946.2 1378.5h3.5v26.8h-3.5zM958 1378.5h5.5v26.8h-5.5zM868.9 1539.3h3.5v26.8h-3.5z" fill="#f9aa6e"/><path d="M851.3 1378.5h1v26.8h-1zM855.5 1378.5h3v26.8h-3zM904.6 1378.5h3.2v26.8h-3.2zM928.1 1378.5h3.5v26.8h-3.5zM968.3 1378.5h1.3v26.8h-1.3z" fill="#f79a66"/><path d="M852.3 1378.5h1.6v26.8h-1.6zM869 1378.5h1v26.8h-1zM871.3 1378.5h9v26.8h-9zM914.9 1378.5h1.3v26.8h-1.3zM919.2 1378.5h2.5v26.8h-2.5zM923 1378.5h5.1v26.8h-5.1zM941.6 1378.5h2v26.8h-2zM949.7 1378.5h1.3v26.8h-1.3zM954.5 1378.5h3.5v26.8h-3.5zM964.8 1378.5h2.5v26.8h-2.5zM923.6 1405.3h3.5v26.8h-3.5zM947.6 1405.3h3.5v26.8h-3.5zM954.6 1405.3h2v26.8h-2zM962.4 1405.3h1.3v26.8h-1.3zM909 1432.1h2v26.8h-2zM941.4 1432.1h2v26.8h-2zM917.4 1458.9h1.3v26.8h-1.3zM944.3 1458.9h3.5v26.8h-3.5zM951.9 1458.9h1v26.8h-1zM957 1458.9h1.6v26.8h-1.6zM864.4 1539.3h3.5v26.8h-3.5zM887.2 1539.3h1.6v26.8h-1.6zM890.4 1539.3h1.6v26.8h-1.6zM895.6 1539.3h5.7v26.8h-5.7zM903.3 1539.3h3.5v26.8h-3.5zM911.9 1539.3h1.3v26.8h-1.3zM920.2 1539.3h1.6v26.8h-1.6zM932.4 1539.3h2v26.8h-2zM937.7 1539.3h1.6v26.8h-1.6z" fill="#fbc880"/><path d="M853.9 1378.5h1.6v26.8h-1.6zM917.2 1378.5h2v26.8h-2z" fill="#f58a5e"/><path d="M882.9 1378.5h3.5v26.8h-3.5zM891.3 1378.5h3.5v26.8h-3.5zM899.3 1378.5h0.7v26.8h-0.7zM909.8 1378.5h1v26.8h-1zM938.6 1378.5h3v26.8h-3zM951 1378.5h3.5v26.8h-3.5zM967.3 1378.5h1v26.8h-1zM847 1405.3h3.5v26.8h-3.5zM852.5 1405.3h3.5v26.8h-3.5zM867.6 1405.3h1.9v26.8h-1.9zM877.9 1405.3h2v26.8h-2zM880.9 1405.3h1.3v26.8h-1.3zM899 1405.3h3.3v26.8h-3.3zM904.9 1405.3h3.5v26.8h-3.5zM913.4 1405.3h3.5v26.8h-3.5zM922 1405.3h1.6v26.8h-1.6zM933.6 1405.3h3v26.8h-3zM942.1 1405.3h2v26.8h-2zM856.9 1432.1h1.6v26.8h-1.6zM865.5 1432.1h3v26.8h-3zM885.2 1432.1h3v26.8h-3zM918.8 1432.1h3.5v26.8h-3.5zM926.8 1432.1h3v26.8h-3zM938.9 1432.1h2.5v26.8h-2.5zM950.2 1432.1h3.5v26.8h-3.5zM965.8 1432.1h3.8v26.8h-3.8zM923 1458.9h5v26.8h-5zM939.8 1458.9h2.5v26.8h-2.5zM954.5 1458.9h2.5v26.8h-2.5zM853 1539.3h1.6v26.8h-1.6zM867.9 1539.3h1v26.8h-1zM881.9 1539.3h1v26.8h-1zM888.8 1539.3h1.6v26.8h-1.6zM901.3 1539.3h1v26.8h-1zM910.3 1539.3h1.6v26.8h-1.6zM915.7 1539.3h2.5v26.8h-2.5zM921.8 1539.3h1.6v26.8h-1.6zM926.9 1539.3h5.5v26.8h-5.5zM934.4 1539.3h3.3v26.8h-3.3zM949.4 1539.3h2.6v26.8h-2.6zM955.2 1539.3h2.5v26.8h-2.5zM905.1 1566.1h3v26.8h-3zM920.1 1566.1h1v26.8h-1zM934.9 1566.1h1.6v26.8h-1.6zM958.4 1566.1h1.3v26.8h-1.3z" fill="#fcd58b"/><path d="M901.6 1378.5h3v26.8h-3zM916.2 1378.5h1v26.8h-1z" fill="#e6644b"/><path d="M907.8 1378.5h2v26.8h-2z" fill="#ee7754"/><path d="M944.9 1378.5h1.3v26.8h-1.3zM851.5 1405.3h1v26.8h-1zM866.3 1405.3h1.3v26.8h-1.3zM879.9 1405.3h1v26.8h-1zM903.3 1405.3h1.6v26.8h-1.6zM911.4 1405.3h2v26.8h-2zM916.9 1405.3h3.5v26.8h-3.5zM928.1 1405.3h2.3v26.8h-2.3zM932 1405.3h1.6v26.8h-1.6zM951.1 1405.3h3.5v26.8h-3.5zM961.4 1405.3h1v26.8h-1zM963.7 1405.3h1.6v26.8h-1.6zM843.2 1432.1h1.8v26.8h-1.8zM848 1432.1h1.3v26.8h-1.3zM854.4 1432.1h2.5v26.8h-2.5zM863 1432.1h2.5v26.8h-2.5zM871.4 1432.1h4.2v26.8h-4.2zM906.1 1432.1h1.3v26.8h-1.3zM911 1432.1h2.5v26.8h-2.5zM922.3 1432.1h4.5v26.8h-4.5zM937.3 1432.1h1.6v26.8h-1.6zM955.3 1432.1h2v26.8h-2zM962.5 1432.1h3.3v26.8h-3.3zM849.5 1458.9h1.6v26.8h-1.6zM868.2 1458.9h3v26.8h-3zM877 1458.9h2.5v26.8h-2.5zM881.1 1458.9h1.6v26.8h-1.6zM893.1 1458.9h2.5v26.8h-2.5zM901.5 1458.9h1v26.8h-1zM914.4 1458.9h3v26.8h-3zM878.4 1539.3h3.5v26.8h-3.5zM873.1 1566.1h4.5v26.8h-4.5zM885.1 1566.1h2v26.8h-2zM929.1 1566.1h2.3v26.8h-2.3zM939 1566.1h1v26.8h-1zM947.8 1566.1h2v26.8h-2zM961.7 1566.1h3v26.8h-3zM966.7 1566.1h1.6v26.8h-1.6z" fill="#fefbb8"/><path d="M843.2 1405.3h2.8v26.8h-2.8zM869.5 1405.3h3v26.8h-3zM845 1432.1h2v26.8h-2zM877.2 1432.1h2v26.8h-2zM885.6 1458.9h2.2v26.8h-2.2zM846.8 1539.3h1.6v26.8h-1.6zM843.2 1566.1h1.3v26.8h-1.3zM861.3 1566.1h1.3v26.8h-1.3z" fill="#5c7fb5"/><path d="M846 1405.3h1v26.8h-1zM862.8 1405.3h3.5v26.8h-3.5zM893.5 1405.3h2.5v26.8h-2.5zM957.9 1405.3h3.5v26.8h-3.5zM847 1432.1h1v26.8h-1zM868.5 1432.1h1.3v26.8h-1.3zM893.7 1432.1h2v26.8h-2zM856 1458.9h4.3v26.8h-4.3zM876 1458.9h1v26.8h-1zM887.8 1458.9h3v26.8h-3zM966.7 1458.9h2.9v26.8h-2.9zM844.5 1566.1h3.5v26.8h-3.5zM853.5 1566.1h2v26.8h-2zM891.6 1566.1h7v26.8h-7zM913.2 1566.1h1.6v26.8h-1.6zM968.3 1566.1h1.3v26.8h-1.3z" fill="#fafac8"/><path d="M872.5 1405.3h3.1v26.8h-3.1zM875.6 1432.1h1.6v26.8h-1.6zM879.2 1432.1h3.5v26.8h-3.5zM843.2 1458.9h1v26.8h-1zM854 1458.9h2v26.8h-2zM882.7 1458.9h2.9v26.8h-2.9zM843.2 1485.7h2.6v26.8h-2.6zM854.8 1485.7h2.5v26.8h-2.5zM859.3 1485.7h2v26.8h-2zM864.3 1485.7h5v26.8h-5zM872.8 1485.7h5.5v26.8h-5.5zM879.9 1485.7h3.5v26.8h-3.5zM886.4 1485.7h1.6v26.8h-1.6zM893 1485.7h2v26.8h-2zM898 1485.7h2.9v26.8h-2.9zM902.9 1485.7h6.7v26.8h-6.7zM920.1 1485.7h3.5v26.8h-3.5zM932 1485.7h13.5v26.8h-13.5zM946.8 1485.7h1v26.8h-1zM957.8 1485.7h3.5v26.8h-3.5zM847.7 1512.5h1.3v26.8h-1.3zM852 1512.5h1.3v26.8h-1.3zM861.9 1512.5h3.3v26.8h-3.3zM870.3 1512.5h5.1v26.8h-5.1zM878.9 1512.5h7.1v26.8h-7.1zM887 1512.5h13v26.8h-13zM904.5 1512.5h18.1v26.8h-18.1zM928 1512.5h7.5v26.8h-7.5zM937.1 1512.5h3.6v26.8h-3.6zM943.2 1512.5h2.5v26.8h-2.5zM950.7 1512.5h2.5v26.8h-2.5zM956.2 1512.5h6v26.8h-6zM967.2 1512.5h1.3v26.8h-1.3zM843.2 1539.3h2v26.8h-2zM848.4 1539.3h4.6v26.8h-4.6zM851 1566.1h2.5v26.8h-2.5z" fill="#5477b0"/><path d="M844.2 1458.9h2.8v26.8h-2.8zM849.3 1485.7h2.5v26.8h-2.5zM857.3 1485.7h2v26.8h-2zM861.3 1485.7h3v26.8h-3zM869.3 1485.7h3.5v26.8h-3.5zM883.4 1485.7h3v26.8h-3zM895 1485.7h3v26.8h-3zM900.9 1485.7h2v26.8h-2zM909.6 1485.7h10.5v26.8h-10.5zM923.6 1485.7h3.5v26.8h-3.5zM930 1485.7h2v26.8h-2zM945.5 1485.7h1.3v26.8h-1.3zM947.8 1485.7h1v26.8h-1zM951.8 1485.7h5v26.8h-5zM961.3 1485.7h2.5v26.8h-2.5zM966.3 1485.7h3.3v26.8h-3.3zM845.7 1512.5h2v26.8h-2zM853.3 1512.5h3.5v26.8h-3.5zM860.3 1512.5h1.6v26.8h-1.6zM865.2 1512.5h5.1v26.8h-5.1zM875.4 1512.5h3.5v26.8h-3.5zM886 1512.5h1v26.8h-1zM902.5 1512.5h2v26.8h-2zM922.6 1512.5h1.6v26.8h-1.6zM925.5 1512.5h2.5v26.8h-2.5zM935.5 1512.5h1.6v26.8h-1.6zM945.7 1512.5h5v26.8h-5zM953.2 1512.5h2v26.8h-2zM962.2 1512.5h2v26.8h-2zM862.6 1566.1h3v26.8h-3z" fill="#6486ba"/><path d="M847 1458.9h2.5v26.8h-2.5zM871.2 1458.9h3.5v26.8h-3.5z" fill="#eef7e4"/><path d="M851.1 1458.9h1.3v26.8h-1.3zM860.3 1458.9h3v26.8h-3z" fill="#e6f4f0"/><path d="M852.4 1458.9h1.6v26.8h-1.6zM863.3 1458.9h2v26.8h-2zM866.6 1458.9h1.6v26.8h-1.6zM874.7 1458.9h1.3v26.8h-1.3zM879.5 1458.9h1.6v26.8h-1.6zM919.1 1566.1h1v26.8h-1z" fill="#f5fad7"/><path d="M845.8 1485.7h3.5v26.8h-3.5zM851.8 1485.7h3v26.8h-3zM878.3 1485.7h1.6v26.8h-1.6zM888 1485.7h5v26.8h-5zM927.1 1485.7h2.9v26.8h-2.9zM948.8 1485.7h3v26.8h-3zM956.8 1485.7h1v26.8h-1zM963.8 1485.7h2.5v26.8h-2.5zM843.2 1512.5h2.5v26.8h-2.5zM900 1512.5h2.5v26.8h-2.5zM940.7 1512.5h2.5v26.8h-2.5zM955.2 1512.5h1v26.8h-1zM964.2 1512.5h3v26.8h-3zM968.5 1512.5h1.1v26.8h-1.1zM845.2 1539.3h1.6v26.8h-1.6z" fill="#7396c3"/><path d="M849 1512.5h3v26.8h-3z" fill="#a9c8dc"/><path d="M856.8 1512.5h3.5v26.8h-3.5zM866.9 1566.1h3.7v26.8h-3.7z" fill="#bbd6e4"/><path d="M924.2 1512.5h1.3v26.8h-1.3z" fill="#8eafd0"/><path d="M855.5 1566.1h2.5v26.8h-2.5z" fill="#cde4ec"/><path d="M858 1566.1h2v26.8h-2z" fill="#daecee"/><path d="M860 1566.1h1.3v26.8h-1.3zM865.6 1566.1h1.3v26.8h-1.3z" fill="#6b8ebe"/></g>
<rect x="843.2" y="1360.3" width="126.4" height="16.9" fill="#60b045"/>
<path d="M843.8 1360L843.8 1328.1H844.8L844.8 1338.5H845.7L845.7 1333.6H846.7L846.7 1335H847.6L847.6 1333.9H848.6L848.6 1345.4H849.6L849.6 1337.9H850.5L850.5 1342H851.5L851.5 1343.4H852.5L852.5 1346.6H853.8L853.8 1345.8H855L855 1349.4H856.2L856.2 1345.8H857.3L857.3 1347.7H858.3L858.3 1345.1H858.9L858.9 1351.9H859.9L859.9 1348.6H860.8L860.8 1349.2H861.7L861.7 1347.6H862.7L862.7 1343.8H864.2L864.2 1343.4H865.6L865.6 1344H866L866 1351H867.3L867.3 1343.4H868.8L868.8 1343.3H869.2L869.2 1349.9H870.7L870.7 1348.9H871.8L871.8 1346.1H872.9L872.9 1350.7H873.8L873.8 1345.8H874.8L874.8 1343.7H876L876 1346H876.7L876.7 1346H877.8L877.8 1346.6H879L879 1344.5H880L880 1345.8H881.1L881.1 1345.5H882.1L882.1 1347.5H883.2L883.2 1348H884.3L884.3 1346.5H885.4L885.4 1346.3H886.5L886.5 1350.4H887.4L887.4 1349.2H888.3L888.3 1349H889.2L889.2 1346.6H890.2L890.2 1348.9H891.2L891.2 1346.1H892.4L892.4 1344.8H893.7L893.7 1347.1H894.6L894.6 1344.5H895.9L895.9 1344.5H896.8L896.8 1345.2H897.7L897.7 1343.6H898.6L898.6 1347.3H899.5L899.5 1344H900.4L900.4 1344H901.3L901.3 1343.9H902.3L902.3 1343.2H903.2L903.2 1347.4H904.1L904.1 1345.3H905L905 1344.9H905.9L905.9 1345.7H906.8L906.8 1347.8H907.8L907.8 1344.2H908.7L908.7 1345H909.6L909.6 1345.3H910.5L910.5 1345.2H911.4L911.4 1344H912.4L912.4 1343.9H913.3L913.3 1345.1H914.2L914.2 1342.9H915.1L915.1 1345.5H916.1L916.1 1343.7H917L917 1344.6H918L918 1342.7H918.9L918.9 1347.1H919.8L919.8 1344.6H920.8L920.8 1345.1H921.7L921.7 1344.4H922.6L922.6 1344.2H923.6L923.6 1347.9H924.6L924.6 1346.6H925.5L925.5 1347.4H926.6L926.6 1345.8H927.6L927.6 1346.5H928.7L928.7 1347H929.7L929.7 1349H930.8L930.8 1348.8H931.9L931.9 1348.1H933L933 1348.8H934.2L934.2 1349H935.1L935.1 1345.6H936.1L936.1 1344.6H937.1L937.1 1345.5H938L938 1350.7H939.5L939.5 1347.4H940.5L940.5 1347.3H941.5L941.5 1347.2H942.4L942.4 1347.4H943.4L943.4 1349.2H944.4L944.4 1353.2H945.4L945.4 1350.1H946.4L946.4 1353.1H947.5L947.5 1352.7H948.5L948.5 1349.9H949.5L949.5 1345.7H950.6L950.6 1347H951.6L951.6 1348.7H952.7L952.7 1349.5H953.6L953.6 1349.2H954.9L954.9 1346.9H955.8L955.8 1348.7H956.8L956.8 1347.1H957.7L957.7 1346.7H958.6L958.6 1347.7H959.6L959.6 1347.7H960.5L960.5 1347H961.5L961.5 1346.7H962.4L962.4 1345.9H963.3L963.3 1346.8H964.3L964.3 1346.8H965.2L965.2 1346.4H966.2L966.2 1346H967.1L967.1 1346.6H968.1L968.1 1346.8H969L969 1360Z" fill="#0d0d0a"/><path d="M857.3 1343.7V1338.6H858.6V1342.7M855 1345.5V1335.3H857.9V1338.6M853.1 1342V1332.4H856.5V1335.3M860.8 1347.6V1339.5H863.4V1343.2M854.8 1332.4V1328.2H862.1V1339.5M865.8 1342V1337.5H866.7V1346.6M868 1342V1332.3H869V1343.2M866.2 1337.5V1324.7H868.5V1332.3M864.9 1342V1321.3H867.4V1324.7M869.9 1349.4V1341.6H871.2V1348.4M872.3 1344.5V1340.7H873.8V1345.6M870.6 1341.6V1338.3H873.1V1340.7M876.4 1345.3V1340.3H877.8V1344.6M875.4 1342V1338.4H877.1V1340.3M871.8 1338.3V1333.6H876.3V1338.4M884.3 1346.1V1341H887.9V1348.9M880.5 1343.7V1336.7H886.1V1341M894.1 1347V1340.7H895.2V1343.9M892.4 1344.5V1335.8H894.7V1340.7M890.2 1344.5V1332.9H893.5V1335.8M924.6 1345.7V1338H926.1V1347.1M918.9 1342.5V1336H925.3V1338M931.9 1347.4V1340.4H936.1V1343.6M928.1 1344.7V1335.8H934V1340.4M938.8 1347.3V1340.9H941.5V1345.6M953.1 1347.7V1341H954.2V1349.1M950.6 1345.3V1338.7H953.7V1341M952.1 1338.7V1336.8H961.9V1345.6M945.9 1349V1334.1H957V1336.8M940.1 1340.9V1331.9H951.5V1334.1M931.1 1335.8V1329H945.8V1331.9M922.1 1336V1326.8H938.4V1329M909.6 1343.5V1324.8H930.3V1326.8M900.4 1343V1320.7H919.9V1324.8M891.9 1332.9V1317H910.2V1320.7M883.3 1336.7V1312.2H901V1317M874 1333.6V1307.6H892.2V1312.2M866.1 1321.3V1303.2H883.1V1307.6M858.5 1328.2V1295.4H874.6V1303.2M846.4 1327.8V1290H866.5V1295.4M845.2 1339.5V1303.7M846.2 1334.6V1314.9M851 1343V1326.8M855.6 1350.4V1339M856.8 1346.8V1332.9M857.8 1348.7V1332.6M858.6 1346.1V1337M859.4 1352.9V1344M860.3 1349.6V1344.9M862.2 1348.6V1340.9M866.7 1352V1345.7M871.2 1349.9V1343.3M877.3 1347V1343.3M881.6 1346.5V1338.8M884.9 1347.5V1340.5M886 1347.3V1341.5M889.7 1347.6V1337.6M893 1345.8V1340.5M896.3 1345.5V1333.3M899.1 1348.3V1337.7M905.5 1345.9V1334.1M912.8 1344.9V1334.5M914.7 1343.9V1334.5M915.6 1346.5V1339.9M916.6 1344.7V1338.4M922.2 1345.4V1338.9M924.1 1348.9V1339.6M926.1 1348.4V1343.4M927.1 1346.8V1336.1M929.2 1348V1337.8M930.2 1350V1340.6M931.4 1349.8V1344M934.6 1350V1332.9M935.6 1346.6V1337.3M941.9 1348.2V1337.7M942.9 1348.4V1341.2M943.9 1350.2V1341.7M945.9 1351.1V1342M947 1354.1V1345.4M951.1 1348V1339M958.2 1347.7V1342.8M959.1 1348.7V1336.2M960.1 1348.7V1340.6M963.8 1347.8V1338.8" fill="none" stroke="#0d0d0a" stroke-width="1.55"/>
<text x="969.3" y="1349.3" font-size="19">Percentage</text>
<text x="976.7" y="1371.8" font-size="19" text-anchor="middle">0</text>
<text x="1005" y="1371.8" font-size="19" text-anchor="middle">0.4</text>
<text x="1032.9" y="1371.8" font-size="19" text-anchor="middle">0.8</text>
<path d="M977.1 1378H1046.9M977.1 1378v-3.8M991.1 1378v-3.8M1005 1378v-3.8M1019 1378v-3.8M1032.9 1378v-3.8M1046.9 1378v-3.8" stroke="#111" stroke-width="1.3" fill="none"/>
<g fill="#357f36" stroke="#0a0a0a" stroke-width="1.4"><rect x="977.1" y="1383.7" width="69.8" height="16.7"/><rect x="977.1" y="1410.5" width="64.8" height="16.7"/><rect x="977.1" y="1437.3" width="63.4" height="16.7"/><rect x="977.1" y="1464.1" width="61.6" height="16.7"/><rect x="977.1" y="1544.5" width="63.7" height="16.7"/><rect x="977.1" y="1571.3" width="59.4" height="16.7"/></g>
<path d="M978 1491.4v15.7M978 1518.2v15.7" stroke="#0a0a0a" stroke-width="2"/>
<g shape-rendering="crispEdges"><path d="M1080 1378.5h1v26.8h-1zM1104.9 1378.5h1.9v26.8h-1.9zM1080 1405.3h1v26.8h-1z" fill="#fab977"/><path d="M1081 1378.5h3v26.8h-3z" fill="#f58a5e"/><path d="M1084 1378.5h2.6v26.8h-2.6zM1087.6 1378.5h2v26.8h-2zM1090.6 1378.5h4.1v26.8h-4.1z" fill="#f9aa6e"/><path d="M1086.6 1378.5h1v26.8h-1zM1089.6 1378.5h1v26.8h-1zM1098.9 1378.5h3v26.8h-3zM1081 1458.9h1.6v26.8h-1.6z" fill="#fbc880"/><path d="M1094.7 1378.5h1.6v26.8h-1.6z" fill="#ee7754"/><path d="M1096.3 1378.5h1v26.8h-1zM1101.9 1378.5h3v26.8h-3zM1081 1405.3h2.5v26.8h-2.5zM1086.5 1405.3h1.5v26.8h-1.5zM1091 1405.3h3.2v26.8h-3.2zM1090.5 1432.1h4.5v26.8h-4.5zM1103.1 1432.1h3.7v26.8h-3.7zM1080 1458.9h1v26.8h-1zM1083 1539.3h2v26.8h-2z" fill="#fde296"/><path d="M1097.3 1378.5h1.6v26.8h-1.6zM1105 1405.3h1.8v26.8h-1.8zM1097 1432.1h1.6v26.8h-1.6zM1094 1458.9h2v26.8h-2z" fill="#fcd58b"/><path d="M1083.5 1405.3h3v26.8h-3zM1095.5 1405.3h3v26.8h-3zM1086 1432.1h4.5v26.8h-4.5zM1102.1 1432.1h1v26.8h-1zM1082.6 1458.9h1.3v26.8h-1.3zM1081 1566.1h3v26.8h-3z" fill="#feeea7"/><path d="M1088 1405.3h2v26.8h-2zM1085 1432.1h1v26.8h-1zM1080 1539.3h2v26.8h-2zM1098.6 1539.3h5.5v26.8h-5.5zM1092 1566.1h2.5v26.8h-2.5zM1097.7 1566.1h2v26.8h-2zM1102.7 1566.1h1v26.8h-1zM1105 1566.1h1.8v26.8h-1.8z" fill="#5c7fb5"/><path d="M1090 1405.3h1v26.8h-1zM1094.2 1405.3h1.3v26.8h-1.3zM1102 1405.3h3v26.8h-3zM1095 1432.1h2v26.8h-2zM1098.6 1432.1h3.5v26.8h-3.5zM1085.5 1458.9h4.5v26.8h-4.5zM1097.3 1458.9h2.5v26.8h-2.5zM1103.3 1458.9h1v26.8h-1z" fill="#fefbb8"/><path d="M1098.5 1405.3h3.5v26.8h-3.5zM1083.9 1458.9h1.6v26.8h-1.6zM1096 1458.9h1.3v26.8h-1.3zM1104.3 1458.9h2.5v26.8h-2.5zM1092 1539.3h2v26.8h-2z" fill="#fafac8"/><path d="M1080 1432.1h3v26.8h-3zM1090 1458.9h3v26.8h-3zM1088.9 1485.7h3.3v26.8h-3.3zM1094.8 1485.7h3.5v26.8h-3.5zM1105.6 1485.7h1.2v26.8h-1.2zM1080 1512.5h11.2v26.8h-11.2zM1094.7 1512.5h6.8v26.8h-6.8zM1102.5 1512.5h2.5v26.8h-2.5zM1082 1539.3h1v26.8h-1zM1085 1539.3h4.6v26.8h-4.6zM1094 1539.3h4.6v26.8h-4.6zM1080 1566.1h1v26.8h-1zM1087.5 1566.1h4.5v26.8h-4.5zM1094.5 1566.1h3.2v26.8h-3.2zM1099.7 1566.1h3v26.8h-3zM1103.7 1566.1h1.3v26.8h-1.3z" fill="#5477b0"/><path d="M1083 1432.1h2v26.8h-2zM1082.5 1485.7h6.4v26.8h-6.4zM1092.2 1485.7h2.6v26.8h-2.6zM1098.3 1485.7h1v26.8h-1zM1101.3 1485.7h4.3v26.8h-4.3zM1091.2 1512.5h2.5v26.8h-2.5zM1105 1512.5h1.8v26.8h-1.8zM1104.1 1539.3h2.7v26.8h-2.7zM1084 1566.1h3.5v26.8h-3.5z" fill="#6486ba"/><path d="M1093 1458.9h1v26.8h-1zM1099.8 1458.9h3.5v26.8h-3.5z" fill="#e6f4f0"/><path d="M1080 1485.7h2.5v26.8h-2.5z" fill="#a9c8dc"/><path d="M1099.3 1485.7h2v26.8h-2zM1093.7 1512.5h1v26.8h-1zM1101.5 1512.5h1v26.8h-1zM1089.6 1539.3h2.4v26.8h-2.4z" fill="#7396c3"/></g>
<rect x="1080" y="1360.3" width="26.8" height="16.9" fill="#8b3fb8"/>
<path d="M1080.6 1360L1080.6 1336.1H1081.6L1081.6 1329.5H1082.6L1082.6 1329.3H1083.6L1083.6 1328.5H1084.6L1084.6 1331.7H1085.5L1085.5 1331.6H1086.5L1086.5 1330H1087.5L1087.5 1329.5H1088.4L1088.4 1329.9H1089.4L1089.4 1336.7H1090.7L1090.7 1335.9H1091.9L1091.9 1344.7H1092.8L1092.8 1332.9H1093.7L1093.7 1335.4H1094.7L1094.7 1333.2H1095.7L1095.7 1335.1H1096.6L1096.6 1339.7H1097.6L1097.6 1337H1098.5L1098.5 1339.4H1099.5L1099.5 1337.7H1100.5L1100.5 1339.4H1101.4L1101.4 1336.1H1102.6L1102.6 1334.5H1103.8L1103.8 1334.3H1104.7L1104.7 1329.8H1106.2L1106.2 1360Z" fill="#0d0d0a"/><path d="M1090.7 1335.1V1325.5H1092.4V1334.5M1091.5 1325.5V1319.2H1094.7V1331.4M1103.2 1333.2V1323.1H1104.2V1331.6M1102 1334.6V1319H1103.7V1323.1M1102.9 1319V1310.1H1105.5V1326M1099 1335.8V1306.4H1104.2V1310.1M1093.1 1319.2V1302.5H1101.6V1306.4M1086.5 1327.2V1294.3H1097.3V1302.5M1081.5 1328.5V1290H1091.9V1294.3M1085.1 1332.7V1304.3M1087.9 1330.5V1325.4M1090 1337.7V1331.6M1091.3 1336.9V1319.2M1099 1340.4V1324.6M1105.5 1330.8V1323.7" fill="none" stroke="#0d0d0a" stroke-width="1.55"/>
<text x="1108.9" y="1349.3" font-size="19">Percentage</text>
<text x="1113.7" y="1371.8" font-size="19" text-anchor="middle">0</text>
<text x="1142.1" y="1371.8" font-size="19" text-anchor="middle">0.4</text>
<text x="1169.8" y="1371.8" font-size="19" text-anchor="middle">0.8</text>
<path d="M1114.3 1378H1183.7M1114.3 1378v-3.8M1128.2 1378v-3.8M1142.1 1378v-3.8M1155.9 1378v-3.8M1169.8 1378v-3.8M1183.7 1378v-3.8" stroke="#111" stroke-width="1.3" fill="none"/>
<g fill="#357f36" stroke="#0a0a0a" stroke-width="1.4"><rect x="1114.3" y="1383.7" width="69.4" height="16.7"/><rect x="1114.3" y="1410.5" width="63.3" height="16.7"/><rect x="1114.3" y="1437.3" width="48.6" height="16.7"/><rect x="1114.3" y="1464.1" width="51.6" height="16.7"/><rect x="1114.3" y="1490.9" width="3.5" height="16.7"/><rect x="1114.3" y="1544.5" width="18.5" height="16.7"/><rect x="1114.3" y="1571.3" width="12.5" height="16.7"/></g>
<path d="M1115.2 1518.2v15.7" stroke="#0a0a0a" stroke-width="2"/>
<text x="65.7" y="1066.1" font-size="19" text-anchor="end" font-style="italic">CD3D</text>
<text x="65.7" y="1092.9" font-size="19" text-anchor="end" font-style="italic">CD3E</text>
<text x="65.7" y="1119.7" font-size="19" text-anchor="end" font-style="italic">CD3G</text>
<text x="65.7" y="1146.5" font-size="19" text-anchor="end" font-style="italic">CD4</text>
<text x="65.7" y="1173.3" font-size="19" text-anchor="end" font-style="italic">CD8A</text>
<text x="65.7" y="1200.1" font-size="19" text-anchor="end" font-style="italic">CD8B</text>
<text x="65.7" y="1226.9" font-size="19" text-anchor="end" font-style="italic">IL2RA</text>
<text x="65.7" y="1253.7" font-size="19" text-anchor="end" font-style="italic">FOXP3</text>
<text x="59" y="1395" font-size="19" text-anchor="end" font-style="italic">CD3D</text>
<text x="59" y="1421.8" font-size="19" text-anchor="end" font-style="italic">CD3E</text>
<text x="59" y="1448.6" font-size="19" text-anchor="end" font-style="italic">CD3G</text>
<text x="59" y="1475.4" font-size="19" text-anchor="end" font-style="italic">CD4</text>
<text x="59" y="1502.2" font-size="19" text-anchor="end" font-style="italic">CD8A</text>
<text x="59" y="1529" font-size="19" text-anchor="end" font-style="italic">CD8B</text>
<text x="59" y="1555.8" font-size="19" text-anchor="end" font-style="italic">IL2RA</text>
<text x="59" y="1582.6" font-size="19" text-anchor="end" font-style="italic">FOXP3</text>
<text transform="translate(1067.4 1032) scale(1.06 1)" font-size="18.2">Log2(TPM+1)</text>
<linearGradient id="cbg" x1="0" y1="0" x2="0" y2="1"><stop offset="0.000" stop-color="#d0443a"/><stop offset="0.083" stop-color="#e6644b"/><stop offset="0.167" stop-color="#f58a5e"/><stop offset="0.250" stop-color="#f9aa6e"/><stop offset="0.333" stop-color="#fbc880"/><stop offset="0.417" stop-color="#fde296"/><stop offset="0.500" stop-color="#fefbb8"/><stop offset="0.583" stop-color="#f5fad7"/><stop offset="0.667" stop-color="#e6f4f0"/><stop offset="0.750" stop-color="#cde4ec"/><stop offset="0.833" stop-color="#a9c8dc"/><stop offset="0.917" stop-color="#7396c3"/><stop offset="1.000" stop-color="#5477b0"/></linearGradient>
<rect x="1083" y="1053" width="7.8" height="182.3" fill="url(#cbg)" stroke="#111" stroke-width="2"/>
<path d="M1091 1053.5h3.2M1091 1083.7h3.2M1091 1113.9h3.2M1091 1144h3.2M1091 1174.2h3.2M1091 1204.4h3.2M1091 1234.6h3.2" stroke="#111" stroke-width="1.3"/>
<text transform="translate(1097 1060.5) scale(1.1 1)" font-size="17.6">12</text>
<text transform="translate(1097 1090.7) scale(1.1 1)" font-size="17.6">10</text>
<text transform="translate(1097 1120.9) scale(1.1 1)" font-size="17.6">8</text>
<text transform="translate(1097 1151) scale(1.1 1)" font-size="17.6">6</text>
<text transform="translate(1097 1181.2) scale(1.1 1)" font-size="17.6">4</text>
<text transform="translate(1097 1211.4) scale(1.1 1)" font-size="17.6">2</text>
<text transform="translate(1097 1241.6) scale(1.1 1)" font-size="17.6">0</text>
<rect x="1134.5" y="1064.8" width="11.8" height="8.7" fill="#d4341f" stroke="#111" stroke-width="1.4"/>
<text transform="translate(1154.3 1074.6) scale(1.07 1)" font-size="18.2">PTC</text>
<rect x="1134.5" y="1083.6" width="11.8" height="8.7" fill="#9a4e2a" stroke="#111" stroke-width="1.4"/>
<text transform="translate(1154.3 1093.4) scale(1.07 1)" font-size="18.2">NTC</text>
<rect x="1134.5" y="1102.5" width="11.8" height="8.7" fill="#4a7fb0" stroke="#111" stroke-width="1.4"/>
<text transform="translate(1154.3 1112.3) scale(1.07 1)" font-size="18.2">TTC</text>
<rect x="1134.5" y="1121.3" width="11.8" height="8.7" fill="#f2e45a" stroke="#111" stroke-width="1.4"/>
<text transform="translate(1154.3 1131.1) scale(1.07 1)" font-size="18.2">PTH</text>
<rect x="1134.5" y="1140.2" width="11.8" height="8.7" fill="#e47fba" stroke="#111" stroke-width="1.4"/>
<text transform="translate(1154.3 1150) scale(1.07 1)" font-size="18.2">NTH</text>
<rect x="1134.5" y="1159" width="11.8" height="8.7" fill="#9f4cbf" stroke="#111" stroke-width="1.4"/>
<text transform="translate(1154.3 1168.8) scale(1.07 1)" font-size="18.2">TTH</text>
<rect x="1134.5" y="1177.8" width="11.8" height="8.7" fill="#f37c21" stroke="#111" stroke-width="1.4"/>
<text transform="translate(1154.3 1187.6) scale(1.07 1)" font-size="18.2">PTR</text>
<rect x="1134.5" y="1196.7" width="11.8" height="8.7" fill="#60b045" stroke="#111" stroke-width="1.4"/>
<text transform="translate(1154.3 1206.5) scale(1.07 1)" font-size="18.2">TTR</text>
<rect x="1134.5" y="1215.5" width="11.8" height="8.7" fill="#8b3fb8" stroke="#111" stroke-width="1.4"/>
<text transform="translate(1154.3 1225.3) scale(1.07 1)" font-size="18.2">NTY</text>
</svg>
</body></html>
